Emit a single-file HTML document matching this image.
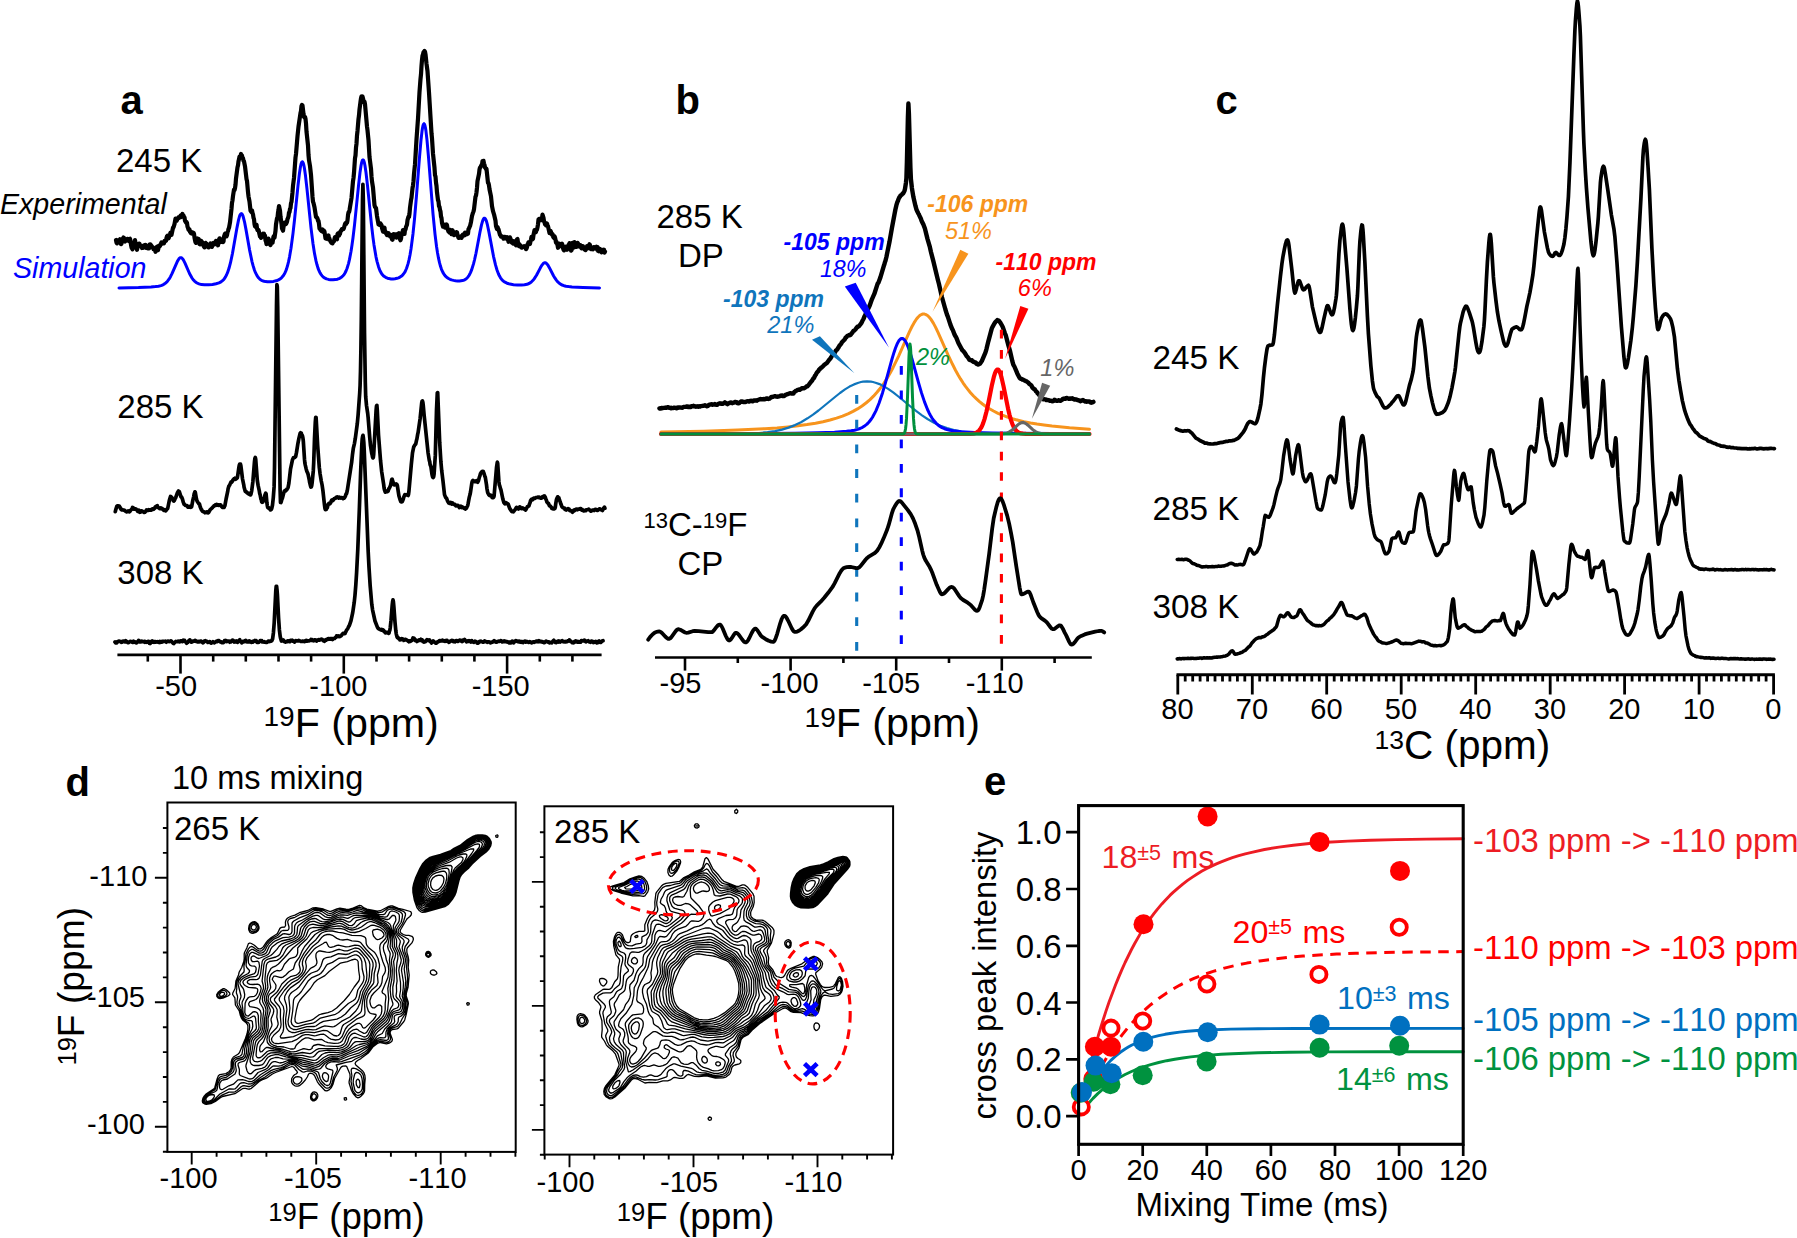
<!DOCTYPE html>
<html><head><meta charset="utf-8"><title>Figure</title>
<style>html,body{margin:0;padding:0;background:#fff}svg{display:block}text{font-family:'Liberation Sans', sans-serif;font-kerning:none;font-variant-ligatures:none}</style>
</head><body>
<svg width="1797" height="1238" viewBox="0 0 1797 1238">
<rect width="1797" height="1238" fill="#fff"/>
<text x="120.5" y="113.7" font-size="40" fill="#000" text-anchor="start" font-weight="bold" font-style="normal" >a</text>
<text x="116.0" y="171.8" font-size="33" fill="#000" text-anchor="start" font-weight="normal" font-style="normal" >245 K</text>
<text x="117.3" y="417.5" font-size="33" fill="#000" text-anchor="start" font-weight="normal" font-style="normal" >285 K</text>
<text x="117.3" y="583.7" font-size="33" fill="#000" text-anchor="start" font-weight="normal" font-style="normal" >308 K</text>
<text x="0.0" y="214.0" font-size="28.6" fill="#000" text-anchor="start" font-weight="normal" font-style="italic" >Experimental</text>
<text x="13.0" y="278.3" font-size="28.6" fill="#0000ff" text-anchor="start" font-weight="normal" font-style="italic" >Simulation</text>
<path d="M116.0 240.0L116.5 242.6L117.0 243.4L118.0 240.5L118.5 240.0L119.0 240.0L119.5 240.2L120.0 239.3L120.5 241.2L121.0 244.2L121.5 243.5L122.5 239.3L123.5 237.5L124.0 238.0L124.5 240.9L125.0 241.4L125.5 240.4L126.0 240.6L126.5 240.6L127.0 240.2L127.5 238.9L128.0 239.0L129.0 241.1L129.5 239.1L130.0 238.8L130.5 240.8L131.0 244.8L131.5 247.4L132.5 249.3L133.0 247.1L133.5 246.6L134.0 243.5L134.5 243.6L135.0 240.0L136.0 245.8L137.0 249.8L137.5 247.4L138.0 246.7L139.0 243.6L139.5 243.9L140.0 246.1L140.5 245.9L141.0 246.5L141.5 245.6L142.0 248.0L142.5 247.7L143.0 247.9L143.5 247.3L144.0 247.1L144.5 245.1L145.0 246.0L145.5 245.0L146.0 247.9L146.5 247.3L147.5 247.1L148.0 248.5L149.0 248.4L149.5 244.6L150.0 244.3L150.5 244.3L151.0 246.1L151.5 245.8L152.0 247.3L152.5 247.0L153.0 247.5L153.5 249.2L154.0 248.5L154.5 248.6L155.0 249.4L155.5 251.8L156.0 250.7L156.5 247.3L157.0 246.8L157.5 249.8L158.0 250.1L159.0 245.7L159.5 245.5L160.0 245.9L161.5 242.4L162.0 243.7L162.5 242.6L163.0 243.3L163.5 242.9L164.0 243.3L164.5 240.9L165.0 241.0L165.5 240.4L166.0 240.8L166.5 237.8L167.0 236.3L167.5 235.6L168.5 238.3L169.0 237.3L169.5 235.1L170.0 234.2L170.5 232.6L171.5 234.8L173.0 227.7L173.5 227.3L174.5 224.2L175.5 218.5L176.0 219.2L176.5 220.8L177.0 220.2L177.5 218.7L178.0 218.6L178.5 217.3L179.0 217.9L180.0 216.6L180.5 215.7L181.0 217.0L181.5 215.3L182.0 215.4L182.5 214.0L183.0 216.0L183.5 215.6L184.0 217.3L184.5 217.3L185.0 221.0L185.5 221.1L186.0 222.6L186.5 222.1L187.0 223.0L187.5 226.7L188.0 227.8L188.5 229.7L189.5 229.5L190.0 231.9L190.5 232.3L191.0 233.2L191.5 233.5L192.0 232.2L192.5 233.3L193.0 232.6L193.5 232.7L194.0 233.8L194.5 237.6L195.0 240.2L195.5 242.2L196.0 242.8L196.5 242.3L197.0 241.0L197.5 238.5L198.0 239.3L198.5 238.9L199.5 244.1L200.0 244.3L200.5 243.5L201.0 240.7L202.0 241.8L202.5 244.0L203.0 243.5L203.5 245.8L204.5 247.4L205.0 244.4L205.5 242.8L206.0 243.4L206.5 243.6L207.0 245.2L207.5 245.7L208.0 247.0L208.5 247.4L209.0 246.9L209.5 245.3L210.5 243.4L211.0 245.0L211.5 245.1L212.0 246.9L212.5 244.3L213.0 244.0L213.5 243.0L214.0 243.5L214.5 244.4L215.0 243.6L216.0 241.0L216.5 241.4L217.0 242.8L217.5 243.6L218.0 245.3L218.5 240.0L219.0 240.0L219.5 238.3L220.0 241.7L220.5 242.1L221.0 241.9L222.0 239.6L222.5 241.9L223.0 242.1L223.5 241.5L224.0 236.7L225.0 233.7L225.5 233.4L226.0 236.1L226.5 236.3L227.0 235.2L227.5 232.2L228.0 231.0L228.5 228.9L229.0 227.9L230.0 222.4L231.5 208.7L232.0 202.8L232.5 200.3L233.0 196.0L234.0 189.5L234.5 190.1L235.0 188.3L235.5 184.8L236.0 178.5L237.5 167.2L238.0 165.4L238.5 161.3L239.0 159.3L239.5 156.5L240.0 156.7L240.5 156.1L241.0 154.0L241.5 157.0L242.0 155.6L242.5 158.0L243.0 158.2L243.5 160.8L244.0 161.3L245.0 166.3L246.5 178.9L247.0 180.9L248.0 192.1L248.5 196.3L249.5 201.5L250.5 210.6L251.5 212.2L252.0 210.5L252.5 213.0L253.0 214.4L253.5 217.7L254.0 219.1L254.5 224.0L255.0 226.2L255.5 226.9L256.0 225.3L256.5 224.6L257.0 228.5L257.5 230.3L258.0 230.4L258.5 230.0L260.0 236.4L260.5 236.8L261.0 237.8L261.5 235.2L262.0 235.7L262.5 235.3L263.0 233.7L263.5 234.2L264.0 233.7L264.5 237.1L265.0 235.4L265.5 240.4L266.0 241.3L266.5 244.1L267.5 241.2L268.0 238.7L268.5 238.6L269.0 240.3L269.5 243.1L270.0 244.6L270.5 245.0L271.0 242.3L271.5 240.6L272.0 242.0L272.5 242.8L273.5 236.7L274.0 236.0L274.5 237.7L275.5 230.9L276.0 224.3L277.0 218.4L277.5 217.6L278.0 212.7L278.5 210.0L279.0 206.0L280.0 210.8L280.5 216.6L281.5 223.6L282.0 228.5L283.0 230.7L283.5 227.0L284.0 224.3L284.5 222.6L285.0 223.0L285.5 223.8L286.0 224.0L286.5 223.1L287.0 221.8L287.5 218.9L288.0 218.0L288.5 216.2L289.0 212.6L289.5 212.2L290.0 208.9L290.5 208.0L291.0 203.3L291.5 201.9L292.5 192.2L293.0 185.8L294.0 178.0L295.5 157.5L296.0 154.0L297.5 136.1L298.5 126.6L300.5 113.0L301.0 110.9L301.5 106.0L302.0 104.9L302.5 105.4L303.5 113.9L304.0 116.9L304.5 117.6L305.0 116.9L305.5 118.7L306.0 123.5L306.5 131.6L308.0 145.4L308.5 155.0L309.0 160.2L310.0 166.0L311.0 174.9L312.5 196.7L313.0 201.8L313.5 203.1L314.5 207.3L316.0 216.9L316.5 217.6L317.0 217.5L317.5 218.6L318.0 220.7L318.5 220.9L319.0 224.0L319.5 228.4L320.0 228.7L320.5 230.1L321.0 230.3L321.5 231.0L322.5 229.5L323.0 231.9L323.5 231.1L324.0 230.8L324.5 231.8L325.5 238.5L326.0 237.6L326.5 238.7L327.0 238.1L327.5 237.3L328.0 237.6L328.5 235.5L329.0 239.6L329.5 238.7L330.0 240.5L331.0 242.2L331.5 242.8L332.5 243.3L333.0 242.2L333.5 241.6L334.0 241.3L334.5 238.9L335.0 237.1L335.5 237.5L336.0 238.6L337.0 239.3L337.5 234.2L338.0 233.4L338.5 234.1L339.0 235.6L339.5 234.5L340.0 233.8L340.5 231.0L341.0 231.0L342.0 229.1L342.5 228.8L343.5 229.1L344.0 227.7L345.0 224.0L345.5 223.2L346.0 224.0L346.5 222.4L347.0 222.7L347.5 220.4L348.0 215.2L348.5 212.3L349.0 212.2L349.5 210.2L351.5 198.0L353.0 181.2L353.5 178.0L354.0 172.8L355.0 158.2L355.5 155.5L356.0 147.6L356.5 143.7L357.0 135.4L357.5 130.9L358.5 119.0L359.0 115.4L359.5 109.5L360.5 101.7L361.0 98.2L361.5 96.4L362.0 97.0L362.5 96.5L364.0 102.4L364.5 101.7L365.0 104.1L367.0 126.5L367.5 130.3L368.5 140.2L369.5 157.1L371.0 168.7L371.5 176.4L372.0 181.4L373.0 187.7L374.5 205.2L375.0 206.9L376.0 208.1L377.0 216.1L378.5 224.3L379.0 224.7L379.5 224.9L380.0 223.3L380.5 223.5L381.5 225.1L382.0 227.9L383.0 231.5L384.0 228.1L384.5 227.7L385.0 232.2L385.5 231.6L386.0 233.5L386.5 232.7L387.0 235.2L387.5 234.3L388.0 234.1L388.5 233.1L389.0 234.7L389.5 235.4L390.0 236.4L390.5 235.5L391.0 235.0L392.0 239.4L392.5 239.7L393.0 237.6L393.5 234.2L394.0 234.2L394.5 236.0L395.0 235.6L395.5 235.8L396.0 234.5L396.5 237.7L397.0 236.2L397.5 236.5L398.0 233.7L398.5 233.7L399.0 233.1L400.0 239.2L400.5 240.2L401.0 238.6L401.5 235.0L402.0 232.9L402.5 232.7L403.0 230.0L403.5 232.3L404.5 233.9L405.0 229.7L405.5 229.7L406.0 227.0L407.0 224.6L407.5 220.2L408.5 216.7L409.0 217.0L409.5 213.6L410.0 207.7L411.0 200.2L411.5 197.6L412.5 188.1L413.0 185.3L413.5 181.2L414.0 174.0L415.0 164.2L416.5 139.4L418.0 118.6L419.5 92.0L420.5 79.0L421.0 74.3L421.5 66.0L422.0 60.0L422.5 55.8L423.0 54.4L423.5 52.1L424.0 52.6L424.5 51.0L425.0 51.7L425.5 54.3L426.5 63.7L427.5 71.1L429.0 92.7L431.5 133.3L432.0 138.4L433.0 153.7L434.5 167.8L435.0 175.3L435.5 176.6L436.0 182.6L436.5 185.9L437.0 192.3L438.0 200.2L438.5 201.4L439.0 206.4L439.5 206.8L440.0 210.0L440.5 211.5L441.0 216.5L441.5 218.0L442.0 222.9L443.0 226.6L443.5 224.3L444.0 226.3L444.5 224.7L445.0 227.6L446.0 226.1L446.5 224.4L447.0 225.2L447.5 228.7L448.5 231.6L449.0 231.8L449.5 232.5L450.0 229.9L450.5 230.2L451.0 232.5L451.5 234.2L452.0 232.7L452.5 230.2L453.5 234.0L454.0 235.0L454.5 232.4L455.0 233.7L455.5 234.5L456.0 234.7L456.5 232.1L457.0 232.5L457.5 234.9L458.5 237.8L459.0 237.1L459.5 237.8L460.0 237.5L460.5 236.7L461.0 237.8L461.5 237.9L462.0 236.7L462.5 234.9L463.0 234.4L463.5 235.6L464.0 235.3L464.5 235.4L465.0 232.5L465.5 233.0L466.0 233.8L466.5 233.3L467.0 234.2L467.5 232.7L468.0 233.6L468.5 229.1L469.0 228.5L469.5 227.0L470.0 226.2L471.0 221.9L472.0 216.0L473.0 212.6L473.5 211.5L474.0 209.2L475.5 196.6L476.0 195.6L476.5 192.2L477.0 187.7L477.5 181.1L479.0 173.9L479.5 169.6L480.0 167.6L480.5 167.2L481.0 165.9L481.5 165.0L482.0 164.7L482.5 161.0L483.0 162.1L483.5 160.8L484.0 163.7L484.5 164.9L485.0 167.5L485.5 168.0L486.0 169.2L486.5 169.0L488.0 182.9L488.5 183.1L489.0 185.5L489.5 189.2L491.0 196.4L492.0 206.2L493.0 211.2L494.0 214.3L495.5 220.8L496.0 226.1L497.0 229.1L497.5 227.0L498.0 228.4L498.5 229.3L500.0 235.0L500.5 235.1L501.0 236.6L501.5 236.7L502.0 236.4L503.0 237.0L503.5 238.7L504.0 238.4L504.5 236.8L505.0 237.7L505.5 237.8L506.0 238.4L506.5 237.9L507.0 237.1L507.5 239.6L508.0 239.6L508.5 241.8L509.5 239.7L510.0 237.4L511.0 240.0L511.5 242.3L512.0 242.8L512.5 242.4L513.0 243.5L513.5 241.2L514.0 242.3L514.5 241.3L515.0 241.5L515.5 243.8L516.0 245.3L516.5 242.9L517.0 239.3L517.5 239.0L518.0 242.7L518.5 245.0L519.0 246.1L519.5 244.3L520.0 245.9L520.5 245.4L521.0 247.3L522.0 247.7L522.5 246.8L523.0 246.7L523.5 246.3L524.0 246.7L524.5 246.2L525.0 246.3L525.5 246.6L526.0 249.2L526.5 248.5L527.0 247.2L527.5 244.4L528.0 243.7L528.5 242.3L529.0 243.0L529.5 243.2L530.0 244.0L530.5 241.1L531.0 239.7L531.5 236.9L532.0 239.2L532.5 239.4L533.0 238.7L533.5 235.0L534.5 230.2L535.0 230.9L535.5 231.3L536.0 232.0L536.5 229.2L537.0 229.6L537.5 227.4L538.0 224.2L538.5 219.6L539.0 219.1L539.5 220.6L540.5 218.7L541.5 220.0L542.0 218.2L542.5 214.5L543.5 217.8L544.0 221.4L544.5 222.2L545.0 224.3L545.5 224.2L546.0 225.2L546.5 224.1L547.0 223.5L547.5 225.2L548.0 226.2L549.5 233.0L550.0 231.8L550.5 230.9L552.0 234.6L552.5 234.0L553.0 236.5L553.5 237.3L554.0 237.9L554.5 236.2L555.0 237.5L555.5 239.7L556.0 242.7L556.5 241.9L557.5 245.0L558.0 247.8L558.5 246.8L559.5 243.7L560.0 244.1L560.5 246.0L561.0 245.3L561.5 244.2L562.0 243.7L562.5 245.0L563.0 248.0L563.5 249.6L564.0 250.4L564.5 248.4L565.0 247.1L565.5 246.8L566.0 249.5L566.5 248.9L567.0 249.7L568.0 247.8L568.5 244.9L569.0 245.5L569.5 243.1L570.5 246.4L571.0 250.6L571.5 250.3L572.0 248.0L572.5 242.9L573.0 244.7L573.5 245.2L574.0 247.5L574.5 242.2L575.0 244.3L575.5 243.8L576.0 247.0L576.5 246.9L577.0 245.6L577.5 242.8L578.0 243.5L579.0 246.5L579.5 246.4L580.0 245.2L580.5 245.2L581.0 247.6L581.5 248.3L582.0 247.2L582.5 247.5L583.0 246.2L583.5 248.0L584.0 248.1L584.5 249.4L585.0 249.3L585.5 250.1L586.0 248.9L586.5 248.7L587.0 246.1L587.5 248.4L588.0 247.7L588.5 248.1L589.0 246.6L589.5 244.2L590.0 245.2L590.5 248.0L591.0 249.2L591.5 249.0L592.0 247.5L592.5 248.0L593.0 249.2L593.5 248.5L594.0 247.1L594.5 247.3L595.0 247.9L595.5 247.9L596.0 247.5L596.5 246.8L597.0 249.6L597.5 247.1L598.0 250.8L598.5 249.0L599.0 251.3L599.5 250.4L600.0 249.0L600.5 251.2L601.0 251.6L601.5 252.3L602.0 250.2L602.5 249.8L603.5 250.4L604.0 249.7L604.5 252.7L605.0 251.6" fill="none" stroke="#000" stroke-width="4.2" stroke-linejoin="round" stroke-linecap="round" />
<path d="M119.0 288.0L138.5 287.6L151.0 287.0L155.5 286.6L158.5 286.2L161.0 285.6L163.0 284.8L164.5 283.9L166.0 282.8L167.5 281.2L169.0 279.2L170.5 276.7L172.0 273.7L177.5 261.1L179.0 258.7L180.0 257.8L180.5 257.7L181.0 257.7L182.0 258.2L182.5 258.7L183.5 260.2L185.0 263.2L189.5 273.5L192.0 278.0L193.0 279.4L194.5 281.1L195.5 282.0L197.0 283.0L199.0 283.9L201.5 284.6L204.5 284.8L208.5 284.8L212.5 284.5L216.0 283.8L219.0 282.9L221.0 281.9L222.5 280.7L223.5 279.7L224.5 278.5L225.5 276.9L226.5 275.0L227.5 272.7L229.0 268.3L230.5 262.7L232.5 253.3L237.0 227.6L238.5 220.1L239.5 216.4L240.0 215.1L240.5 214.2L241.0 213.7L241.5 213.6L242.0 214.0L242.5 214.8L243.0 216.0L244.5 221.8L246.0 229.6L249.5 249.6L252.0 261.6L253.0 265.4L254.5 270.2L255.5 272.7L257.0 275.7L258.5 277.8L259.5 278.8L260.5 279.7L261.5 280.3L263.0 281.0L265.5 281.6L267.5 281.8L269.5 281.8L273.5 281.4L277.0 280.5L278.5 279.9L280.0 279.0L281.5 277.8L283.0 276.1L284.5 273.8L285.5 271.7L286.5 269.1L287.5 265.8L288.5 261.9L289.5 257.1L291.0 248.3L293.0 233.4L294.5 220.0L298.0 185.6L299.5 172.9L300.5 166.6L301.0 164.3L301.5 162.7L302.0 161.9L302.5 161.8L303.0 162.5L303.5 163.9L304.0 166.0L304.5 168.7L305.5 175.8L307.0 189.2L311.0 227.9L313.0 243.8L314.5 253.4L316.0 260.9L317.0 264.8L318.0 268.1L319.0 270.7L320.0 272.8L321.0 274.4L322.0 275.7L323.5 277.2L325.0 278.2L326.5 278.9L328.5 279.4L330.5 279.7L333.0 279.8L335.5 279.6L337.5 279.2L339.0 278.6L340.5 277.9L342.0 276.8L343.0 275.8L344.0 274.6L345.0 273.0L346.0 271.0L347.0 268.5L348.5 263.6L349.5 259.4L351.0 251.5L352.0 245.1L353.0 237.8L354.5 225.1L358.5 185.8L360.0 172.5L361.0 165.8L361.5 163.2L362.0 161.4L362.5 160.2L363.0 159.8L363.5 160.2L364.0 161.3L364.5 163.2L365.0 165.7L366.0 172.5L367.5 185.7L371.5 224.9L373.0 237.6L374.0 244.9L376.0 256.8L377.0 261.3L378.5 266.7L380.0 270.7L381.0 272.6L382.0 274.2L383.0 275.4L384.0 276.3L386.0 277.6L387.5 278.2L389.0 278.6L391.0 278.9L393.0 278.9L395.0 278.7L397.0 278.3L398.5 277.8L400.0 277.1L402.0 275.7L403.5 274.0L405.0 271.8L406.5 268.5L408.0 263.9L409.0 259.9L410.0 255.0L411.0 249.0L413.0 233.7L414.5 219.0L416.5 195.7L419.5 157.1L421.0 140.0L422.0 131.3L422.5 128.0L423.0 125.6L423.5 124.2L424.0 123.7L424.5 124.2L425.0 125.7L425.5 128.1L426.0 131.3L427.0 140.1L428.5 157.2L433.0 213.9L435.0 234.1L436.5 246.2L437.5 252.7L438.5 258.2L439.5 262.7L440.5 266.3L441.5 269.3L443.0 272.6L444.5 275.0L446.0 276.7L447.0 277.5L448.5 278.5L450.0 279.3L451.5 279.9L453.5 280.4L455.5 280.8L457.5 281.0L459.5 281.0L462.5 280.6L464.0 280.1L465.0 279.6L466.0 278.9L467.0 278.1L468.0 276.9L469.0 275.5L470.5 272.6L471.5 270.2L473.5 263.9L474.5 260.0L476.0 253.2L480.0 232.0L481.5 224.9L482.5 221.3L483.0 219.9L483.5 218.9L484.0 218.3L484.5 218.2L485.0 218.4L485.5 219.0L486.0 220.1L486.5 221.4L487.5 225.2L489.0 232.4L493.5 256.3L495.5 264.9L497.0 270.0L498.5 274.0L499.5 276.1L500.5 277.8L501.5 279.2L502.5 280.3L503.5 281.2L505.0 282.2L507.0 283.2L510.0 284.1L513.5 284.7L517.5 285.0L521.5 285.1L524.5 284.8L527.0 284.3L529.0 283.5L530.5 282.6L531.5 281.8L533.0 280.3L534.0 279.1L536.5 275.3L540.5 267.6L542.0 265.1L543.5 263.3L544.5 262.7L545.0 262.7L545.5 262.7L546.5 263.4L548.0 265.2L549.5 267.9L553.5 275.7L555.0 278.2L556.5 280.4L557.5 281.6L559.0 283.0L560.5 284.1L562.0 285.0L564.0 285.7L566.0 286.2L568.5 286.6L572.0 287.0L583.0 287.5L599.5 287.9" fill="none" stroke="#0000ff" stroke-width="3.0" stroke-linejoin="round" stroke-linecap="round" />
<path d="M115.3 511.7L115.7 509.9L116.9 506.1L117.3 505.9L118.1 505.9L118.5 506.6L119.3 506.2L119.7 507.0L120.1 507.3L120.5 508.4L121.3 509.6L121.7 509.8L122.5 509.6L122.9 510.0L124.1 510.3L124.5 510.2L124.9 510.6L125.3 510.8L125.7 511.3L126.1 511.4L126.5 511.9L126.9 511.8L127.3 511.3L127.7 511.4L128.1 511.0L128.5 511.2L128.9 511.7L129.3 511.8L129.7 511.6L130.5 510.4L131.3 509.7L132.1 508.5L132.5 507.5L133.3 507.8L133.7 508.7L134.1 509.1L134.5 508.9L134.9 509.0L135.3 508.9L136.1 509.0L136.5 509.8L136.9 509.9L137.7 511.3L138.1 510.5L138.5 511.0L138.9 510.2L139.3 510.7L139.7 512.3L140.1 511.9L140.5 512.1L140.9 511.1L141.3 510.8L142.1 511.0L144.1 512.4L144.5 512.0L144.9 512.2L145.7 511.3L146.5 510.0L146.9 510.5L147.3 510.3L147.7 510.5L148.1 510.4L148.5 509.8L148.9 510.1L149.3 509.9L149.7 509.9L150.1 510.1L150.5 509.9L150.9 510.2L151.3 510.2L151.7 509.3L152.5 508.8L153.3 508.8L153.7 509.2L154.1 508.4L154.5 508.0L154.9 508.1L155.3 506.9L155.7 507.4L156.1 506.9L156.5 506.1L157.3 505.7L157.7 506.6L158.9 508.2L159.3 508.0L159.7 508.7L160.1 508.7L160.5 508.0L160.9 507.9L161.3 508.3L161.7 508.3L162.1 508.6L162.5 509.2L162.9 509.3L163.7 510.2L164.1 509.7L164.5 509.9L165.3 510.8L165.7 510.9L166.9 509.2L167.7 508.5L169.3 500.6L170.5 496.5L170.9 496.6L171.7 497.3L172.1 498.3L172.5 498.5L172.9 499.2L173.3 500.7L173.7 501.0L174.5 500.3L174.9 498.9L175.7 497.7L177.3 493.0L178.5 491.0L178.9 491.5L179.3 491.6L180.9 496.6L181.3 497.2L181.7 497.2L182.5 499.2L183.3 502.4L183.7 503.1L184.1 504.3L184.5 504.4L185.3 505.4L186.9 505.5L187.7 506.9L188.1 507.2L188.5 506.9L188.9 506.9L189.7 506.5L190.1 507.2L190.5 507.1L190.9 507.3L191.3 507.0L191.7 506.5L192.9 499.9L193.7 496.6L194.1 494.2L194.9 491.8L195.3 492.4L196.5 499.2L196.9 500.6L197.7 502.2L198.5 503.0L198.9 503.9L199.3 503.8L199.7 504.8L200.1 506.5L200.9 508.5L201.3 509.4L201.7 509.7L202.1 510.7L202.5 511.3L202.9 511.6L203.7 511.6L204.9 512.7L205.3 512.3L205.7 512.5L206.5 511.9L206.9 512.5L207.3 512.2L207.7 512.7L208.1 512.9L208.5 512.7L208.9 512.2L209.3 511.1L210.5 509.3L211.7 508.3L212.1 507.8L212.5 507.6L213.3 506.5L213.7 506.5L214.1 505.7L214.5 505.4L214.9 505.6L215.3 504.9L215.7 505.4L216.5 504.5L216.9 504.7L217.3 504.6L217.7 505.2L218.1 505.3L218.9 505.2L219.7 504.8L220.1 504.8L220.5 505.4L220.9 505.2L221.3 506.2L222.5 507.4L222.9 507.5L223.7 506.9L224.1 507.4L224.5 506.0L224.9 505.7L226.1 499.0L227.7 491.4L228.1 488.7L228.9 486.1L229.3 485.7L229.7 485.0L230.9 482.2L231.3 482.5L231.7 482.0L232.1 481.8L232.9 480.1L233.3 480.0L233.7 479.1L234.1 478.6L234.5 478.8L234.9 478.3L235.7 479.2L236.1 478.7L236.5 478.5L237.3 477.8L237.7 475.7L238.9 467.3L239.3 465.2L239.7 464.1L240.5 464.1L240.9 465.9L242.5 478.8L243.7 484.6L244.1 487.3L245.3 491.5L245.7 491.6L246.1 491.9L246.5 491.9L246.9 492.7L247.3 492.7L247.7 493.4L248.1 493.6L248.5 493.4L248.9 494.0L249.3 493.5L249.7 494.4L250.1 494.5L250.5 494.9L250.9 494.4L251.7 490.8L252.9 481.4L254.5 461.5L254.9 458.5L255.3 457.5L255.7 459.1L257.3 480.4L258.1 485.4L259.3 490.9L259.7 493.5L260.1 494.6L260.9 499.0L261.3 499.7L261.7 501.9L262.1 502.3L262.9 502.0L264.5 497.1L264.9 495.2L265.7 493.2L266.1 493.8L266.9 502.8L267.3 505.6L267.7 507.4L268.1 507.9L268.5 507.5L268.9 508.4L269.3 508.8L269.7 508.7L270.5 509.9L270.9 509.0L271.3 509.4L271.7 508.7L272.5 505.0L273.3 497.6L274.1 486.9L274.5 468.4L276.5 305.9L276.9 284.6L277.3 286.9L277.7 306.5L280.1 489.9L280.5 502.4L280.9 502.5L281.3 501.5L281.7 499.9L282.5 497.8L284.1 491.6L284.5 491.0L284.9 491.2L285.3 490.3L285.7 490.8L286.1 490.4L286.5 489.5L286.9 489.6L287.3 488.5L287.7 488.4L288.1 487.4L288.9 483.1L290.5 469.2L292.5 459.7L293.3 457.9L293.7 457.8L294.1 457.3L294.5 457.5L294.9 457.3L295.7 456.4L296.5 452.4L297.7 444.7L298.9 438.4L300.1 433.3L300.5 432.8L300.9 433.4L301.3 433.2L301.7 434.9L302.1 435.1L302.5 436.0L302.9 437.8L303.3 440.9L304.5 459.2L304.9 463.2L305.3 465.2L306.1 468.7L306.9 471.5L307.7 473.1L308.1 474.3L309.3 480.1L309.7 482.6L310.5 485.9L310.9 487.0L311.3 486.8L311.7 485.6L312.1 483.0L313.3 470.7L313.7 462.9L314.5 438.9L315.3 422.1L315.7 417.3L316.1 417.6L317.7 446.2L319.3 467.5L320.1 474.0L321.3 481.1L322.1 485.0L322.9 490.5L324.5 505.1L324.9 508.1L325.3 509.6L326.1 509.5L326.5 509.0L326.9 508.1L327.3 507.8L328.1 504.4L328.5 504.0L328.9 503.3L329.3 503.1L329.7 503.8L330.1 503.6L330.9 502.3L331.3 500.8L331.7 500.1L332.1 499.9L332.9 500.5L333.7 499.6L334.1 498.7L334.5 498.7L334.9 498.3L335.7 498.2L336.1 497.4L336.5 497.5L336.9 497.0L337.3 496.8L337.7 497.5L338.1 497.3L338.9 498.0L339.3 497.1L339.7 497.7L340.1 497.8L340.5 498.1L341.3 497.5L341.7 497.7L342.1 497.7L342.5 498.4L342.9 498.6L343.3 498.2L343.7 498.1L344.1 498.2L344.5 497.8L344.9 496.9L345.3 496.4L346.1 493.9L346.5 493.9L347.3 490.5L351.7 461.9L352.5 454.4L353.3 448.4L354.5 443.3L355.3 438.4L357.3 423.6L358.1 415.0L359.7 393.1L360.1 385.3L360.5 370.9L360.9 349.9L361.3 320.1L362.5 199.8L362.9 184.3L363.3 198.6L364.5 332.7L365.3 382.2L365.7 396.7L366.5 405.5L367.7 413.4L368.1 417.2L369.7 437.2L370.5 445.5L371.7 453.3L372.1 454.7L372.5 456.8L372.9 457.9L373.3 457.6L373.7 454.4L376.1 410.3L376.5 406.0L376.9 405.4L377.3 410.5L378.5 434.8L380.5 460.3L381.7 471.7L383.7 484.7L384.1 488.1L384.5 489.9L385.3 492.2L385.7 492.0L386.9 491.2L387.3 491.6L387.7 491.2L388.1 491.1L388.9 488.5L389.3 488.2L390.5 485.6L391.7 479.5L392.1 479.1L392.9 481.5L393.3 483.2L393.7 484.3L394.1 484.8L394.9 484.8L395.7 484.1L396.1 483.9L396.9 484.3L397.3 485.4L398.9 495.8L400.1 499.7L400.9 501.7L401.3 501.9L402.1 501.7L402.5 501.1L403.3 499.1L403.7 497.4L404.1 496.3L404.9 494.6L405.3 495.1L405.7 495.0L406.1 494.7L406.5 495.0L406.9 494.8L408.1 495.5L408.5 494.6L408.9 491.6L411.3 464.5L412.5 452.9L413.7 447.0L414.9 444.9L415.7 444.2L416.5 440.3L416.9 439.0L417.7 434.1L418.1 432.5L420.1 418.7L421.7 403.0L422.1 401.2L422.5 401.0L422.9 402.4L423.3 405.8L424.1 414.8L428.1 453.0L429.3 460.5L429.7 461.5L430.1 464.5L430.9 466.7L432.1 474.9L432.5 476.6L432.9 477.3L433.3 477.5L433.7 476.5L434.1 473.9L435.3 455.4L436.5 410.3L437.3 392.9L437.7 392.6L439.7 442.7L440.9 462.0L441.7 470.6L442.9 480.2L444.5 494.6L445.7 497.6L446.5 498.1L447.7 501.3L448.5 502.7L448.9 503.1L449.7 503.4L450.1 503.0L450.5 502.4L450.9 503.1L451.7 504.0L452.1 503.8L452.5 503.0L453.7 504.3L454.9 504.4L455.3 504.9L455.7 505.8L456.1 505.7L456.5 505.8L457.3 505.3L457.7 505.3L458.1 505.6L458.5 506.4L458.9 506.6L459.3 507.5L459.7 507.3L460.1 506.6L460.5 506.8L460.9 506.3L461.7 507.5L462.1 506.8L462.5 507.3L462.9 507.2L463.3 507.5L463.7 508.2L464.1 508.1L464.5 508.4L464.9 508.2L465.3 509.0L465.7 508.8L466.1 508.2L466.5 508.1L466.9 506.8L467.3 506.3L467.7 505.5L468.1 503.7L469.3 497.2L470.1 494.3L470.5 492.2L471.7 483.9L472.1 481.9L472.5 480.9L472.9 480.5L473.7 480.9L474.9 481.7L475.3 481.6L476.1 480.9L476.5 480.7L477.3 481.9L477.7 482.2L478.5 480.6L479.3 477.4L479.7 476.4L480.5 473.6L480.9 473.3L481.3 472.2L482.5 471.3L482.9 471.3L483.3 471.6L484.1 473.7L484.9 476.5L485.3 477.2L486.5 484.7L486.9 488.3L487.7 492.6L488.9 494.9L489.7 495.6L490.1 495.5L490.5 495.1L490.9 495.2L491.3 495.9L491.7 496.3L492.1 497.5L492.5 497.7L492.9 497.6L493.3 497.7L493.7 497.2L494.1 495.9L496.5 467.6L497.3 462.2L497.7 463.4L498.9 481.4L499.3 484.8L499.7 485.6L500.5 488.7L500.9 489.6L502.9 499.3L503.7 502.0L504.1 502.9L504.9 503.9L505.3 502.8L505.7 502.6L506.1 502.7L506.5 503.0L506.9 503.7L507.3 503.9L507.7 503.7L508.1 504.0L509.7 508.4L511.7 511.4L512.1 511.6L512.5 511.4L512.9 511.7L513.3 511.8L513.7 511.0L514.1 510.9L514.5 510.3L515.3 509.5L515.7 508.5L516.5 507.4L516.9 507.5L517.3 508.2L517.7 508.4L518.1 508.4L518.5 509.0L518.9 508.2L519.3 507.9L519.7 506.9L520.1 507.0L520.5 507.9L520.9 508.1L521.3 508.6L521.7 508.4L522.1 508.5L522.5 508.0L523.3 508.8L523.7 508.4L524.5 509.0L524.9 509.1L525.3 509.8L525.7 510.0L527.3 506.8L528.1 506.5L528.5 506.0L528.9 506.0L529.7 503.4L530.1 502.7L530.5 500.8L531.3 499.5L531.7 499.1L532.1 499.6L532.5 499.8L532.9 499.5L533.3 498.7L533.7 498.2L534.1 498.4L534.9 498.3L535.3 498.1L535.7 497.5L537.3 497.5L537.7 497.1L538.1 497.3L538.5 497.2L538.9 497.2L539.3 497.6L539.7 497.4L540.1 497.7L540.5 498.2L540.9 498.1L541.3 497.7L541.7 498.0L542.1 497.1L542.5 496.8L542.9 497.3L543.3 496.5L544.1 495.8L544.5 496.0L545.3 497.2L545.7 498.7L546.5 500.5L546.9 502.1L547.3 502.3L548.1 503.3L548.5 503.4L549.3 505.5L549.7 505.9L550.5 506.2L550.9 506.9L551.3 507.2L551.7 508.3L552.1 508.6L552.5 508.4L552.9 508.8L553.3 508.3L553.7 508.3L554.1 508.9L554.5 508.6L554.9 508.6L555.3 507.2L555.7 504.0L556.5 499.4L556.9 498.4L557.3 497.8L557.7 496.8L558.1 497.4L558.5 497.5L558.9 497.9L559.7 500.7L560.1 501.5L560.9 504.1L562.1 506.9L562.9 507.6L563.7 507.9L564.1 508.2L564.5 508.2L564.9 509.4L565.3 509.5L566.1 510.0L566.9 509.1L567.3 509.5L567.7 509.2L568.1 508.6L568.5 509.4L568.9 508.9L569.3 509.5L569.7 510.6L570.9 510.7L571.3 511.0L571.7 511.0L572.1 511.9L572.5 512.3L572.9 511.2L573.3 511.4L573.7 510.3L574.1 510.0L574.5 510.5L576.1 509.1L576.5 509.2L577.3 509.8L577.7 509.7L578.1 509.0L578.5 509.0L578.9 509.2L579.3 509.0L579.7 509.2L580.1 508.6L580.5 508.7L580.9 508.7L581.7 510.0L582.1 509.4L582.9 510.1L583.3 510.6L583.7 510.9L585.3 510.3L585.7 510.6L586.1 509.9L586.9 509.9L588.1 509.4L588.5 509.7L588.9 509.3L589.3 509.8L590.1 510.2L590.5 511.0L590.9 510.8L591.3 511.0L592.1 510.3L592.9 510.1L593.3 510.2L593.7 510.1L594.1 510.5L594.9 509.5L595.3 509.3L596.1 509.6L596.9 510.3L597.3 510.1L597.7 510.3L598.1 509.6L598.5 509.7L599.3 508.9L599.7 509.4L600.1 509.1L600.5 509.6L600.9 509.4L601.7 510.1L602.1 510.1L602.5 510.5L603.7 508.1L604.1 508.0L604.5 507.2L604.9 508.2" fill="none" stroke="#000" stroke-width="3.7" stroke-linejoin="round" stroke-linecap="round" />
<path d="M115.0 642.0L115.8 642.9L116.2 642.5L116.6 642.9L117.8 641.6L118.2 641.5L118.6 641.1L119.0 641.3L119.4 641.2L120.2 641.5L120.6 641.7L121.0 642.2L121.4 641.8L121.8 642.2L122.2 642.1L123.0 641.2L123.4 641.7L123.8 641.6L124.2 641.3L124.6 641.8L125.0 641.9L125.8 640.7L126.2 641.2L127.0 641.6L127.8 642.7L128.2 642.6L128.6 642.7L129.0 642.2L129.4 642.0L129.8 642.0L130.2 641.4L131.4 641.5L131.8 642.0L132.2 642.3L132.6 641.7L133.0 642.4L133.4 642.1L133.8 641.3L134.6 642.0L135.0 641.8L135.8 642.7L136.6 642.9L137.4 642.2L137.8 641.2L138.2 641.1L138.6 640.4L139.0 640.9L139.4 641.6L139.8 641.9L140.2 641.5L140.6 641.9L141.0 641.9L141.4 641.1L141.8 641.3L143.0 641.6L143.8 641.6L144.6 642.2L145.0 641.4L145.4 642.0L146.2 642.3L147.0 642.0L147.4 641.5L147.8 641.6L148.2 641.3L148.6 641.3L149.4 643.2L149.8 642.9L150.2 643.5L150.6 642.9L151.0 641.7L151.4 641.3L151.8 641.3L152.2 640.9L153.0 642.2L153.4 642.2L153.8 642.3L154.2 641.6L154.6 641.6L155.0 641.6L155.4 642.0L155.8 641.6L156.2 642.1L157.4 641.7L157.8 642.2L158.2 642.0L159.0 642.5L159.4 641.7L159.8 641.5L160.2 642.1L160.6 642.3L161.0 642.0L161.8 642.2L162.2 641.3L163.4 641.6L163.8 641.3L164.2 641.5L165.4 641.2L166.2 642.2L167.0 641.6L167.4 641.5L167.8 641.0L168.2 641.0L169.0 641.6L169.8 641.5L170.6 641.0L171.0 640.9L171.4 641.1L173.0 643.2L173.8 643.5L174.2 642.8L174.6 642.6L175.0 642.1L175.4 641.9L175.8 641.4L176.2 641.7L176.6 641.5L177.0 641.7L177.4 641.5L177.8 641.7L178.2 641.1L178.6 641.5L179.0 641.4L179.4 641.8L180.2 641.7L180.6 640.8L181.0 640.8L181.4 641.2L181.8 640.9L182.6 641.6L183.0 641.1L183.4 640.1L184.2 640.5L184.6 640.4L185.0 641.4L185.4 641.8L185.8 642.1L186.6 643.2L187.0 642.3L187.4 642.2L187.8 642.4L188.6 640.8L189.0 640.8L189.4 640.5L189.8 639.9L190.2 640.3L191.0 641.8L191.4 642.2L191.8 642.0L192.2 641.9L193.0 641.1L193.4 641.0L194.2 641.2L195.0 640.4L195.4 640.5L195.8 641.2L196.2 641.5L196.6 641.4L197.0 641.7L197.4 641.9L198.2 641.4L198.6 641.7L199.4 641.8L200.2 641.2L200.6 641.5L201.0 641.1L201.4 641.2L202.6 642.6L203.0 642.8L203.8 642.1L204.6 640.9L205.0 640.9L205.4 640.7L206.2 641.3L206.6 641.4L207.0 641.3L207.8 642.4L208.2 642.1L209.0 642.2L209.4 641.7L209.8 641.6L210.6 642.5L211.0 643.1L211.4 643.1L211.8 642.6L212.6 642.3L213.0 641.8L214.2 642.8L215.0 642.4L215.4 641.8L215.8 641.8L216.2 641.5L216.6 641.1L217.0 641.2L217.4 641.5L217.8 640.7L218.2 640.6L219.0 640.7L219.8 641.6L220.2 641.7L220.6 642.0L221.0 642.1L221.4 641.9L221.8 642.5L222.2 642.3L222.6 642.6L223.0 642.4L223.4 642.6L223.8 642.1L224.2 641.9L224.6 640.6L225.0 641.4L225.8 640.4L226.2 640.7L226.6 641.5L227.0 641.1L227.4 641.4L227.8 641.2L228.2 641.4L228.6 641.2L229.0 641.1L229.4 641.4L229.8 642.2L230.2 641.9L230.6 642.0L231.0 641.9L231.8 640.6L232.6 640.1L233.0 640.2L233.4 640.7L234.2 642.1L235.4 641.7L236.2 641.0L236.6 641.8L237.0 641.9L237.4 642.4L237.8 642.1L238.6 640.7L239.8 639.8L240.2 641.0L240.6 641.3L241.0 641.9L241.4 642.0L241.8 642.8L242.2 641.9L242.6 642.2L243.0 641.4L243.4 641.6L243.8 641.6L244.2 641.5L244.6 641.0L245.0 641.5L245.4 641.3L245.8 640.4L246.2 641.2L247.0 641.8L247.4 642.0L247.8 642.0L248.2 641.5L248.6 641.9L249.0 641.1L249.4 640.9L250.2 641.9L251.0 641.7L251.4 642.4L252.6 641.7L253.0 642.0L253.4 641.1L253.8 641.1L254.2 641.4L255.0 640.4L255.4 640.8L255.8 641.0L256.2 640.8L256.6 641.8L257.0 642.3L257.4 642.2L258.2 642.4L258.6 642.2L259.0 642.1L259.4 641.6L259.8 641.4L260.2 640.6L261.0 640.7L261.4 641.0L261.8 640.8L262.2 641.8L262.6 641.5L263.0 641.5L263.8 642.0L264.2 641.7L264.6 642.1L265.4 642.1L266.2 642.4L266.6 642.2L267.0 642.3L267.4 641.9L267.8 641.8L268.2 641.2L269.0 641.2L269.4 641.6L269.8 641.3L270.2 641.4L270.6 640.9L271.0 641.1L271.8 640.6L272.6 638.9L273.4 633.0L274.2 622.8L275.8 590.7L276.2 586.4L276.6 586.3L277.0 589.6L277.4 594.7L278.6 618.4L279.4 630.0L280.2 636.4L280.6 638.3L281.4 641.0L282.2 640.7L283.0 640.7L283.4 640.0L284.2 641.5L284.6 641.8L285.0 641.8L285.4 642.1L286.2 641.6L287.0 641.4L287.4 641.6L287.8 640.8L289.8 641.7L290.2 641.4L290.6 640.4L291.0 640.5L292.2 640.2L292.6 640.5L293.0 641.1L293.4 641.0L294.6 642.0L295.0 641.2L295.8 640.6L296.2 640.9L297.4 640.9L297.8 641.0L298.6 640.3L299.4 640.8L299.8 640.8L300.6 641.3L301.4 641.4L302.2 641.2L303.0 641.2L303.8 641.5L304.6 641.6L305.0 640.9L305.8 640.6L306.2 640.8L306.6 640.5L307.0 641.1L307.4 640.8L309.0 640.8L309.4 640.6L309.8 640.6L310.2 640.3L310.6 640.3L311.0 639.5L311.4 640.3L311.8 639.6L312.6 639.9L313.0 640.6L313.4 640.3L313.8 640.7L314.6 639.9L315.4 639.8L316.2 640.5L316.6 641.0L317.0 640.2L318.2 640.2L318.6 639.6L319.0 640.1L319.4 640.2L319.8 640.0L320.2 639.6L320.6 639.5L321.4 639.1L321.8 639.4L322.2 639.3L322.6 639.7L323.0 640.6L324.6 641.3L325.8 639.6L326.2 640.1L326.6 639.4L327.4 639.5L328.2 638.6L329.0 638.6L329.4 639.2L329.8 639.1L330.2 638.7L330.6 638.7L331.0 639.1L331.4 638.6L332.2 638.9L332.6 639.5L333.0 638.5L334.6 638.4L335.4 637.5L336.2 637.2L336.6 635.8L337.0 635.8L337.4 636.5L338.2 635.9L338.6 636.5L339.0 636.7L339.4 636.3L340.2 636.4L341.0 635.6L341.4 635.6L342.2 634.3L342.6 634.0L343.0 633.3L343.8 633.3L344.2 633.6L344.6 633.6L345.0 633.5L345.4 632.4L345.8 631.9L346.2 630.8L347.8 628.5L348.6 626.6L349.0 626.2L349.4 625.4L351.0 620.6L352.6 613.2L353.0 610.8L354.2 602.6L355.0 595.1L355.8 585.2L356.6 572.6L357.8 549.1L359.4 507.9L360.6 473.0L361.8 444.8L362.2 439.1L362.6 436.6L363.0 435.3L363.4 437.8L363.8 442.1L364.2 449.8L368.2 551.7L369.0 567.4L370.2 586.1L371.8 604.6L372.6 610.1L375.0 621.0L377.4 627.2L378.2 628.4L378.6 628.5L379.0 629.0L379.8 629.5L380.2 629.5L381.0 630.0L381.4 629.5L381.8 630.1L382.2 629.7L382.6 629.9L383.0 629.8L383.4 630.8L383.8 630.7L384.2 631.5L384.6 631.7L385.4 632.8L385.8 632.9L386.2 632.4L387.0 632.4L387.4 632.8L387.8 632.6L388.2 633.2L388.6 633.4L389.0 633.2L389.4 631.2L389.8 630.4L390.2 628.0L391.0 620.5L392.2 605.1L392.6 601.7L393.0 599.9L393.4 601.7L393.8 606.0L395.0 622.1L395.8 630.6L396.2 633.6L397.0 636.9L397.4 637.6L397.8 637.3L398.6 638.5L399.0 638.3L399.4 638.8L399.8 639.8L401.0 639.7L401.4 639.5L401.8 638.6L402.2 638.9L402.6 638.8L403.0 639.6L403.4 639.5L403.8 640.4L404.2 639.6L404.6 639.6L405.0 639.4L405.4 639.8L405.8 639.6L406.2 639.6L406.6 640.2L407.0 640.2L407.4 640.5L408.2 641.3L408.6 641.1L409.0 641.7L409.4 641.1L409.8 640.9L410.2 640.9L410.6 641.3L411.0 640.6L411.4 640.6L412.2 640.1L413.0 638.0L413.4 638.1L413.8 638.0L414.6 638.9L415.4 640.6L415.8 640.6L416.2 640.2L417.0 641.5L417.4 640.7L417.8 640.5L418.2 640.8L419.0 639.9L419.4 639.9L419.8 640.3L420.2 640.4L420.6 640.0L421.0 639.3L421.8 640.1L422.2 639.9L423.0 641.7L423.8 641.7L424.2 642.1L424.6 641.8L425.4 641.7L425.8 640.9L426.2 640.8L427.0 639.7L427.8 640.0L428.2 640.3L428.6 640.3L429.0 640.3L429.4 639.9L429.8 641.2L430.6 641.5L431.4 643.0L431.8 642.0L432.2 641.5L432.6 641.9L433.0 641.7L433.4 641.0L433.8 641.8L434.2 642.1L434.6 642.0L435.0 642.6L435.8 643.2L436.2 643.2L436.6 642.9L437.0 642.2L437.4 642.3L437.8 641.7L438.2 641.8L439.4 640.7L439.8 640.7L440.2 641.0L440.6 640.7L441.0 641.0L441.4 641.0L442.2 640.3L442.6 640.8L443.0 640.5L443.8 641.2L444.2 641.0L445.0 641.4L445.4 640.7L446.2 640.6L446.6 640.3L447.0 640.3L447.4 641.3L447.8 641.2L449.0 642.3L449.4 642.0L449.8 641.5L451.8 640.5L452.6 641.2L453.0 640.6L453.4 641.0L453.8 641.6L454.6 641.4L455.0 641.9L455.8 640.9L456.2 640.6L457.0 640.6L457.8 641.4L458.2 640.9L458.6 641.1L459.0 640.8L459.4 640.2L459.8 640.1L460.2 640.4L461.0 640.3L461.4 641.3L461.8 641.3L462.2 641.5L463.0 640.8L463.4 640.0L463.8 639.8L464.2 639.9L464.6 639.4L465.4 640.8L466.2 641.0L466.6 641.8L467.0 641.5L467.4 641.0L467.8 641.4L468.2 641.5L469.0 640.7L469.4 641.5L469.8 641.4L470.2 640.9L470.6 641.3L471.0 642.0L471.8 640.7L472.2 641.7L472.6 641.9L473.0 641.6L473.4 641.8L473.8 642.3L474.2 641.6L474.6 641.7L475.0 641.2L475.4 641.3L476.2 641.8L476.6 641.8L477.0 642.9L477.8 643.2L478.2 642.9L478.6 642.8L479.4 641.5L479.8 641.4L480.6 641.7L481.0 641.2L481.4 641.7L482.6 641.8L483.0 642.2L483.4 642.1L483.8 641.8L484.2 641.8L484.6 641.0L485.0 641.3L486.6 641.7L487.0 642.2L487.4 641.8L487.8 641.8L488.6 642.0L489.0 641.8L489.4 642.1L489.8 642.6L490.2 642.6L490.6 642.8L491.0 642.3L491.4 642.4L491.8 642.1L492.2 642.1L492.6 641.7L493.0 641.8L493.4 641.6L493.8 641.3L494.2 640.7L494.6 641.6L495.4 641.8L495.8 641.7L496.2 642.1L496.6 642.1L497.4 641.6L498.6 641.2L499.4 641.3L499.8 641.1L500.2 641.1L500.6 640.7L501.4 640.8L501.8 641.6L502.2 641.9L503.0 641.7L503.4 641.3L503.8 641.6L504.2 641.0L505.4 641.6L505.8 641.4L506.6 641.8L507.0 641.6L507.4 641.9L507.8 642.1L508.2 642.0L508.6 642.2L509.0 642.8L509.4 642.0L509.8 642.0L510.2 642.9L510.6 642.2L511.0 641.9L511.4 642.7L511.8 641.7L512.2 641.1L512.6 641.5L513.0 641.4L513.4 641.6L513.8 642.8L514.6 641.4L515.4 641.2L515.8 640.6L516.6 641.2L517.0 641.2L517.4 641.5L517.8 641.1L518.2 641.2L518.6 641.8L519.0 641.9L519.4 641.1L519.8 641.9L520.2 642.1L520.6 641.6L521.0 641.6L521.4 642.2L521.8 641.6L522.2 641.6L523.0 642.5L523.4 641.7L523.8 641.7L524.6 641.2L525.0 641.2L525.4 642.1L525.8 642.1L526.2 641.9L526.6 641.9L527.0 641.5L528.6 642.5L529.0 642.5L529.4 641.9L529.8 641.7L530.6 642.0L531.4 642.8L532.2 642.7L532.6 642.2L533.0 642.3L533.4 641.9L534.2 641.9L534.6 642.2L535.0 641.7L535.4 641.8L535.8 641.5L536.2 641.1L536.6 641.2L537.0 641.5L537.4 641.1L537.8 641.1L538.2 641.7L539.0 640.7L539.4 641.5L539.8 641.7L540.2 641.4L540.6 641.7L541.0 641.8L541.4 641.5L542.2 642.0L542.6 641.6L543.0 642.1L543.4 642.2L543.8 642.7L544.2 642.6L544.6 642.6L545.8 641.2L546.2 641.1L546.6 641.5L547.4 641.8L547.8 642.1L548.6 641.8L549.4 642.8L549.8 642.3L550.2 642.4L550.6 642.7L551.4 642.3L551.8 642.8L553.0 641.0L553.8 640.2L554.2 641.0L555.0 642.1L555.4 642.4L555.8 642.4L556.2 642.6L556.6 642.4L557.0 641.6L557.4 641.5L557.8 641.7L558.2 641.1L558.6 641.0L559.0 642.0L559.8 641.8L560.2 642.1L561.0 641.1L562.2 640.6L562.6 641.1L563.0 641.2L563.4 641.8L563.8 641.5L564.2 641.7L564.6 641.6L565.0 641.9L565.4 641.4L565.8 641.8L566.2 641.8L567.0 641.2L567.4 641.5L567.8 641.2L568.2 640.6L568.6 640.6L569.0 640.8L569.4 639.9L570.2 641.3L570.6 641.6L571.0 641.3L571.4 642.0L571.8 642.1L572.2 642.6L573.0 642.8L573.8 642.7L574.2 641.9L574.6 641.4L575.0 641.5L575.4 641.8L575.8 641.0L576.6 641.8L577.0 641.8L577.4 641.5L577.8 642.1L578.2 642.2L578.6 641.6L579.0 642.1L579.4 642.2L580.2 641.8L580.6 642.1L581.0 640.9L581.4 640.6L581.8 640.7L582.2 641.0L582.6 640.9L583.0 640.9L583.8 640.4L584.2 640.6L584.6 640.3L585.4 641.5L585.8 641.8L586.6 641.1L587.0 641.2L587.8 641.1L588.2 640.8L588.6 641.5L589.0 641.8L589.8 641.6L590.2 641.6L590.6 642.2L591.0 641.2L591.4 641.1L592.2 641.4L592.6 641.3L593.4 642.6L594.6 642.2L595.0 641.5L595.4 641.5L595.8 641.3L596.6 642.0L597.0 642.9L597.4 642.5L597.8 642.6L598.2 641.6L599.0 641.0L599.4 641.5L599.8 641.6L600.2 642.4L600.6 642.1L601.0 642.3L601.4 641.7L601.8 641.7L602.2 641.0L603.0 640.7" fill="none" stroke="#000" stroke-width="3.7" stroke-linejoin="round" stroke-linecap="round" />
<line x1="117.4" y1="654.8" x2="601.6" y2="654.8" stroke="#000" stroke-width="2.7"/>
<line x1="572.4" y1="654.8" x2="572.4" y2="661.6" stroke="#000" stroke-width="2.6"/>
<line x1="539.8" y1="654.8" x2="539.8" y2="661.6" stroke="#000" stroke-width="2.6"/>
<line x1="507.1" y1="654.8" x2="507.1" y2="673.6" stroke="#000" stroke-width="2.6"/>
<line x1="474.4" y1="654.8" x2="474.4" y2="661.6" stroke="#000" stroke-width="2.6"/>
<line x1="441.8" y1="654.8" x2="441.8" y2="661.6" stroke="#000" stroke-width="2.6"/>
<line x1="409.1" y1="654.8" x2="409.1" y2="661.6" stroke="#000" stroke-width="2.6"/>
<line x1="376.5" y1="654.8" x2="376.5" y2="661.6" stroke="#000" stroke-width="2.6"/>
<line x1="343.8" y1="654.8" x2="343.8" y2="673.6" stroke="#000" stroke-width="2.6"/>
<line x1="311.1" y1="654.8" x2="311.1" y2="661.6" stroke="#000" stroke-width="2.6"/>
<line x1="278.5" y1="654.8" x2="278.5" y2="661.6" stroke="#000" stroke-width="2.6"/>
<line x1="245.8" y1="654.8" x2="245.8" y2="661.6" stroke="#000" stroke-width="2.6"/>
<line x1="213.2" y1="654.8" x2="213.2" y2="661.6" stroke="#000" stroke-width="2.6"/>
<line x1="180.5" y1="654.8" x2="180.5" y2="673.6" stroke="#000" stroke-width="2.6"/>
<line x1="147.8" y1="654.8" x2="147.8" y2="661.6" stroke="#000" stroke-width="2.6"/>
<text x="197.1" y="696.0" font-size="29" fill="#000" text-anchor="end" font-weight="normal" font-style="normal" >-50</text>
<text x="367.4" y="696.0" font-size="29" fill="#000" text-anchor="end" font-weight="normal" font-style="normal" >-100</text>
<text x="529.7" y="696.0" font-size="29" fill="#000" text-anchor="end" font-weight="normal" font-style="normal" >-150</text>
<text x="263.5" y="736.8" font-size="41.2" fill="#000" text-anchor="start" font-weight="normal" font-style="normal" ><tspan font-size="28" dy="-10.4">19</tspan><tspan dy="10.4">F (ppm)</tspan></text>
<text x="675.5" y="113.5" font-size="40" fill="#000" text-anchor="start" font-weight="bold" font-style="normal" >b</text>
<text x="656.5" y="228.0" font-size="33" fill="#000" text-anchor="start" font-weight="normal" font-style="normal" >285 K</text>
<text x="678.0" y="266.7" font-size="33" fill="#000" text-anchor="start" font-weight="normal" font-style="normal" >DP</text>
<path d="M659.4 408.4L659.9 408.3L660.4 408.6L660.9 408.4L661.4 407.9L662.4 408.2L665.4 407.7L665.9 407.8L667.4 407.3L668.4 407.3L668.9 407.8L669.4 407.6L670.9 408.2L671.4 407.8L671.9 408.1L672.9 408.1L673.4 407.8L673.9 407.8L674.4 407.6L675.4 408.0L676.4 407.9L676.9 408.3L677.4 407.8L677.9 407.5L678.4 407.7L679.4 407.4L682.4 407.7L683.4 406.9L685.9 406.8L686.9 406.4L687.4 406.4L687.9 406.9L688.4 406.7L689.4 407.1L689.9 407.0L690.4 406.6L690.9 407.0L691.4 406.3L692.4 406.4L693.4 405.8L693.9 406.2L694.9 406.4L695.4 406.7L695.9 406.4L696.4 406.6L696.9 406.7L697.4 406.3L697.9 406.4L698.4 406.7L699.4 406.3L699.9 406.6L700.4 406.1L700.9 406.2L702.9 405.8L703.9 405.7L704.9 405.3L706.9 406.3L707.9 405.9L708.9 404.9L709.4 404.6L711.9 404.3L712.4 404.8L713.4 404.4L714.4 404.6L714.9 404.1L715.9 404.8L716.4 404.8L716.9 404.6L717.4 404.7L717.9 404.2L718.9 403.6L719.9 403.3L720.9 403.7L721.4 403.5L721.9 403.8L722.9 403.7L723.4 403.2L723.9 403.3L724.9 402.3L725.9 403.2L726.9 403.7L727.4 404.1L727.9 403.6L728.4 403.5L728.9 403.1L729.4 403.1L729.9 402.6L730.9 402.5L731.4 402.6L731.9 402.6L732.4 403.2L733.4 402.6L734.4 402.5L734.9 401.9L735.4 402.0L735.9 402.3L736.4 402.1L736.9 402.3L737.4 403.2L738.4 403.4L738.9 402.9L739.4 402.9L739.9 402.2L740.4 402.0L740.9 401.5L741.4 401.9L742.4 401.5L743.4 402.0L744.4 401.9L744.9 402.1L745.9 401.8L746.4 401.4L747.9 401.3L748.4 401.3L748.9 401.6L749.9 401.2L750.4 400.8L750.9 400.9L751.4 400.8L752.4 401.3L752.9 401.4L753.4 400.8L754.4 400.4L755.4 400.6L755.9 400.5L756.9 400.7L757.4 400.2L757.9 400.0L760.4 399.0L760.9 399.3L761.4 399.1L761.9 399.1L762.4 399.3L763.4 399.0L763.9 399.4L764.4 399.3L764.9 399.0L765.4 399.0L766.4 398.5L766.9 398.4L768.4 399.0L769.4 398.7L770.4 397.9L770.9 397.6L771.4 396.9L771.9 397.1L772.4 396.8L772.9 396.9L773.4 396.6L773.9 396.6L774.4 396.2L774.9 396.3L775.4 396.2L776.4 396.6L777.4 396.7L778.4 396.4L778.9 396.5L779.9 396.2L780.4 395.7L782.4 395.4L782.9 396.1L783.9 396.0L784.9 395.5L785.4 395.0L785.9 394.7L786.9 394.3L787.4 394.3L789.9 393.2L790.9 393.3L791.9 393.6L792.4 393.6L792.9 393.4L793.4 393.5L794.4 391.9L795.4 391.3L795.9 390.7L796.4 390.7L796.9 390.5L797.4 390.0L798.4 389.9L798.9 389.5L799.4 389.9L799.9 389.8L800.4 389.3L801.4 388.8L801.9 388.2L803.4 388.1L803.9 388.2L804.9 387.7L805.4 387.5L806.4 386.5L807.4 386.3L807.9 385.7L808.4 385.4L809.4 383.9L810.4 382.7L810.9 381.8L811.9 380.9L813.4 378.3L813.9 378.0L814.4 377.2L814.9 375.8L815.9 374.5L816.4 373.4L816.9 372.6L818.4 371.0L818.9 369.9L819.9 369.0L820.9 367.8L821.4 367.8L821.9 367.2L822.4 366.9L823.9 365.2L824.9 364.3L825.4 364.1L826.9 363.0L829.4 359.5L830.4 358.4L830.9 357.7L832.4 355.0L832.9 354.6L833.4 354.4L834.9 352.5L835.9 350.5L836.9 349.8L837.4 349.2L837.9 348.2L838.4 347.6L839.4 345.8L839.9 345.1L840.4 344.7L841.4 343.3L841.9 342.3L844.4 339.8L844.9 339.2L845.4 338.0L845.9 337.4L846.4 337.2L847.4 335.9L848.4 335.7L848.9 335.1L849.4 335.0L849.9 335.2L850.4 335.0L851.9 333.2L853.4 331.0L853.9 330.9L855.4 329.5L856.9 327.3L857.4 327.1L857.9 326.4L858.4 326.5L859.4 325.7L859.9 324.9L860.4 324.5L860.9 323.6L861.4 323.0L862.9 319.9L863.4 319.1L864.4 316.6L865.4 314.7L865.9 313.2L866.9 311.3L867.9 309.0L868.4 308.3L869.9 305.0L871.9 299.3L874.4 293.7L877.4 284.4L877.9 283.2L878.4 282.7L880.4 277.4L883.9 265.6L884.4 264.3L884.9 262.3L885.4 261.0L886.4 257.0L889.4 242.3L891.9 228.1L895.4 209.5L896.4 205.2L897.4 201.8L897.9 201.0L898.4 199.4L899.4 197.2L899.9 196.8L900.4 195.7L901.9 194.5L902.4 193.9L902.9 193.6L903.4 192.9L904.4 191.0L904.9 189.4L905.9 183.1L906.4 178.3L906.9 162.1L907.9 117.2L908.4 103.5L908.9 113.5L910.4 167.5L910.9 179.0L911.9 188.1L913.4 197.1L915.4 205.7L916.4 209.3L917.4 211.7L917.9 212.5L918.4 213.7L918.9 214.3L919.4 215.6L920.9 218.7L921.4 220.3L922.4 222.6L923.4 224.4L924.9 228.5L927.4 238.6L929.9 247.2L930.9 251.8L933.4 261.4L937.9 280.0L938.9 283.8L941.9 297.0L945.4 309.5L946.9 314.4L947.9 316.9L950.4 324.6L951.9 328.4L952.9 330.2L954.4 334.2L955.4 336.3L955.9 336.8L956.4 337.9L958.4 343.0L961.9 349.5L962.4 350.3L963.4 351.2L964.9 353.1L966.4 355.7L967.9 357.4L969.4 359.7L969.9 359.8L970.4 360.1L971.4 360.4L971.9 360.3L972.4 361.2L973.4 361.8L973.9 361.7L974.4 362.2L974.9 362.2L975.4 362.4L975.9 362.8L976.4 363.8L977.4 364.0L977.9 364.6L978.4 364.6L978.9 364.2L979.9 363.8L980.4 363.0L980.9 362.5L981.9 360.8L985.4 352.6L986.4 349.3L988.4 341.1L991.4 329.9L991.9 328.2L992.4 327.1L994.4 323.5L995.4 322.0L996.4 321.0L996.9 320.8L997.4 320.1L997.9 320.6L998.4 320.4L999.4 321.4L999.9 322.3L1000.4 322.7L1002.4 326.3L1002.9 327.4L1004.9 333.3L1005.9 335.7L1008.4 345.4L1009.9 350.5L1012.4 361.5L1013.4 364.8L1014.4 366.5L1017.4 373.7L1019.4 377.6L1020.4 378.6L1021.9 379.1L1022.4 379.6L1022.9 379.4L1024.4 380.5L1024.9 380.5L1025.4 380.9L1026.9 381.6L1028.4 382.8L1029.4 383.9L1030.9 385.0L1031.4 385.5L1032.4 387.5L1032.9 388.1L1033.4 388.4L1033.9 389.0L1034.9 389.4L1035.9 391.3L1036.9 392.0L1037.4 393.1L1038.9 394.5L1039.4 395.3L1040.4 396.3L1041.4 398.0L1041.9 398.5L1042.9 399.2L1043.4 399.0L1043.9 399.1L1044.4 399.4L1045.4 399.4L1045.9 399.6L1046.4 400.1L1046.9 399.9L1047.9 399.9L1048.4 400.3L1048.9 400.3L1049.9 400.8L1050.4 400.8L1050.9 400.6L1051.9 401.2L1053.4 401.0L1054.4 399.8L1054.9 399.9L1055.4 400.2L1055.9 400.3L1056.4 400.7L1057.4 400.8L1057.9 400.5L1058.9 400.2L1059.4 400.6L1060.4 400.8L1061.9 399.9L1062.9 398.8L1063.4 398.7L1063.9 398.9L1064.9 398.5L1065.4 398.7L1066.4 397.9L1067.9 398.5L1068.4 398.4L1068.9 398.8L1069.4 398.4L1069.9 398.8L1070.4 398.4L1070.9 398.6L1071.4 398.6L1071.9 398.7L1072.4 398.3L1073.4 399.0L1074.4 399.5L1074.9 399.6L1075.4 399.5L1075.9 399.6L1076.4 399.5L1077.4 400.0L1077.9 400.1L1078.9 400.5L1079.9 400.7L1080.4 401.2L1080.9 401.0L1081.9 400.3L1082.9 400.0L1083.9 400.9L1084.4 401.0L1084.9 401.5L1085.4 401.5L1085.9 401.2L1086.9 401.7L1087.4 401.4L1088.4 401.5L1088.9 401.4L1089.4 401.4L1089.9 401.9L1090.9 402.6L1091.4 402.7L1092.4 402.4L1093.4 401.8" fill="none" stroke="#000" stroke-width="4.4" stroke-linejoin="round" stroke-linecap="round" />
<path d="M661.0 432.0L703.5 431.2L737.5 430.1L765.0 428.7L777.0 427.9L788.0 426.9L798.0 425.8L807.0 424.6L815.5 423.2L823.0 421.7L830.0 420.0L836.5 418.1L842.5 416.1L848.5 413.6L853.0 411.4L857.5 408.9L862.0 406.0L866.0 403.0L870.0 399.6L873.5 396.2L877.0 392.3L880.5 388.0L884.0 383.1L887.0 378.4L890.0 373.3L893.0 367.7L898.5 356.3L909.5 331.6L912.0 326.5L914.0 322.9L916.5 319.0L918.0 317.2L919.0 316.2L920.5 315.0L921.5 314.5L922.5 314.1L923.5 314.0L924.5 314.1L926.0 314.6L927.0 315.2L928.5 316.4L929.5 317.5L931.0 319.4L933.5 323.4L935.5 327.1L938.0 332.3L948.0 354.8L952.5 364.3L955.5 370.2L958.0 374.7L960.5 378.9L963.0 382.8L965.5 386.4L968.0 389.6L970.5 392.7L973.5 396.0L976.5 398.9L979.5 401.6L982.5 404.0L985.5 406.2L989.5 408.8L993.5 411.0L998.0 413.3L1002.5 415.2L1007.5 417.1L1012.5 418.7L1018.0 420.2L1024.0 421.7L1030.5 423.0L1037.0 424.1L1044.0 425.1L1052.0 426.1L1069.5 427.8L1089.5 429.2" fill="none" stroke="#f7941d" stroke-width="3.0" stroke-linejoin="round" stroke-linecap="round" />
<path d="M661.0 434.0L725.0 433.9L738.5 433.8L749.0 433.6L759.0 433.0L767.5 432.2L775.0 431.1L782.0 429.6L788.5 427.6L795.0 425.1L801.0 422.2L807.5 418.3L813.0 414.6L818.5 410.5L835.0 397.0L840.0 393.0L845.0 389.4L849.5 386.6L854.0 384.4L858.5 382.7L861.0 382.0L863.0 381.7L867.0 381.4L871.0 381.7L873.0 382.0L875.5 382.7L879.5 384.1L884.0 386.4L888.5 389.1L893.5 392.6L899.0 397.0L910.5 406.5L916.0 410.9L922.0 415.3L927.5 419.0L934.0 422.7L940.5 425.7L947.0 428.1L954.0 430.1L961.0 431.4L969.0 432.5L977.5 433.2L988.0 433.6L1013.5 434.0L1089.5 434.0" fill="none" stroke="#0f75bc" stroke-width="2.2" stroke-linejoin="round" stroke-linecap="round" />
<path d="M661.0 433.8L764.5 433.5L795.0 433.3L817.5 432.8L834.5 432.2L846.5 431.3L851.0 430.8L854.5 430.2L857.5 429.4L860.0 428.5L862.5 427.3L865.0 425.7L867.0 424.1L869.0 422.0L871.0 419.5L872.5 417.2L874.5 413.6L876.0 410.6L879.0 403.3L882.5 392.9L885.5 382.7L892.0 359.0L894.0 352.4L895.5 348.0L897.5 343.2L899.0 340.6L900.5 338.9L901.5 338.5L902.0 338.4L902.5 338.5L903.5 338.9L905.0 340.6L906.5 343.2L908.5 348.0L910.0 352.4L912.0 359.0L918.5 382.7L921.5 392.9L924.5 401.9L927.5 409.5L929.0 412.7L930.5 415.5L932.0 418.0L934.0 420.8L936.0 423.1L938.0 425.0L940.0 426.4L942.0 427.6L944.5 428.7L947.0 429.5L950.0 430.3L953.0 430.8L961.5 431.7L974.5 432.4L992.0 433.0L1015.0 433.3L1089.5 433.8" fill="none" stroke="#0000ff" stroke-width="3.0" stroke-linejoin="round" stroke-linecap="round" />
<path d="M661.0 434.0L963.0 434.0L970.0 433.9L973.5 433.6L975.0 433.2L976.5 432.6L978.0 431.6L979.0 430.7L980.0 429.4L981.0 427.9L982.0 426.0L983.0 423.6L984.5 419.1L986.5 411.5L988.0 404.7L992.0 384.7L994.0 376.3L995.0 373.1L996.0 370.9L996.5 370.2L997.0 369.7L997.5 369.5L998.0 369.6L998.5 369.9L999.5 371.5L1000.5 374.0L1001.5 377.4L1003.5 386.1L1008.0 408.4L1009.5 414.8L1011.0 420.1L1012.5 424.4L1014.0 427.5L1015.5 429.8L1016.5 431.0L1017.5 431.8L1019.0 432.7L1021.0 433.4L1023.0 433.7L1026.0 433.9L1089.5 434.0" fill="none" stroke="#ff0000" stroke-width="4.2" stroke-linejoin="round" stroke-linecap="round" />
<path d="M661.0 434.0L999.5 433.9L1002.5 433.8L1005.0 433.4L1007.0 432.9L1009.0 432.1L1010.5 431.2L1012.5 429.8L1017.5 425.1L1019.0 423.9L1021.0 422.8L1022.5 422.5L1023.5 422.6L1024.5 422.9L1026.5 424.0L1028.0 425.2L1032.5 429.4L1034.0 430.6L1035.5 431.6L1038.0 432.8L1041.0 433.5L1044.0 433.9L1048.5 434.0L1089.5 434.0" fill="none" stroke="#666666" stroke-width="3.1" stroke-linejoin="round" stroke-linecap="round" />
<path d="M661.0 434.0L900.5 434.0L902.5 434.0L903.5 433.8L904.0 433.5L904.5 432.8L905.0 431.5L905.5 429.0L906.0 424.9L906.5 418.4L907.5 397.2L909.0 356.0L909.5 347.2L910.0 344.0L910.5 347.2L911.0 356.0L912.5 397.2L913.5 418.4L914.0 424.9L914.5 429.0L915.0 431.5L915.5 432.8L916.0 433.5L916.5 433.8L917.5 434.0L919.0 434.0L1089.5 434.0" fill="none" stroke="#00903c" stroke-width="3.0" stroke-linejoin="round" stroke-linecap="round" />
<line x1="856.7" y1="395.0" x2="856.7" y2="650.7" stroke="#0f75bc" stroke-width="3.1" stroke-dasharray="8.8 15.9"/>
<line x1="901.3" y1="366.0" x2="901.3" y2="643.9" stroke="#0000ff" stroke-width="3.1" stroke-dasharray="8.8 15.67"/>
<line x1="1001.4" y1="329.7" x2="1001.4" y2="643.8" stroke="#ff0000" stroke-width="3.1" stroke-dasharray="8.7 11.65"/>
<polygon points="844.8,286.5 855.7,282.7 888.9,347.6" fill="#0000ff"/>
<polygon points="812.0,339.7 819.9,336.3 854.5,373.2" fill="#0f75bc"/>
<polygon points="960.3,249.8 968.4,253.7 932.4,312.0" fill="#f7941d"/>
<polygon points="1020.3,306.1 1028.4,308.7 1005.1,358.8" fill="#ff0000"/>
<polygon points="1042.1,382.8 1050.2,385.7 1031.9,418.8" fill="#666666"/>
<text x="884.6" y="250.3" font-size="23" fill="#0000ff" text-anchor="end" font-weight="bold" font-style="italic" >-105 ppm</text>
<text x="866.3" y="277.0" font-size="23.2" fill="#0000ff" text-anchor="end" font-weight="normal" font-style="italic" >18%</text>
<text x="824.0" y="307.0" font-size="23" fill="#0f75bc" text-anchor="end" font-weight="bold" font-style="italic" >-103 ppm</text>
<text x="814.3" y="333.0" font-size="23.5" fill="#0f75bc" text-anchor="end" font-weight="normal" font-style="italic" >21%</text>
<text x="1028.3" y="212.3" font-size="23" fill="#f7941d" text-anchor="end" font-weight="bold" font-style="italic" >-106 ppm</text>
<text x="992.0" y="239.0" font-size="23.5" fill="#f7941d" text-anchor="end" font-weight="normal" font-style="italic" >51%</text>
<text x="1096.5" y="269.6" font-size="23" fill="#ff0000" text-anchor="end" font-weight="bold" font-style="italic" >-110 ppm</text>
<text x="1051.8" y="295.6" font-size="23.5" fill="#ff0000" text-anchor="end" font-weight="normal" font-style="italic" >6%</text>
<text x="950.0" y="364.8" font-size="23.5" fill="#00903c" text-anchor="end" font-weight="normal" font-style="italic" >2%</text>
<text x="1074.3" y="375.7" font-size="23.5" fill="#666666" text-anchor="end" font-weight="normal" font-style="italic" >1%</text>
<path d="M648.2 639.7L650.2 636.9L652.7 634.2L653.7 633.4L655.2 632.4L656.2 632.0L657.7 631.6L659.2 631.4L659.7 631.5L660.7 631.9L662.2 633.2L665.2 636.5L666.7 637.9L668.2 638.8L669.2 638.8L670.2 638.3L671.2 637.3L675.7 631.1L676.7 630.0L677.7 629.4L678.7 629.2L680.2 629.7L684.2 632.0L685.2 632.5L686.2 632.8L688.2 632.6L692.7 631.2L694.7 630.9L698.7 631.1L708.2 632.1L711.7 632.2L712.7 631.7L713.7 630.7L716.7 626.7L717.7 625.6L718.7 624.8L719.7 624.6L720.2 624.7L720.7 625.1L721.7 626.5L722.7 628.5L725.7 635.7L726.7 637.8L727.7 639.4L728.7 640.4L729.2 640.5L729.7 640.4L730.7 639.5L731.7 638.2L734.2 634.2L735.2 633.1L735.7 632.9L736.2 632.8L737.2 633.2L738.7 634.6L742.2 639.5L743.7 641.4L744.7 642.1L745.2 642.3L745.7 642.4L746.2 642.3L747.2 641.5L748.2 640.1L749.2 638.2L751.7 633.0L753.2 630.3L754.2 629.2L754.7 628.8L755.2 628.7L755.7 628.7L756.2 629.0L757.2 630.0L760.7 635.4L761.7 636.5L762.2 636.9L765.7 639.2L768.7 640.8L771.2 641.6L773.2 641.9L773.7 641.7L774.2 641.2L774.7 640.4L775.7 638.2L777.2 633.8L780.2 623.3L781.7 619.0L782.7 617.0L783.2 616.3L783.7 615.9L784.2 615.8L784.7 615.9L785.2 616.2L785.7 616.7L786.7 618.0L788.2 620.8L791.7 628.3L792.7 630.0L793.7 631.3L794.7 631.9L795.7 631.9L797.2 631.6L798.7 630.8L800.7 629.5L802.7 627.8L805.2 625.4L806.2 624.2L808.2 620.8L812.7 611.6L814.7 608.1L816.7 605.6L820.7 601.7L824.2 597.8L828.2 592.8L832.2 587.4L833.2 585.9L834.7 583.2L839.7 573.2L841.2 570.8L842.7 568.9L843.7 568.1L844.2 567.8L846.7 567.2L849.2 566.9L851.2 567.0L856.2 568.2L857.2 568.2L858.2 567.9L859.2 567.3L860.7 565.9L865.7 559.5L867.2 557.9L869.2 556.3L874.2 553.4L875.7 552.2L877.2 550.6L879.2 547.5L881.2 543.7L883.7 538.1L887.2 529.5L888.7 524.9L891.7 513.9L893.2 509.4L894.7 506.5L896.7 503.2L898.2 501.5L899.2 501.0L900.2 501.2L900.7 501.5L901.7 502.4L907.7 509.9L910.7 514.2L912.2 516.9L913.2 518.9L915.2 523.8L917.7 531.2L919.2 537.1L922.2 550.6L923.2 554.5L924.2 557.4L925.7 560.6L929.7 567.1L931.2 570.1L932.7 573.8L936.7 584.8L939.7 591.5L940.7 593.3L941.2 593.9L941.7 594.3L942.2 594.3L943.2 594.0L944.7 592.9L948.2 589.1L949.7 587.7L950.7 587.1L951.2 587.0L951.7 586.9L952.7 587.3L953.7 588.0L954.7 589.2L959.2 596.1L960.7 598.0L963.2 600.0L967.7 602.7L969.7 604.2L970.7 605.1L974.7 609.6L976.2 610.6L977.2 610.8L977.7 610.6L978.2 610.1L978.7 609.4L979.7 607.2L982.2 599.9L983.2 595.4L984.2 589.6L985.7 579.3L989.2 553.4L992.2 528.5L993.7 518.3L996.2 507.6L997.7 502.3L998.7 499.8L999.2 499.0L999.7 498.4L1000.2 498.3L1000.7 498.4L1001.2 498.8L1001.7 499.5L1002.7 501.6L1003.7 504.3L1007.2 515.6L1009.2 523.9L1011.2 533.8L1012.7 542.0L1016.2 565.7L1019.7 587.8L1020.7 592.6L1021.2 594.0L1021.7 594.4L1022.7 594.2L1023.7 593.8L1026.7 592.1L1027.7 591.7L1028.7 591.6L1029.2 592.0L1029.7 592.7L1030.7 594.8L1033.2 602.0L1037.2 612.0L1038.2 614.3L1039.2 616.0L1040.2 617.1L1041.2 618.1L1045.2 620.9L1046.7 622.2L1050.7 627.5L1051.7 628.6L1052.7 629.1L1053.7 629.2L1054.7 628.8L1058.2 626.1L1059.2 625.5L1060.2 625.4L1060.7 625.6L1061.2 626.0L1062.7 628.4L1064.7 632.6L1066.2 635.4L1069.2 641.9L1070.2 643.6L1070.7 644.2L1071.2 644.5L1071.7 644.6L1072.2 644.5L1072.7 644.2L1073.7 643.4L1074.7 642.3L1077.2 638.9L1078.7 637.3L1081.2 635.9L1084.7 634.4L1087.2 633.6L1090.2 632.8L1095.2 631.6L1098.7 631.0L1100.7 630.9L1101.7 630.9L1102.7 631.4L1104.2 632.4" fill="none" stroke="#000" stroke-width="3.8" stroke-linejoin="round" stroke-linecap="round" />
<text x="643.5" y="535.8" font-size="33" fill="#000" text-anchor="start" font-weight="normal" font-style="normal" ><tspan font-size="22" dy="-8.2">13</tspan><tspan dy="8.2">C-</tspan><tspan font-size="22" dy="-8.2">19</tspan><tspan dy="8.2">F</tspan></text>
<text x="677.5" y="575.2" font-size="33" fill="#000" text-anchor="start" font-weight="normal" font-style="normal" >CP</text>
<line x1="655" y1="657.5" x2="1091.8" y2="657.5" stroke="#000" stroke-width="2.7"/>
<line x1="685.0" y1="657.5" x2="685.0" y2="670.6" stroke="#000" stroke-width="2.6"/>
<line x1="737.8" y1="657.5" x2="737.8" y2="663" stroke="#000" stroke-width="2.6"/>
<line x1="790.6" y1="657.5" x2="790.6" y2="670.6" stroke="#000" stroke-width="2.6"/>
<line x1="843.4" y1="657.5" x2="843.4" y2="663" stroke="#000" stroke-width="2.6"/>
<line x1="896.2" y1="657.5" x2="896.2" y2="670.6" stroke="#000" stroke-width="2.6"/>
<line x1="949.0" y1="657.5" x2="949.0" y2="663" stroke="#000" stroke-width="2.6"/>
<line x1="1001.8" y1="657.5" x2="1001.8" y2="670.6" stroke="#000" stroke-width="2.6"/>
<line x1="1054.6" y1="657.5" x2="1054.6" y2="663" stroke="#000" stroke-width="2.6"/>
<text x="701.4" y="693.0" font-size="29" fill="#000" text-anchor="end" font-weight="normal" font-style="normal" >-95</text>
<text x="818.6" y="693.0" font-size="29" fill="#000" text-anchor="end" font-weight="normal" font-style="normal" >-100</text>
<text x="920.2" y="693.0" font-size="29" fill="#000" text-anchor="end" font-weight="normal" font-style="normal" >-105</text>
<text x="1023.7" y="693.0" font-size="29" fill="#000" text-anchor="end" font-weight="normal" font-style="normal" >-110</text>
<text x="804.6" y="737.4" font-size="41.2" fill="#000" text-anchor="start" font-weight="normal" font-style="normal" ><tspan font-size="28" dy="-10.4">19</tspan><tspan dy="10.4">F (ppm)</tspan></text>
<text x="1215.5" y="114.4" font-size="40" fill="#000" text-anchor="start" font-weight="bold" font-style="normal" >c</text>
<text x="1152.5" y="369.0" font-size="33.3" fill="#000" text-anchor="start" font-weight="normal" font-style="normal" >245 K</text>
<text x="1152.5" y="519.6" font-size="33.3" fill="#000" text-anchor="start" font-weight="normal" font-style="normal" >285 K</text>
<text x="1152.5" y="617.6" font-size="33.3" fill="#000" text-anchor="start" font-weight="normal" font-style="normal" >308 K</text>
<path d="M1176.4 429.0L1178.9 430.2L1179.9 430.4L1180.4 430.7L1180.9 430.7L1181.4 431.0L1182.4 431.0L1182.9 431.2L1184.9 430.7L1185.4 430.8L1186.9 430.8L1187.4 430.7L1188.9 430.8L1189.4 431.0L1190.9 432.4L1191.9 433.1L1195.9 438.1L1197.9 439.1L1199.4 440.2L1200.4 440.8L1202.4 441.7L1202.9 442.0L1203.4 442.1L1204.9 443.1L1206.9 443.1L1207.9 443.7L1209.9 443.8L1210.4 444.0L1213.4 443.8L1214.9 443.6L1215.9 443.7L1216.9 443.5L1217.9 443.1L1219.4 442.9L1219.9 442.7L1222.4 442.4L1224.4 441.8L1225.4 441.7L1225.9 441.4L1227.9 441.4L1229.4 440.8L1230.4 440.9L1232.4 440.6L1232.9 440.3L1233.9 440.3L1234.4 440.0L1235.4 439.7L1237.9 438.3L1238.9 437.5L1242.9 432.6L1244.4 430.4L1244.9 429.5L1245.9 427.4L1246.4 426.0L1247.4 424.1L1247.9 423.3L1249.4 421.6L1250.4 421.6L1251.4 421.9L1253.4 423.1L1254.9 423.7L1255.4 423.6L1255.9 423.0L1256.4 422.3L1256.9 421.2L1257.9 418.2L1259.9 409.2L1260.9 403.8L1261.9 395.1L1263.4 377.9L1264.4 368.1L1265.9 356.3L1266.9 349.7L1267.4 347.5L1267.9 346.1L1268.4 345.6L1269.4 345.2L1269.9 345.2L1270.4 345.3L1272.4 344.9L1272.9 344.4L1273.4 342.4L1274.4 335.1L1277.4 304.8L1280.4 276.6L1281.9 263.8L1282.9 257.0L1284.4 249.1L1285.4 244.3L1286.4 241.0L1286.9 240.1L1287.4 239.9L1287.9 240.4L1288.4 242.2L1288.9 245.0L1291.9 270.2L1293.4 284.6L1293.9 288.7L1294.4 291.7L1294.9 293.0L1295.4 292.3L1296.4 289.0L1296.9 286.4L1297.9 282.5L1298.4 281.0L1298.9 280.8L1299.4 280.9L1299.9 281.6L1302.4 288.4L1302.9 289.3L1303.4 289.9L1304.4 289.5L1306.9 286.4L1307.9 285.6L1308.4 285.3L1308.9 286.0L1309.4 287.9L1309.9 290.6L1312.4 306.8L1315.9 321.9L1316.9 325.9L1318.4 330.3L1319.4 332.1L1319.9 332.4L1320.4 332.4L1320.9 331.8L1321.9 328.3L1323.9 318.8L1325.9 310.2L1326.9 306.5L1327.4 305.6L1327.9 305.8L1328.4 306.6L1330.9 313.3L1331.4 314.2L1331.9 314.8L1332.4 314.7L1332.9 313.9L1333.4 312.6L1334.4 308.2L1335.9 299.0L1336.4 295.2L1336.9 289.0L1338.9 253.9L1339.9 240.4L1341.4 227.6L1341.9 225.0L1342.4 224.1L1342.9 225.1L1343.4 228.0L1343.9 232.7L1346.9 268.3L1349.9 308.8L1350.9 320.0L1351.4 324.5L1351.9 327.7L1352.4 329.9L1352.9 330.5L1353.4 329.8L1353.9 328.2L1354.4 325.2L1355.4 317.4L1356.4 307.5L1357.4 296.0L1357.9 287.0L1359.4 250.0L1359.9 241.5L1360.9 231.0L1361.4 227.2L1361.9 225.0L1362.4 225.3L1362.9 229.4L1363.4 236.5L1364.9 262.6L1367.4 315.9L1368.4 333.6L1370.9 366.1L1372.4 380.9L1373.4 387.7L1373.9 389.6L1375.4 393.2L1376.9 396.1L1377.9 397.1L1378.9 397.9L1380.4 400.6L1382.9 405.9L1384.4 407.8L1385.9 407.9L1386.4 407.8L1386.9 407.6L1387.9 406.9L1390.9 404.0L1391.9 402.6L1393.4 401.0L1396.4 396.9L1397.4 395.9L1398.4 395.7L1398.9 395.9L1399.9 397.6L1401.9 402.5L1402.9 404.4L1403.4 404.9L1403.9 405.0L1404.4 404.6L1404.9 403.8L1405.9 400.8L1409.4 385.6L1411.4 378.9L1412.9 372.2L1413.4 369.1L1413.9 364.6L1415.9 341.3L1416.4 336.7L1416.9 333.4L1418.4 325.4L1419.4 321.4L1419.9 320.4L1420.4 320.0L1420.9 320.3L1421.4 322.2L1422.4 328.2L1424.9 347.3L1427.9 376.5L1429.4 388.2L1430.9 395.9L1432.4 402.6L1433.9 408.6L1435.4 412.5L1435.9 413.4L1436.4 414.1L1436.9 414.3L1437.9 414.1L1438.9 414.0L1442.4 412.5L1443.9 411.3L1444.9 410.2L1445.9 408.4L1448.4 402.3L1449.9 397.1L1451.9 388.1L1453.9 377.4L1454.9 371.5L1455.4 367.7L1458.9 334.1L1459.9 326.1L1460.4 323.4L1462.9 312.8L1463.4 311.1L1464.4 308.5L1465.4 306.6L1465.9 306.1L1466.4 306.3L1466.9 306.7L1467.9 308.8L1469.4 312.9L1471.9 320.6L1472.4 322.4L1473.4 327.4L1475.9 342.6L1476.9 348.0L1477.4 349.9L1477.9 351.3L1478.4 352.2L1478.9 352.7L1479.4 352.4L1479.9 351.7L1480.4 350.1L1480.9 347.8L1481.9 341.9L1483.9 326.4L1484.4 320.3L1484.9 311.7L1486.4 279.9L1487.4 261.9L1488.9 242.2L1489.4 237.3L1489.9 234.4L1490.4 234.4L1490.9 238.1L1491.4 244.2L1493.4 276.9L1493.9 282.6L1495.9 300.3L1497.4 311.9L1498.9 320.7L1500.9 330.1L1503.4 340.9L1504.4 344.1L1505.4 345.8L1505.9 346.1L1506.4 345.9L1506.9 345.4L1507.9 343.2L1510.4 333.8L1511.4 330.6L1511.9 329.3L1512.4 328.8L1513.4 328.2L1513.9 328.0L1514.9 327.2L1516.4 326.9L1516.9 327.0L1517.4 327.3L1519.4 329.3L1519.9 329.6L1520.4 329.8L1521.4 329.6L1521.9 328.9L1522.4 327.9L1523.4 324.3L1524.9 316.9L1526.9 306.1L1528.4 299.7L1529.9 292.6L1531.4 284.2L1532.9 274.6L1533.9 266.0L1536.4 239.4L1538.9 214.6L1539.4 210.5L1539.9 207.6L1540.4 206.9L1540.9 207.9L1541.4 210.1L1544.4 232.0L1547.4 247.9L1548.4 251.9L1549.4 254.1L1550.9 255.7L1552.4 256.4L1552.9 256.2L1553.9 255.1L1554.9 253.1L1555.9 252.4L1556.4 252.6L1558.4 255.0L1559.4 255.5L1559.9 255.4L1560.9 254.1L1561.4 252.9L1562.4 250.1L1563.9 244.2L1564.9 237.7L1565.9 228.7L1566.9 217.4L1568.4 196.8L1569.9 163.6L1573.9 54.7L1574.9 30.3L1575.4 21.4L1576.4 8.1L1576.9 3.2L1577.4 0.9L1577.9 2.5L1578.4 6.5L1578.9 12.3L1579.9 25.9L1580.4 36.3L1583.4 130.8L1583.9 143.7L1585.4 171.8L1586.4 187.6L1587.9 207.7L1590.9 241.3L1591.9 250.0L1592.4 252.9L1592.9 254.9L1593.4 255.7L1593.9 255.0L1594.4 253.3L1594.9 250.4L1595.9 242.6L1597.9 222.7L1598.4 216.4L1600.4 182.8L1600.9 177.9L1601.9 171.4L1602.4 168.7L1602.9 167.0L1603.4 166.3L1603.9 166.8L1604.4 168.4L1605.4 174.0L1607.9 190.6L1611.4 215.1L1613.9 228.8L1614.9 236.9L1616.9 261.9L1621.4 326.8L1623.9 356.6L1624.9 365.3L1625.4 367.5L1625.9 367.9L1626.4 367.3L1627.4 363.5L1628.4 357.7L1630.9 340.3L1632.4 327.1L1633.4 316.4L1635.9 285.3L1637.4 261.6L1640.9 198.6L1642.9 156.9L1643.4 150.1L1643.9 146.1L1644.4 142.6L1644.9 140.3L1645.4 139.3L1645.9 140.6L1646.4 144.3L1646.9 149.9L1647.9 164.7L1649.4 189.7L1651.9 248.3L1653.9 285.7L1655.4 307.7L1656.4 319.0L1657.4 327.6L1657.9 329.6L1658.4 329.5L1659.4 326.5L1660.4 321.9L1661.4 318.4L1661.9 317.4L1662.9 315.8L1663.9 314.7L1664.9 314.1L1665.4 313.9L1666.4 314.0L1666.9 314.4L1668.9 316.5L1670.4 318.7L1671.4 321.3L1672.9 327.7L1674.4 336.7L1677.4 368.6L1678.9 380.3L1680.4 389.6L1682.4 400.8L1684.4 409.4L1685.9 414.2L1687.9 419.6L1689.4 423.0L1690.4 424.7L1690.9 425.2L1692.9 428.6L1693.9 429.8L1695.4 432.1L1696.4 432.8L1696.9 432.9L1699.4 435.8L1703.9 438.3L1704.9 438.8L1705.9 439.0L1706.9 439.8L1707.9 440.9L1709.4 441.4L1709.9 441.3L1710.4 441.7L1711.4 442.0L1711.9 442.5L1712.9 442.9L1714.4 443.5L1715.4 443.6L1717.4 444.8L1719.4 445.3L1721.4 446.2L1722.4 446.1L1722.9 446.3L1723.9 446.2L1724.4 446.4L1724.9 446.4L1726.9 447.2L1728.4 447.3L1728.9 447.1L1729.9 447.2L1731.4 447.7L1732.4 447.6L1732.9 447.7L1733.4 447.7L1733.9 447.9L1736.4 448.0L1737.9 448.5L1738.9 448.3L1741.9 448.6L1745.4 448.5L1746.4 448.6L1747.4 448.9L1748.4 449.0L1749.4 448.7L1749.9 448.9L1751.9 448.6L1752.9 448.7L1753.9 448.6L1754.9 448.3L1756.4 448.9L1756.9 448.9L1757.9 448.8L1758.4 448.6L1758.9 448.6L1759.9 448.4L1760.9 448.4L1763.9 448.8L1764.9 448.7L1765.9 448.5L1766.4 448.7L1767.4 448.6L1767.9 448.8L1768.4 448.6L1770.4 448.3L1770.9 448.3L1771.4 448.5L1773.4 448.5L1773.9 448.7L1774.4 448.6" fill="none" stroke="#000" stroke-width="3.7" stroke-linejoin="round" stroke-linecap="round" />
<path d="M1177.2 559.4L1178.0 559.5L1178.4 559.3L1179.2 559.3L1180.0 559.6L1182.0 559.2L1182.4 559.5L1183.6 559.7L1184.0 559.6L1184.8 559.2L1185.2 559.4L1186.0 559.2L1186.8 559.2L1188.0 560.0L1188.4 560.2L1188.8 560.1L1190.0 560.9L1191.6 562.6L1192.8 563.5L1193.2 563.5L1193.6 563.7L1194.4 563.8L1194.8 564.1L1195.2 564.2L1196.4 564.8L1196.8 565.3L1198.0 565.6L1198.8 565.6L1200.0 566.1L1200.4 566.4L1201.6 566.9L1202.0 566.8L1202.8 566.9L1203.2 566.7L1204.8 566.8L1205.2 566.7L1205.6 566.4L1206.0 566.4L1206.4 566.4L1207.2 566.8L1207.6 566.7L1208.0 566.9L1208.4 566.7L1209.2 566.8L1210.0 566.7L1210.8 566.8L1212.4 566.5L1213.6 566.8L1214.4 566.8L1216.0 566.4L1216.4 566.4L1217.2 566.6L1218.0 566.4L1218.4 566.0L1220.0 566.4L1220.8 566.2L1221.2 566.3L1222.8 565.9L1223.6 566.1L1225.6 565.3L1226.8 564.9L1227.6 564.9L1229.2 563.6L1230.0 563.4L1231.2 563.2L1232.0 563.4L1233.6 564.1L1234.4 564.7L1235.2 565.1L1236.0 564.8L1237.2 564.9L1238.4 564.7L1238.8 564.5L1239.2 564.6L1240.8 564.3L1242.4 564.9L1243.2 564.7L1243.6 564.5L1244.0 563.9L1245.2 560.7L1248.4 551.0L1248.8 549.9L1249.6 548.7L1250.0 548.7L1250.8 549.4L1251.2 550.0L1252.8 552.9L1253.6 553.8L1254.0 554.1L1254.4 554.0L1256.0 552.5L1256.8 552.0L1259.2 547.4L1260.0 545.4L1261.2 539.2L1262.4 531.1L1263.2 526.8L1264.8 516.5L1265.2 515.4L1265.6 515.5L1268.4 517.3L1268.8 517.3L1269.6 516.4L1270.4 514.9L1273.2 507.4L1274.0 504.4L1275.6 497.1L1277.2 490.6L1278.0 488.1L1279.6 483.9L1280.4 481.2L1280.8 479.5L1281.6 473.6L1283.6 455.9L1285.6 444.0L1286.4 440.7L1286.8 439.9L1287.2 440.1L1287.6 440.9L1288.0 442.8L1290.0 459.1L1292.0 471.3L1292.4 473.1L1292.8 474.0L1293.2 473.6L1293.6 471.7L1295.6 455.8L1297.2 447.7L1298.0 445.1L1298.4 444.7L1298.8 445.3L1299.2 447.1L1302.4 472.5L1303.2 476.8L1304.8 480.8L1305.2 481.5L1306.0 481.8L1307.2 480.2L1309.2 475.6L1310.0 474.1L1310.4 473.8L1310.8 473.8L1311.2 474.6L1311.6 475.9L1312.0 477.7L1316.0 501.5L1317.2 507.4L1317.6 508.3L1318.8 509.3L1319.6 509.7L1321.2 510.0L1321.6 509.7L1322.4 507.5L1322.8 506.1L1325.2 494.9L1327.2 482.0L1328.0 478.6L1328.8 477.2L1329.6 476.3L1330.4 476.0L1331.2 476.3L1332.0 477.6L1334.0 482.2L1334.4 482.6L1334.8 482.8L1335.2 482.5L1335.6 481.4L1336.0 479.7L1336.8 473.8L1338.8 454.6L1340.4 428.8L1340.8 423.9L1341.2 421.6L1342.0 418.7L1342.4 417.8L1342.8 417.2L1343.2 417.4L1343.6 420.3L1344.0 425.2L1345.2 443.7L1348.0 481.7L1350.0 499.8L1350.8 505.1L1351.2 506.9L1351.6 507.9L1352.0 507.8L1352.4 507.1L1352.8 506.2L1354.0 501.2L1355.6 492.3L1356.4 486.0L1358.4 459.2L1359.2 451.2L1360.4 442.8L1361.2 438.4L1361.6 436.8L1362.0 435.8L1362.4 435.6L1362.8 436.1L1363.2 437.5L1364.0 442.9L1365.6 457.1L1367.6 486.4L1369.2 503.7L1370.4 514.0L1372.0 523.9L1374.0 533.4L1374.8 536.1L1375.6 537.7L1377.2 539.5L1378.0 540.1L1378.8 540.4L1379.2 540.8L1379.6 540.9L1380.8 541.5L1381.2 542.1L1382.0 544.2L1383.6 549.6L1384.8 552.8L1385.6 553.8L1386.0 553.9L1386.4 553.8L1386.8 553.8L1387.2 553.6L1387.6 553.2L1388.8 551.6L1389.2 550.8L1390.0 547.5L1391.2 541.1L1391.6 539.5L1392.0 538.5L1392.8 538.1L1394.4 537.9L1394.8 537.8L1395.6 537.8L1396.4 536.4L1397.6 533.3L1398.0 532.5L1398.4 532.0L1398.8 532.0L1399.2 532.8L1400.8 539.0L1401.6 541.2L1402.0 541.9L1402.8 542.7L1404.0 543.2L1404.8 543.3L1405.2 543.1L1406.0 541.7L1408.0 535.1L1408.8 533.1L1409.2 532.6L1410.0 532.2L1411.6 532.3L1412.4 531.9L1413.2 531.9L1413.6 530.8L1414.0 528.7L1416.0 511.4L1416.4 509.0L1418.8 497.5L1419.6 494.8L1420.0 494.0L1420.4 493.7L1421.2 494.2L1422.4 496.3L1423.6 499.7L1424.4 502.5L1425.6 509.2L1427.6 525.4L1428.4 530.7L1428.8 532.6L1429.6 536.0L1430.4 538.7L1432.4 544.5L1435.2 553.2L1436.0 554.9L1436.4 555.4L1436.8 555.5L1437.6 555.2L1438.8 554.0L1439.6 553.1L1440.8 551.3L1442.8 546.3L1443.6 544.8L1445.2 544.8L1446.8 544.0L1447.6 543.5L1448.0 543.1L1448.8 541.0L1449.2 537.0L1451.2 505.6L1453.6 476.0L1454.0 472.2L1454.4 470.4L1454.8 471.2L1455.2 474.3L1456.4 486.7L1457.6 495.7L1458.4 499.8L1458.8 500.3L1459.2 498.0L1460.4 484.4L1460.8 481.1L1461.6 477.6L1462.8 474.1L1463.2 473.5L1463.6 473.3L1464.0 473.8L1464.8 477.0L1466.0 483.2L1467.2 487.5L1467.6 488.7L1468.0 489.6L1468.4 489.8L1468.8 489.5L1469.2 489.1L1470.0 487.7L1470.8 486.7L1471.2 486.9L1471.6 489.0L1473.2 502.6L1474.4 509.8L1476.0 517.4L1478.4 524.0L1479.6 526.2L1480.4 527.0L1480.8 527.1L1481.2 526.7L1481.6 525.7L1482.4 523.1L1484.0 515.2L1484.8 507.6L1486.8 480.5L1488.8 458.4L1489.6 452.0L1490.0 450.2L1490.4 449.8L1490.8 449.8L1491.6 450.0L1492.0 450.3L1492.8 451.5L1493.2 453.0L1495.6 465.9L1497.6 473.4L1500.0 483.6L1502.0 492.9L1503.6 502.6L1504.4 505.6L1504.8 506.1L1505.2 506.3L1505.6 506.2L1507.2 505.2L1508.4 504.6L1508.8 504.6L1509.2 505.1L1509.6 506.5L1510.4 510.4L1511.2 513.1L1511.6 513.3L1512.4 513.0L1513.6 511.9L1514.0 511.3L1514.4 511.1L1515.2 510.3L1515.6 510.1L1516.4 509.2L1518.0 508.0L1518.8 507.2L1520.4 506.3L1522.8 504.2L1523.6 503.8L1524.4 502.9L1524.8 500.7L1525.6 492.8L1527.2 472.9L1528.4 455.6L1528.8 451.6L1529.2 449.5L1530.4 446.8L1530.8 446.5L1531.2 446.4L1531.6 446.5L1532.0 447.0L1533.2 449.0L1534.0 451.0L1534.4 451.7L1534.8 452.0L1535.2 451.5L1535.6 450.1L1536.8 441.5L1538.4 426.7L1540.4 402.1L1540.8 399.4L1541.2 398.8L1541.6 400.1L1542.0 402.7L1545.2 432.5L1546.0 438.2L1546.4 440.2L1548.0 445.7L1548.8 449.1L1550.4 459.2L1550.8 460.7L1552.0 463.9L1552.4 464.8L1553.2 465.7L1553.6 465.5L1554.0 465.0L1554.4 464.2L1555.2 461.7L1556.4 456.9L1557.2 452.2L1559.2 434.8L1560.4 427.1L1561.2 423.9L1561.6 423.7L1562.0 425.1L1562.4 427.5L1564.0 440.1L1565.2 450.7L1565.6 453.6L1566.0 455.4L1566.4 455.6L1566.8 454.1L1567.6 446.1L1569.6 419.6L1571.6 388.9L1572.8 367.6L1575.6 310.5L1576.8 282.3L1577.6 269.6L1578.0 268.2L1578.4 272.9L1578.8 283.0L1580.0 325.2L1581.2 358.2L1582.4 385.7L1583.2 398.9L1583.6 404.1L1584.0 406.9L1584.4 404.5L1585.6 383.5L1586.0 378.8L1586.4 377.2L1586.8 381.4L1588.4 413.4L1590.0 440.9L1590.8 453.0L1591.2 456.5L1591.6 457.7L1592.0 457.3L1592.4 456.6L1594.4 447.0L1595.2 443.9L1595.6 442.6L1598.0 436.8L1598.8 434.0L1599.6 427.4L1600.4 418.4L1601.2 408.0L1602.4 386.8L1602.8 382.1L1603.2 380.6L1603.6 383.3L1604.0 389.7L1606.4 438.2L1606.8 444.8L1607.2 448.7L1607.6 450.0L1608.0 450.7L1608.4 450.9L1609.6 452.1L1610.0 452.8L1610.4 454.5L1612.0 465.1L1612.4 466.3L1612.8 465.8L1613.2 463.4L1614.8 443.6L1615.2 439.9L1615.6 437.7L1616.0 438.5L1616.4 443.3L1618.0 476.7L1619.6 498.1L1620.4 507.4L1622.8 531.4L1623.6 537.9L1624.0 540.1L1624.4 541.0L1624.8 541.5L1625.6 541.9L1626.4 542.6L1627.2 543.0L1627.6 543.0L1628.8 543.0L1629.2 543.2L1629.6 542.9L1630.0 541.8L1630.4 540.3L1630.8 537.8L1632.8 523.8L1634.4 509.9L1634.8 507.8L1635.2 506.8L1636.4 504.8L1637.2 503.2L1637.6 501.6L1638.4 492.2L1639.2 477.4L1643.2 391.4L1644.0 376.4L1645.6 359.7L1646.0 357.7L1646.4 356.8L1646.8 358.1L1647.2 362.1L1649.6 398.8L1650.8 421.6L1652.4 460.0L1653.6 481.9L1657.2 534.0L1658.0 542.7L1658.4 544.2L1658.8 543.7L1659.6 539.8L1661.2 527.6L1661.6 525.5L1662.8 521.7L1666.0 514.3L1666.4 513.1L1668.8 504.1L1670.4 495.5L1670.8 494.0L1671.2 493.1L1671.6 493.2L1672.0 493.9L1672.4 494.8L1675.2 503.3L1675.6 504.0L1676.0 504.4L1676.4 504.4L1676.8 502.8L1677.2 500.2L1679.6 479.7L1680.0 477.1L1680.4 475.9L1680.8 477.3L1681.2 481.2L1684.8 531.2L1686.0 540.7L1687.2 548.1L1688.0 551.9L1689.2 556.5L1690.4 559.9L1692.0 563.1L1692.4 564.2L1693.2 565.4L1694.0 566.0L1696.4 567.3L1697.6 567.7L1698.8 568.5L1699.2 568.9L1699.6 568.8L1700.4 569.2L1700.8 568.9L1701.2 569.2L1701.6 569.3L1702.0 569.1L1702.4 569.2L1702.8 569.0L1703.6 569.5L1704.4 569.6L1705.2 569.1L1706.4 569.1L1707.6 569.4L1709.2 569.5L1709.6 569.7L1710.8 569.6L1711.2 569.4L1712.0 569.5L1712.4 569.2L1713.2 569.1L1713.6 569.2L1714.8 569.9L1715.2 569.9L1715.6 569.7L1716.0 569.8L1716.8 569.4L1717.2 569.5L1717.6 569.4L1718.8 569.8L1720.0 569.8L1720.4 569.6L1721.2 569.8L1721.6 569.7L1722.0 569.9L1722.8 569.9L1723.2 570.1L1724.4 569.7L1724.8 569.5L1728.0 569.9L1728.8 569.7L1730.4 569.8L1731.6 569.5L1732.8 569.7L1733.2 570.0L1734.0 569.7L1734.4 569.8L1734.8 569.5L1735.2 569.5L1736.4 569.9L1737.6 569.8L1738.4 570.1L1740.0 569.7L1740.8 569.8L1742.0 569.5L1742.8 569.6L1744.0 569.8L1745.6 569.3L1746.4 569.7L1747.2 569.7L1748.0 569.4L1750.8 569.7L1752.0 569.6L1752.4 569.5L1752.8 569.6L1753.6 569.5L1754.0 569.8L1754.8 569.7L1755.6 569.4L1756.8 569.8L1757.6 569.8L1758.4 570.0L1760.0 569.7L1762.0 569.7L1762.8 569.9L1763.2 569.6L1763.6 569.7L1764.0 569.5L1764.8 569.8L1766.4 569.6L1768.4 569.9L1769.2 569.8L1769.6 569.9L1771.2 569.3L1771.6 569.3L1772.0 569.6L1772.8 569.8L1773.6 569.7L1774.0 569.9" fill="none" stroke="#000" stroke-width="3.5" stroke-linejoin="round" stroke-linecap="round" />
<path d="M1177.2 658.9L1177.6 658.8L1178.0 658.9L1178.4 658.7L1179.6 658.6L1180.8 658.7L1181.2 658.9L1182.0 658.6L1182.4 658.6L1182.8 658.4L1183.6 658.7L1184.0 658.6L1184.4 658.7L1185.2 658.4L1186.8 658.6L1187.2 658.4L1188.0 658.2L1188.4 658.2L1188.8 658.5L1190.0 658.5L1190.8 658.3L1191.2 658.5L1191.6 658.3L1192.8 658.2L1194.0 658.4L1194.4 658.4L1195.2 658.6L1196.0 658.5L1197.6 658.2L1199.2 658.2L1200.0 657.9L1201.2 658.0L1202.0 658.4L1204.0 657.8L1204.8 657.8L1205.2 658.0L1205.6 657.9L1206.8 657.8L1207.2 657.9L1207.6 657.8L1208.0 657.9L1209.6 657.7L1211.6 658.0L1213.2 657.5L1214.8 657.2L1216.0 657.2L1216.8 657.0L1217.6 657.2L1218.4 657.1L1218.8 657.0L1219.6 657.1L1220.4 657.0L1220.8 656.8L1221.6 656.8L1223.2 656.3L1225.6 655.9L1226.8 655.4L1228.0 654.7L1229.2 653.8L1229.6 653.0L1230.0 652.7L1230.4 652.0L1231.6 650.9L1232.4 650.8L1233.2 651.6L1234.4 653.7L1234.8 654.1L1235.2 654.3L1236.8 654.1L1237.6 653.7L1239.2 653.4L1240.8 652.6L1241.2 652.6L1242.4 652.1L1243.6 651.2L1245.2 650.5L1248.8 646.7L1249.2 646.6L1250.0 645.9L1250.4 645.4L1251.6 643.4L1252.8 642.0L1253.2 641.8L1254.0 640.6L1255.6 639.2L1256.4 638.6L1259.2 637.5L1260.8 637.8L1262.4 636.8L1262.8 636.9L1263.2 636.8L1264.8 636.1L1266.4 634.8L1267.6 634.2L1268.8 633.2L1269.2 632.7L1274.0 629.5L1275.2 627.9L1276.0 627.3L1276.4 626.5L1276.8 625.5L1278.4 619.7L1279.2 617.5L1280.0 615.9L1280.4 615.3L1280.8 615.3L1282.4 616.3L1283.6 616.8L1284.0 616.7L1284.8 616.1L1287.2 612.9L1288.0 612.7L1289.2 614.2L1290.8 616.6L1291.6 617.3L1293.2 617.5L1294.0 617.4L1295.6 616.4L1296.0 616.4L1296.4 616.1L1297.2 615.4L1299.2 610.5L1299.6 609.9L1300.0 609.7L1300.4 609.8L1300.8 610.1L1302.4 613.0L1304.0 615.1L1305.6 617.9L1306.4 618.9L1306.8 619.7L1308.0 620.9L1310.4 622.6L1312.4 624.4L1312.8 624.7L1314.0 625.0L1315.6 625.7L1316.8 625.5L1318.0 625.9L1318.4 625.7L1319.2 625.6L1319.6 625.6L1320.0 625.8L1321.2 625.7L1322.0 625.5L1323.2 624.9L1324.0 624.3L1326.8 621.2L1327.6 620.5L1328.4 620.1L1330.0 618.2L1331.2 617.4L1332.0 616.4L1333.2 615.2L1333.6 614.9L1335.6 611.8L1337.2 608.9L1339.2 605.8L1339.6 604.8L1340.8 602.6L1341.2 602.5L1341.6 602.5L1342.0 602.8L1342.4 603.5L1342.8 604.4L1344.4 609.0L1344.8 609.7L1346.4 613.7L1347.2 615.0L1347.6 615.2L1349.2 615.5L1349.6 615.7L1350.4 615.9L1351.2 615.7L1352.0 616.0L1352.8 616.6L1353.2 616.7L1354.8 617.9L1356.4 618.4L1357.2 618.5L1358.8 617.5L1359.6 617.1L1361.2 615.9L1362.4 615.4L1364.0 614.3L1364.8 614.3L1365.2 614.7L1365.6 615.2L1366.8 617.5L1368.4 622.8L1369.2 625.0L1371.2 629.3L1373.6 634.1L1375.6 637.1L1376.0 637.3L1377.6 639.8L1378.4 640.8L1379.6 641.6L1380.4 641.7L1382.0 642.7L1383.2 642.9L1385.6 643.4L1387.2 643.4L1389.6 642.8L1390.8 642.2L1392.4 641.8L1394.4 640.7L1396.0 640.1L1396.8 640.0L1398.4 640.9L1399.6 641.9L1400.0 642.4L1401.2 643.3L1403.6 643.7L1404.4 643.6L1405.6 643.2L1407.2 643.5L1408.0 643.4L1408.4 643.5L1409.6 643.4L1411.2 643.7L1412.4 643.5L1412.8 643.3L1418.8 641.1L1419.6 641.3L1420.0 641.2L1420.4 641.3L1420.8 641.2L1421.6 641.7L1422.0 641.7L1422.4 641.9L1423.2 641.7L1424.0 641.8L1424.8 642.1L1425.6 642.9L1427.2 643.0L1428.0 643.5L1428.8 643.8L1430.4 644.9L1431.2 645.2L1432.4 645.2L1432.8 645.4L1433.2 645.7L1434.0 645.8L1435.2 645.5L1436.8 645.9L1439.6 645.4L1440.4 645.7L1440.8 645.7L1441.6 645.5L1442.8 645.3L1444.0 644.7L1444.8 644.1L1446.4 642.3L1447.2 641.6L1447.6 640.6L1448.4 637.3L1449.6 629.6L1450.8 613.7L1451.6 605.9L1452.8 599.4L1453.2 598.9L1453.6 600.2L1455.2 617.3L1455.6 619.7L1456.8 625.6L1457.2 627.0L1457.6 627.7L1458.0 628.2L1458.4 628.1L1460.8 627.0L1462.8 625.3L1464.0 624.8L1464.4 624.8L1465.2 625.0L1466.0 626.1L1467.6 627.2L1468.4 628.2L1469.6 629.0L1470.4 629.4L1470.8 629.8L1471.2 629.9L1472.0 630.4L1473.6 631.0L1474.4 631.5L1475.2 631.7L1476.4 631.6L1476.8 631.4L1478.4 631.6L1479.6 631.4L1480.8 631.4L1481.6 631.2L1483.6 629.9L1484.8 628.7L1485.6 627.6L1486.4 626.7L1487.2 626.3L1488.0 625.6L1489.6 623.6L1492.0 621.2L1492.8 620.9L1494.8 620.5L1496.8 620.9L1498.4 620.8L1498.8 620.6L1499.2 620.7L1500.4 620.6L1500.8 619.8L1502.4 614.8L1502.8 613.9L1503.2 613.4L1503.6 613.7L1504.0 615.0L1505.2 621.0L1506.0 623.6L1507.2 626.3L1508.0 627.8L1508.8 629.2L1510.0 630.8L1510.8 632.2L1511.2 632.5L1512.8 634.4L1513.2 634.8L1513.6 634.9L1514.4 635.1L1514.8 635.0L1515.6 632.1L1516.8 625.0L1517.2 623.0L1517.6 621.9L1518.0 621.9L1518.4 622.8L1519.6 627.6L1520.0 628.3L1520.8 627.7L1522.0 626.4L1523.2 624.7L1524.4 622.4L1525.6 619.7L1526.8 616.1L1527.6 612.7L1528.4 605.2L1530.0 584.2L1531.6 556.8L1532.0 552.7L1532.4 551.4L1532.8 551.8L1533.2 552.7L1534.0 555.8L1536.4 568.7L1538.4 581.1L1540.8 593.5L1541.6 596.9L1544.0 602.8L1544.8 604.3L1546.0 605.3L1546.4 605.3L1546.8 605.2L1547.6 604.5L1548.8 602.3L1549.2 601.4L1550.4 599.6L1552.0 596.0L1553.2 594.3L1553.6 593.9L1554.0 593.8L1554.4 594.0L1557.2 598.4L1557.6 598.4L1560.0 597.0L1562.8 594.6L1563.2 594.6L1564.0 593.9L1565.2 592.3L1566.0 590.9L1566.4 589.8L1566.8 587.5L1568.8 565.0L1570.4 549.7L1570.8 546.7L1571.2 544.9L1571.6 544.3L1572.0 544.6L1572.8 546.3L1574.0 550.4L1575.2 552.9L1576.4 555.0L1577.6 556.2L1578.0 556.3L1578.4 556.5L1579.2 556.6L1580.8 557.3L1582.0 557.3L1582.4 557.4L1583.6 558.6L1584.8 559.4L1585.2 559.4L1585.6 558.7L1587.2 552.2L1587.6 551.1L1588.0 550.6L1588.4 552.4L1589.6 564.4L1590.8 574.7L1591.2 577.0L1591.6 577.7L1592.0 577.3L1592.4 576.1L1593.6 570.4L1594.4 567.7L1594.8 567.4L1595.6 567.3L1596.0 567.3L1597.2 567.6L1598.8 567.3L1599.6 566.5L1602.4 561.2L1602.8 561.0L1603.2 561.6L1603.6 563.5L1604.8 572.1L1606.8 584.0L1607.6 588.3L1608.0 589.8L1608.4 590.9L1608.8 591.5L1609.6 591.5L1610.8 590.8L1612.0 590.3L1612.4 590.3L1612.8 590.0L1613.6 590.0L1614.0 590.2L1615.2 591.0L1616.0 592.1L1616.4 593.3L1616.8 595.1L1619.2 609.2L1620.8 619.4L1622.0 625.8L1622.8 628.6L1623.6 630.4L1624.8 632.8L1625.6 634.0L1626.4 634.8L1627.6 635.2L1628.4 635.0L1629.2 634.6L1630.0 633.7L1632.4 629.3L1633.6 626.7L1634.8 623.2L1637.2 613.8L1638.0 609.6L1639.2 600.5L1640.8 586.2L1642.0 578.3L1642.8 575.0L1644.4 570.8L1645.6 567.1L1647.6 557.3L1648.4 554.7L1648.8 554.4L1649.2 556.2L1650.0 564.3L1651.2 579.7L1652.8 603.6L1653.6 612.7L1654.8 622.1L1656.0 629.0L1656.4 630.9L1657.6 634.9L1658.4 636.9L1658.8 637.4L1659.2 637.7L1660.8 637.1L1662.0 636.5L1663.2 635.6L1664.0 634.6L1665.6 631.4L1667.2 629.1L1668.0 628.1L1670.0 626.7L1671.2 625.6L1672.4 623.5L1672.8 622.7L1674.4 617.6L1675.2 616.2L1676.0 615.1L1676.8 613.0L1677.2 611.0L1678.8 599.8L1680.0 594.7L1680.8 592.8L1681.2 592.6L1681.6 594.1L1682.0 596.8L1684.0 616.4L1685.2 629.6L1686.0 636.0L1688.0 645.9L1688.8 648.9L1690.0 651.8L1691.2 653.7L1692.0 654.3L1693.2 655.1L1694.8 655.6L1695.6 656.4L1696.4 656.7L1697.2 656.6L1700.4 657.4L1700.8 657.3L1702.4 657.4L1704.0 657.9L1706.0 657.7L1707.6 658.0L1709.2 657.7L1710.8 658.4L1712.4 658.0L1712.8 658.2L1713.6 658.1L1714.4 658.2L1715.2 658.5L1716.0 658.5L1718.0 658.1L1719.2 658.5L1720.0 658.5L1720.4 658.6L1722.0 658.1L1723.6 658.5L1726.4 658.6L1728.0 658.9L1728.8 659.0L1730.8 658.5L1732.0 658.8L1733.6 658.5L1734.0 658.7L1734.8 658.5L1735.6 658.6L1736.0 658.8L1738.0 658.6L1739.2 658.9L1739.6 659.1L1740.4 658.8L1740.8 658.9L1741.2 658.7L1742.0 659.0L1742.4 658.9L1743.6 659.0L1744.4 659.0L1744.8 659.2L1745.2 659.1L1746.0 659.2L1746.4 659.0L1746.8 659.1L1747.2 658.9L1748.4 658.8L1748.8 659.1L1749.2 659.1L1750.0 659.2L1752.0 658.9L1752.4 659.1L1754.0 659.2L1754.4 659.4L1754.8 659.2L1756.4 659.3L1756.8 659.1L1757.2 659.2L1758.4 659.2L1758.8 659.0L1759.6 659.1L1760.0 659.2L1760.8 659.1L1761.2 659.3L1761.6 659.3L1762.0 659.4L1762.8 659.1L1764.0 659.1L1764.8 658.9L1765.6 659.1L1766.4 659.4L1766.8 659.3L1767.2 659.3L1769.2 659.1L1769.6 659.2L1770.4 659.1L1770.8 659.3L1771.6 659.2L1772.4 659.5L1774.0 659.3" fill="none" stroke="#000" stroke-width="3.5" stroke-linejoin="round" stroke-linecap="round" />
<line x1="1176.5" y1="674.8" x2="1774.9" y2="674.8" stroke="#000" stroke-width="3.1"/>
<path d="M1773.6 674.8V694.4M1766.1 674.8V681.4M1758.7 674.8V681.4M1751.2 674.8V681.4M1743.8 674.8V681.4M1736.3 674.8V681.4M1728.9 674.8V681.4M1721.4 674.8V681.4M1714.0 674.8V681.4M1706.5 674.8V681.4M1699.1 674.8V694.4M1691.6 674.8V681.4M1684.2 674.8V681.4M1676.7 674.8V681.4M1669.3 674.8V681.4M1661.9 674.8V681.4M1654.4 674.8V681.4M1647.0 674.8V681.4M1639.5 674.8V681.4M1632.1 674.8V681.4M1624.6 674.8V694.4M1617.2 674.8V681.4M1609.7 674.8V681.4M1602.3 674.8V681.4M1594.8 674.8V681.4M1587.4 674.8V681.4M1579.9 674.8V681.4M1572.5 674.8V681.4M1565.0 674.8V681.4M1557.6 674.8V681.4M1550.2 674.8V694.4M1542.7 674.8V681.4M1535.3 674.8V681.4M1527.8 674.8V681.4M1520.4 674.8V681.4M1512.9 674.8V681.4M1505.5 674.8V681.4M1498.0 674.8V681.4M1490.6 674.8V681.4M1483.1 674.8V681.4M1475.7 674.8V694.4M1468.2 674.8V681.4M1460.8 674.8V681.4M1453.3 674.8V681.4M1445.9 674.8V681.4M1438.4 674.8V681.4M1431.0 674.8V681.4M1423.6 674.8V681.4M1416.1 674.8V681.4M1408.7 674.8V681.4M1401.2 674.8V694.4M1393.8 674.8V681.4M1386.3 674.8V681.4M1378.9 674.8V681.4M1371.4 674.8V681.4M1364.0 674.8V681.4M1356.5 674.8V681.4M1349.1 674.8V681.4M1341.6 674.8V681.4M1334.2 674.8V681.4M1326.7 674.8V694.4M1319.3 674.8V681.4M1311.8 674.8V681.4M1304.4 674.8V681.4M1297.0 674.8V681.4M1289.5 674.8V681.4M1282.1 674.8V681.4M1274.6 674.8V681.4M1267.2 674.8V681.4M1259.7 674.8V681.4M1252.3 674.8V694.4M1244.8 674.8V681.4M1237.4 674.8V681.4M1229.9 674.8V681.4M1222.5 674.8V681.4M1215.0 674.8V681.4M1207.6 674.8V681.4M1200.1 674.8V681.4M1192.7 674.8V681.4M1185.2 674.8V681.4M1177.8 674.8V694.4" stroke="#000" stroke-width="2.8" fill="none"/>
<text x="1773.3" y="718.6" font-size="29" fill="#000" text-anchor="middle" font-weight="normal" font-style="normal" >0</text>
<text x="1698.8" y="718.6" font-size="29" fill="#000" text-anchor="middle" font-weight="normal" font-style="normal" >10</text>
<text x="1624.3" y="718.6" font-size="29" fill="#000" text-anchor="middle" font-weight="normal" font-style="normal" >20</text>
<text x="1549.9" y="718.6" font-size="29" fill="#000" text-anchor="middle" font-weight="normal" font-style="normal" >30</text>
<text x="1475.4" y="718.6" font-size="29" fill="#000" text-anchor="middle" font-weight="normal" font-style="normal" >40</text>
<text x="1400.9" y="718.6" font-size="29" fill="#000" text-anchor="middle" font-weight="normal" font-style="normal" >50</text>
<text x="1326.4" y="718.6" font-size="29" fill="#000" text-anchor="middle" font-weight="normal" font-style="normal" >60</text>
<text x="1252.0" y="718.6" font-size="29" fill="#000" text-anchor="middle" font-weight="normal" font-style="normal" >70</text>
<text x="1177.5" y="718.6" font-size="29" fill="#000" text-anchor="middle" font-weight="normal" font-style="normal" >80</text>
<text x="1374.5" y="758.9" font-size="40.5" fill="#000" text-anchor="start" font-weight="normal" font-style="normal" ><tspan font-size="26.5" dy="-10.2">13</tspan><tspan dy="10.2">C (ppm)</tspan></text>
<text x="65.5" y="795.5" font-size="40" fill="#000" text-anchor="start" font-weight="bold" font-style="normal" >d</text>
<text x="172.0" y="789.0" font-size="32.5" fill="#000" text-anchor="start" font-weight="normal" font-style="normal" >10 ms mixing</text>
<clipPath id="cl1"><rect x="167.4" y="802.5" width="348.3" height="349.4"/></clipPath>
<path clip-path="url(#cl1)" d="M475.0 835.5L477.9 835.0L482.4 834.9L485.4 835.4L486.9 836.1L489.5 838.5L491.1 841.5L491.3 843.0L490.7 846.0L489.0 849.0L486.9 851.4L480.3 856.5L472.2 864.0L468.9 867.9L464.4 871.8L461.8 874.5L460.0 877.5L459.0 880.5L456.0 892.5L454.8 895.5L452.4 899.4L448.2 904.5L444.9 906.7L425.4 912.2L422.4 912.3L420.9 911.8L419.4 910.8L416.9 907.5L414.3 900.0L412.9 892.5L412.8 888.0L413.7 883.5L415.7 877.5L419.8 868.5L422.4 864.0L425.4 860.6L429.9 857.4L432.9 856.3L440.4 854.4L450.7 850.5L453.9 848.4L459.9 845.4L467.4 839.6L473.4 836.0ZM495.7 835.5L497.4 834.9L498.0 835.5L497.8 837.0L497.4 837.3L495.9 837.0ZM357.7 906.0L359.4 905.4L360.9 905.6L363.5 907.5L366.9 909.2L377.4 911.2L380.4 910.7L387.9 906.7L390.9 905.9L392.4 905.9L398.4 908.3L402.9 909.3L410.4 911.5L411.0 912.0L411.5 913.5L411.1 915.0L409.9 916.5L407.4 918.4L406.6 919.5L400.4 930.0L400.1 931.5L401.0 933.0L403.3 934.5L405.9 935.3L408.9 935.4L411.9 936.3L413.0 937.5L413.4 939.0L413.0 940.5L411.9 942.9L407.4 947.8L406.8 949.5L406.9 952.5L408.2 957.0L408.7 960.0L408.2 967.5L409.2 975.0L408.1 987.0L406.4 993.0L406.2 996.0L408.2 1002.0L408.4 1003.5L406.3 1014.0L404.7 1020.0L403.9 1021.5L398.4 1028.1L396.9 1028.9L392.4 1029.5L390.9 1030.5L390.2 1032.0L390.2 1033.5L392.4 1039.5L392.0 1041.0L390.9 1042.1L389.4 1043.0L386.4 1043.8L380.4 1042.5L377.4 1043.5L372.8 1047.0L368.3 1053.0L360.9 1058.6L357.6 1060.5L355.8 1062.0L355.1 1063.5L355.8 1065.0L362.7 1071.0L363.9 1072.7L364.9 1075.5L365.2 1078.5L364.7 1084.5L364.6 1090.5L364.3 1092.0L363.5 1093.5L360.9 1096.3L359.4 1097.4L357.9 1097.8L356.4 1097.2L353.1 1093.5L351.5 1090.5L349.1 1083.0L349.1 1081.5L350.1 1077.0L349.9 1074.0L346.7 1066.5L345.9 1065.9L342.9 1066.1L341.4 1066.9L340.5 1068.0L334.6 1078.5L332.9 1084.5L331.4 1087.5L329.4 1089.6L327.9 1090.5L326.4 1090.8L324.9 1090.5L318.9 1084.0L317.4 1081.8L314.5 1075.5L313.0 1074.0L311.4 1073.3L309.9 1073.2L308.6 1074.0L307.3 1077.0L305.3 1080.0L302.4 1083.3L299.4 1085.7L297.9 1086.2L296.4 1086.2L294.9 1085.8L293.4 1084.8L292.0 1083.0L291.5 1081.5L291.7 1078.5L293.4 1075.8L294.9 1074.5L296.1 1074.0L297.5 1072.5L296.8 1071.0L295.3 1069.5L294.4 1068.0L293.4 1067.0L291.9 1066.5L275.5 1072.5L272.4 1074.0L266.4 1078.2L261.9 1079.9L259.2 1081.5L251.4 1088.3L249.9 1089.0L248.4 1089.1L245.4 1088.3L243.9 1088.3L242.4 1088.7L234.9 1093.7L222.5 1096.5L220.0 1098.0L215.4 1101.5L210.9 1103.6L206.4 1104.3L204.8 1104.0L203.4 1103.2L202.7 1102.5L202.3 1101.0L203.0 1098.0L203.9 1096.5L206.4 1093.7L213.9 1088.9L214.8 1087.5L216.9 1079.6L218.4 1075.8L219.9 1074.6L225.9 1073.6L228.9 1071.7L230.4 1070.0L231.1 1068.0L231.2 1062.0L232.0 1059.0L233.4 1057.0L237.9 1054.2L239.4 1052.8L245.4 1038.4L247.1 1033.5L247.9 1029.0L247.9 1026.0L247.5 1024.5L246.4 1023.0L242.6 1020.0L241.6 1018.5L240.4 1015.5L239.3 1011.0L235.4 1005.0L234.9 997.9L232.6 994.5L232.8 993.0L235.1 988.5L235.9 981.0L238.5 975.0L239.2 972.0L241.7 967.5L243.8 961.5L244.2 958.5L244.2 954.0L244.5 952.5L246.8 948.0L248.4 943.6L249.9 943.0L251.4 943.5L254.4 945.3L257.4 948.1L258.9 948.8L260.4 948.8L261.9 948.1L263.4 946.6L266.4 942.1L267.8 940.5L271.3 937.5L276.9 934.0L277.7 933.0L279.9 928.4L281.4 927.4L284.7 927.0L285.6 925.5L285.4 922.5L285.7 921.0L286.3 919.5L287.7 918.0L290.4 916.5L294.9 915.1L299.4 912.7L307.8 910.5L312.9 907.8L315.9 907.7L323.3 909.0L329.4 911.4L330.9 911.4L336.9 908.8L339.9 908.2L345.9 909.2L348.9 909.3L351.9 908.5ZM251.5 922.5L252.9 921.8L254.4 921.7L255.9 922.2L257.9 924.0L259.0 927.0L259.0 928.5L258.4 930.0L257.4 931.3L255.9 932.4L252.9 933.4L251.4 933.2L249.9 932.3L248.8 930.0L248.6 928.5L249.1 925.5L249.9 924.0ZM426.2 952.5L426.9 951.7L428.4 951.4L429.9 952.1L431.1 954.0L431.0 955.5L429.3 957.0L428.4 957.3L426.9 956.7L425.9 955.5L425.6 954.0ZM431.0 970.5L432.9 969.8L434.4 970.2L436.5 972.0L436.9 973.5L435.9 974.5L434.4 975.1L432.9 975.0L431.4 974.3L430.6 973.5L430.3 972.0ZM220.8 990.0L222.9 988.7L224.4 988.7L225.9 989.5L228.2 991.5L229.7 993.0L229.9 994.5L228.0 996.0L222.9 998.1L219.9 998.6L218.4 998.2L216.9 996.6L216.7 994.5L218.4 991.9ZM466.7 1003.5L467.4 1002.7L468.9 1003.0L469.3 1003.5L468.9 1004.8L467.4 1005.2ZM313.7 1092.0L314.4 1091.8L315.9 1092.3L317.2 1093.5L317.8 1095.0L317.8 1096.5L317.3 1098.0L315.9 1099.9L314.4 1100.8L312.9 1100.9L311.1 1099.5L310.6 1098.0L310.6 1096.5L311.4 1093.8L312.9 1092.2ZM344.2 1098.0L345.9 1097.6L346.4 1098.0L346.6 1099.5L345.9 1100.1L344.4 1099.8ZM473.2 837.0L476.4 835.8L480.9 835.5L483.9 835.7L486.9 837.0L488.5 838.5L489.6 840.0L490.4 843.0L489.8 846.0L488.1 849.0L485.4 851.8L480.9 855.2L473.1 862.5L468.9 867.0L461.1 874.5L459.9 876.4L458.4 880.0L456.2 889.5L454.6 894.0L452.2 898.5L446.9 904.5L443.4 906.4L426.9 910.7L423.9 911.0L422.4 910.7L420.9 909.9L419.4 908.4L417.9 906.0L415.3 900.0L414.0 894.0L413.7 888.0L415.4 880.5L417.0 876.0L420.5 868.5L423.4 864.0L426.9 860.4L429.9 858.4L432.9 857.1L440.6 855.0L449.4 851.7L455.4 848.2L460.1 846.0L467.4 840.5ZM357.2 907.5L359.4 907.2L366.9 910.2L378.9 912.7L381.9 912.2L387.9 908.1L390.9 907.2L392.4 907.3L402.9 911.1L404.3 912.0L405.4 913.5L405.5 915.0L403.7 921.0L402.3 924.0L398.4 929.7L398.1 931.5L398.7 933.0L400.1 934.5L408.1 939.0L409.0 940.5L408.5 942.0L405.2 946.5L404.5 949.5L405.0 952.5L406.7 957.0L407.2 960.0L406.5 967.5L407.4 975.0L407.6 979.5L406.5 988.5L405.1 994.5L405.4 997.5L406.9 1002.0L407.0 1005.0L406.0 1011.0L405.1 1014.0L402.3 1018.5L400.1 1023.0L398.4 1025.4L396.9 1026.7L392.4 1028.0L390.9 1028.8L389.4 1030.5L389.0 1032.0L388.9 1033.5L390.4 1038.0L390.4 1039.5L389.5 1041.0L387.9 1042.0L386.4 1042.3L381.9 1041.3L378.9 1041.5L377.4 1042.3L372.9 1045.8L366.9 1052.5L360.9 1056.5L355.4 1059.0L351.9 1061.3L345.9 1062.3L336.2 1065.0L337.3 1068.0L337.4 1069.5L336.9 1071.0L333.7 1077.0L332.1 1083.0L330.9 1085.9L329.4 1087.5L327.9 1088.2L326.4 1088.2L324.9 1087.3L320.6 1083.0L318.7 1080.0L316.2 1074.0L314.5 1072.5L311.4 1071.1L309.9 1070.8L307.3 1071.0L303.9 1072.2L302.4 1071.9L298.8 1069.5L294.9 1065.3L293.4 1064.5L291.9 1064.3L289.7 1065.0L282.9 1068.6L275.2 1071.0L270.9 1072.8L265.1 1077.0L258.9 1080.3L251.4 1085.9L249.9 1086.5L248.4 1086.5L243.9 1085.6L242.4 1086.0L240.9 1086.9L237.0 1090.5L234.9 1091.8L233.4 1092.2L228.9 1092.2L221.4 1095.4L214.3 1101.0L211.6 1102.5L207.9 1103.5L206.4 1103.5L204.1 1102.5L203.3 1101.0L203.4 1099.5L204.8 1096.5L207.9 1093.5L213.9 1090.5L215.4 1089.0L217.4 1081.5L218.4 1079.1L219.9 1077.1L221.4 1076.3L225.9 1075.4L228.9 1073.6L231.6 1071.0L232.5 1068.0L232.3 1063.5L232.7 1060.5L233.6 1059.0L234.9 1057.9L240.2 1056.0L241.9 1054.5L243.3 1047.0L249.2 1030.5L249.7 1027.5L249.5 1024.5L248.7 1023.0L243.9 1019.8L242.4 1018.1L241.3 1015.5L240.0 1009.5L237.4 1005.0L236.9 1002.0L237.6 997.5L237.5 996.0L236.4 993.0L236.4 991.5L236.8 988.5L236.5 984.0L237.0 981.0L239.4 976.8L243.9 972.0L244.2 970.5L243.9 966.0L245.3 960.0L245.9 954.0L248.4 948.9L249.9 947.1L251.4 946.5L252.9 946.9L257.4 950.2L258.9 950.9L260.4 951.1L261.9 950.6L263.4 949.3L267.1 943.5L269.4 940.9L272.4 938.3L276.7 936.0L278.4 934.7L281.4 931.0L282.9 930.5L287.4 930.4L288.2 930.0L288.9 928.8L289.0 927.0L287.8 922.5L287.8 921.0L288.8 919.5L290.4 918.5L294.9 917.3L300.9 914.0L306.9 912.7L312.9 909.4L314.4 909.0L317.4 909.1L323.4 910.3L327.9 913.0L329.4 913.5L330.9 913.4L332.4 912.9L336.9 910.4L339.9 909.5L348.9 910.3ZM251.2 924.0L252.9 923.0L254.4 922.8L255.9 923.4L257.4 925.2L257.9 927.0L257.8 928.5L256.9 930.0L255.9 930.9L254.4 931.7L252.9 931.9L251.4 931.5L250.1 930.0L249.7 928.5L249.7 927.0L250.2 925.5ZM427.3 952.5L428.4 952.2L429.9 953.2L430.4 954.0L430.4 955.5L428.4 956.7L426.9 956.2L426.3 955.5L426.1 954.0L426.9 952.6ZM220.3 991.5L222.9 990.2L224.4 990.4L226.0 991.5L226.9 993.0L226.8 994.5L225.4 996.0L222.9 997.2L221.4 997.6L219.6 997.5L218.4 996.8L217.9 996.0L217.8 994.5L218.6 993.0ZM351.3 1069.5L351.9 1068.5L353.4 1068.1L356.4 1068.9L360.9 1071.8L362.4 1073.5L363.3 1075.5L363.9 1080.0L363.4 1090.5L362.4 1092.7L360.9 1094.3L359.4 1095.2L357.9 1095.5L356.4 1095.0L354.8 1093.5L352.9 1090.5L351.0 1081.5L351.9 1075.5L351.2 1071.0ZM295.4 1077.0L297.9 1076.6L299.4 1076.8L300.9 1077.5L301.8 1078.5L301.9 1080.0L301.2 1081.5L299.4 1083.4L297.9 1084.1L296.4 1084.2L294.9 1083.5L293.4 1081.6L293.2 1080.0L293.7 1078.5ZM312.3 1095.0L312.9 1094.2L314.4 1093.7L316.1 1095.0L316.4 1096.5L315.9 1098.0L314.4 1099.5L312.9 1099.5L311.8 1098.0L311.7 1096.5ZM475.0 837.0L477.9 836.3L482.4 836.3L485.2 837.0L486.9 838.1L488.6 840.0L489.2 841.5L489.4 843.0L488.9 846.0L487.1 849.0L485.8 850.5L480.3 855.0L472.3 862.5L468.2 867.0L460.4 874.5L458.4 878.1L454.4 892.5L453.1 895.5L451.2 898.5L446.4 903.7L443.4 905.5L432.9 908.3L426.9 909.4L423.9 909.5L422.4 908.9L420.9 907.8L419.4 905.9L416.4 900.0L415.1 895.5L414.6 889.5L415.5 883.5L417.2 877.5L420.5 870.0L423.3 865.5L426.9 861.6L429.9 859.5L434.4 857.5L441.9 855.2L449.9 852.0L461.3 846.0L468.9 840.4ZM356.2 909.0L359.4 908.8L365.4 911.0L372.9 912.4L378.9 914.3L381.9 914.7L383.4 914.6L384.9 913.9L387.1 910.5L387.9 910.0L390.2 909.0L392.4 908.9L400.3 912.0L402.0 913.5L402.5 915.0L402.2 918.0L401.1 922.5L396.9 928.5L396.4 930.0L396.4 931.5L396.9 933.2L398.4 935.2L403.0 939.0L404.0 940.5L404.1 942.0L402.4 946.5L402.2 948.0L402.7 951.0L404.9 957.0L405.6 960.0L404.2 969.0L405.8 981.0L405.0 988.5L403.8 994.5L404.1 997.5L405.4 1002.0L405.4 1008.0L404.9 1011.0L403.4 1014.0L401.4 1015.8L399.0 1017.0L398.4 1018.1L398.2 1021.5L396.9 1024.0L395.4 1025.2L390.9 1027.3L389.0 1029.0L388.0 1030.5L387.6 1033.5L388.5 1038.0L388.1 1039.5L386.4 1040.5L380.4 1039.7L378.9 1039.9L377.4 1040.8L371.9 1045.5L365.5 1051.5L359.4 1055.2L341.4 1061.6L338.4 1062.0L333.9 1061.7L330.9 1061.8L327.6 1063.5L326.2 1065.0L325.7 1066.5L326.4 1068.0L327.9 1068.9L332.4 1070.2L332.9 1071.0L332.8 1072.5L330.3 1083.0L329.4 1084.7L327.9 1085.5L326.4 1085.3L324.9 1084.5L321.9 1081.5L320.2 1078.5L318.5 1072.5L317.4 1071.7L309.9 1069.2L308.4 1068.9L303.9 1069.3L302.4 1069.0L295.0 1063.5L291.9 1062.8L288.9 1063.5L284.4 1066.3L281.4 1067.6L273.9 1069.3L270.9 1070.6L260.4 1077.5L254.4 1082.1L251.4 1083.8L248.4 1084.0L243.9 1082.7L240.9 1083.0L239.4 1084.1L236.6 1087.5L234.9 1088.9L233.4 1089.2L230.4 1088.8L228.9 1089.0L219.9 1094.0L214.4 1099.5L210.9 1101.8L207.9 1102.7L206.4 1102.5L204.9 1101.5L204.4 1099.5L204.9 1098.0L206.4 1095.9L209.4 1093.8L214.5 1092.0L216.6 1090.5L217.2 1089.0L218.2 1083.0L219.9 1079.6L221.4 1078.4L225.9 1077.3L227.4 1076.6L232.8 1072.5L233.7 1071.0L234.1 1069.5L233.6 1063.5L233.8 1062.0L234.5 1060.5L236.4 1059.0L242.1 1057.5L243.8 1056.0L244.6 1053.0L244.7 1048.5L247.2 1039.5L248.9 1035.0L252.2 1029.0L252.8 1026.0L252.3 1021.5L251.4 1020.7L248.4 1020.5L245.4 1019.3L243.9 1018.2L242.4 1015.5L241.0 1008.0L239.2 1003.5L239.4 1001.0L240.8 997.5L241.0 996.0L238.0 984.0L238.4 981.0L240.6 978.0L242.4 976.6L248.1 973.5L249.4 972.0L249.5 970.5L246.8 967.5L246.2 966.0L246.1 964.5L247.2 955.5L248.3 952.5L249.3 951.0L251.4 949.4L252.9 949.4L258.9 953.0L260.4 953.2L261.9 952.9L263.4 952.2L264.9 950.6L267.0 946.5L269.1 943.5L273.9 939.1L278.4 937.1L282.9 933.9L284.4 933.7L288.9 934.5L290.4 934.1L291.5 933.0L292.0 931.5L292.0 924.0L292.3 922.5L293.8 921.0L299.4 917.9L308.4 914.3L314.4 910.5L317.4 910.4L321.9 911.5L327.1 915.0L329.4 915.6L332.4 914.9L336.9 912.3L339.9 911.1L341.4 910.9L348.9 911.5ZM251.9 925.5L252.9 924.6L254.4 924.4L255.9 925.4L256.4 927.0L255.9 928.8L254.4 930.0L252.8 930.0L251.3 928.5L251.2 927.0ZM426.7 954.0L428.4 953.0L429.6 954.0L429.5 955.5L428.4 956.1L426.9 955.5ZM220.5 993.0L221.4 992.4L222.9 992.1L224.5 993.0L224.5 994.5L222.7 996.0L221.4 996.3L219.9 996.0L219.4 994.5ZM356.1 1072.5L357.9 1072.6L359.4 1073.5L360.9 1075.1L362.0 1078.5L362.4 1081.4L362.5 1086.0L362.2 1089.0L360.9 1091.5L359.4 1092.5L357.9 1092.8L356.4 1092.2L354.9 1090.3L353.2 1083.0L353.3 1080.0L354.7 1074.0ZM479.0 837.0L483.9 837.4L485.4 838.1L486.9 839.4L488.1 841.5L488.4 843.0L487.8 846.0L486.0 849.0L484.6 850.5L479.4 854.9L471.9 862.1L459.6 874.5L458.4 876.5L457.4 879.0L454.7 889.5L453.6 892.5L452.2 895.5L450.2 898.5L445.7 903.0L441.9 905.1L434.4 907.0L428.4 908.0L425.4 908.1L422.4 907.0L419.4 903.6L416.8 898.5L415.7 894.0L415.5 889.5L417.0 880.5L418.5 876.0L421.3 870.0L423.9 866.1L426.9 862.9L431.4 859.8L434.4 858.5L440.5 856.5L450.9 852.2L461.4 846.6L467.4 842.3L473.4 838.6L476.4 837.4ZM352.6 912.0L356.4 910.7L357.9 910.6L363.1 912.0L371.4 913.1L380.4 916.3L384.9 917.1L387.0 916.5L388.2 915.0L389.7 912.0L390.9 911.2L392.4 911.0L395.8 912.0L398.4 913.5L399.3 915.0L399.4 918.0L399.1 921.0L398.4 922.7L395.4 927.0L394.7 930.0L395.4 933.5L400.1 940.5L400.3 942.0L399.1 946.5L399.4 948.0L402.9 957.0L403.7 960.0L403.4 963.0L401.8 967.5L401.5 970.5L403.5 982.5L403.2 988.5L402.2 996.0L404.0 1002.0L404.1 1008.0L403.4 1011.0L402.6 1012.5L401.4 1013.6L399.9 1014.2L396.9 1014.6L394.9 1015.5L394.1 1017.0L394.7 1021.5L394.0 1023.0L389.4 1026.7L387.2 1029.0L386.0 1032.0L385.8 1036.5L384.9 1037.7L383.4 1037.9L380.4 1037.6L378.9 1037.9L377.4 1038.7L373.8 1042.5L368.4 1047.0L359.4 1052.8L349.2 1056.0L339.9 1060.0L332.4 1060.0L329.4 1060.6L324.8 1063.5L321.0 1068.0L320.4 1068.6L318.9 1069.2L315.9 1069.3L308.4 1067.0L302.4 1066.2L294.9 1062.0L293.4 1061.6L290.4 1061.5L288.5 1062.0L281.4 1065.6L278.4 1066.1L273.9 1065.8L272.4 1066.4L268.9 1069.5L260.4 1074.7L254.4 1080.1L251.4 1081.7L248.4 1081.5L245.4 1080.3L242.4 1079.7L237.9 1079.9L233.4 1084.2L228.9 1085.8L222.9 1089.3L221.4 1089.6L220.2 1089.0L219.6 1087.5L219.5 1084.5L219.9 1082.8L221.4 1080.8L222.9 1080.0L227.4 1079.0L235.0 1074.0L236.2 1071.0L236.2 1069.5L235.4 1065.0L235.3 1063.5L235.8 1062.0L237.9 1060.4L243.3 1059.0L245.4 1056.8L246.5 1053.0L246.7 1048.5L247.8 1042.5L249.0 1038.0L251.4 1033.9L255.0 1030.5L256.1 1029.0L256.4 1027.5L255.6 1018.5L255.1 1017.0L254.4 1016.2L252.9 1016.2L249.9 1018.0L248.4 1018.5L245.4 1017.5L243.8 1015.5L243.0 1012.5L242.7 1008.0L242.0 1003.5L242.2 1002.0L244.4 997.5L244.7 994.5L243.8 990.0L243.2 988.5L240.9 985.5L240.1 984.0L239.9 982.5L240.9 980.3L243.5 978.0L248.4 975.7L254.4 973.6L255.6 972.0L256.2 969.0L255.9 967.2L254.4 966.1L251.4 965.8L249.9 965.2L248.5 963.0L248.3 960.0L248.6 957.0L249.9 953.8L251.4 952.4L252.9 952.3L258.9 955.1L261.9 955.1L264.9 953.9L266.5 952.5L269.4 946.1L272.4 943.1L275.4 940.8L282.9 937.7L288.9 937.2L292.5 936.0L293.9 934.5L294.5 933.0L294.6 927.0L294.9 925.4L296.4 923.0L297.9 921.9L302.4 920.0L314.4 912.9L317.4 912.4L320.4 913.2L324.9 916.6L327.9 917.7L330.9 917.3L339.9 913.0L342.9 912.7L348.9 913.1ZM322.9 1074.0L323.4 1073.2L324.9 1072.6L326.4 1073.1L327.9 1074.4L328.5 1075.5L328.6 1077.0L327.9 1080.9L326.4 1081.6L324.9 1080.9L323.4 1079.3L322.5 1077.0L322.4 1075.5ZM356.7 1080.0L357.9 1079.1L359.4 1080.5L360.1 1084.5L359.4 1087.5L357.9 1087.5L356.4 1084.9L356.1 1081.5ZM209.9 1095.0L212.4 1094.5L214.2 1095.0L214.4 1096.5L213.6 1098.0L212.3 1099.5L209.9 1101.0L207.9 1101.4L206.5 1101.0L205.8 1099.5L206.2 1098.0L207.9 1096.1ZM475.7 838.5L477.9 837.9L480.9 837.8L483.9 838.5L485.4 839.4L486.9 841.5L487.2 843.0L486.7 846.0L485.4 848.2L483.4 850.5L471.9 861.2L458.8 874.5L456.9 878.3L453.4 891.0L452.1 894.0L450.3 897.0L444.9 902.5L443.4 903.4L440.4 904.6L432.9 906.3L428.4 906.7L425.4 906.5L422.4 905.0L420.4 903.0L417.8 898.5L416.6 894.0L416.4 889.5L417.2 883.5L418.7 877.5L421.3 871.5L423.9 867.5L426.9 864.2L431.4 861.0L435.9 858.8L442.5 856.5L450.9 852.8L461.3 847.5L468.9 842.3ZM353.5 913.5L356.4 912.9L371.4 914.2L380.4 917.8L386.4 919.5L387.9 919.5L389.4 918.8L392.4 915.5L393.9 915.3L395.4 916.6L395.9 919.5L395.6 921.0L393.4 925.5L393.2 930.0L393.9 933.3L396.3 939.0L396.6 940.5L396.5 946.5L399.3 952.5L401.3 960.0L400.8 963.0L399.2 967.5L398.8 970.5L400.5 982.5L400.6 990.0L399.6 996.0L400.0 997.5L401.8 1000.5L402.7 1003.5L402.6 1008.0L401.4 1011.0L399.9 1012.1L395.4 1012.8L393.4 1014.0L392.4 1015.5L391.5 1021.5L390.7 1023.0L384.7 1029.0L382.2 1033.5L377.4 1035.8L373.6 1041.0L369.9 1044.4L366.9 1046.3L357.9 1050.7L347.5 1054.5L341.4 1057.6L338.4 1058.5L332.4 1058.4L329.4 1059.0L324.1 1062.0L318.9 1066.4L315.9 1067.3L314.4 1067.2L308.4 1065.2L302.4 1064.1L296.4 1061.3L293.4 1060.4L290.4 1060.2L287.9 1060.5L282.9 1062.4L279.9 1063.0L275.4 1061.7L273.9 1061.7L272.4 1062.1L270.9 1063.4L267.6 1068.0L264.9 1069.7L258.1 1072.5L254.3 1077.0L252.9 1078.3L251.4 1078.9L249.9 1079.0L248.4 1078.6L240.2 1075.5L239.3 1074.0L239.4 1069.5L238.0 1065.0L238.2 1063.5L239.4 1062.5L243.9 1061.2L245.4 1060.0L246.0 1059.0L247.4 1056.0L248.2 1053.0L249.3 1042.5L250.0 1039.5L251.6 1036.5L257.4 1031.3L258.6 1029.0L259.0 1027.5L258.4 1021.5L258.3 1015.5L257.4 1013.0L255.9 1011.9L254.4 1011.7L252.9 1012.0L248.4 1016.1L246.3 1015.5L245.4 1014.5L244.8 1012.5L245.1 1003.5L246.2 1000.5L248.4 997.5L249.9 996.9L254.4 996.3L255.9 995.3L257.2 993.0L257.6 991.5L257.8 990.0L257.2 988.5L255.9 988.0L248.4 987.4L245.4 985.8L243.9 984.5L242.9 982.5L243.3 981.0L245.4 979.1L249.9 977.1L255.9 976.3L257.4 975.1L258.1 973.5L259.5 966.0L258.9 962.2L257.4 961.1L254.4 961.7L252.3 961.5L251.2 960.0L251.0 958.5L251.4 957.0L252.9 956.0L254.4 956.2L257.4 958.2L258.9 958.5L266.4 955.5L268.5 954.0L269.4 952.7L270.9 948.8L272.4 946.7L276.9 943.2L281.4 941.0L290.4 939.0L294.1 937.5L295.8 936.0L296.7 934.5L297.1 933.0L297.6 927.0L298.4 925.5L306.9 919.3L312.9 916.2L315.9 915.3L317.4 915.3L318.9 915.9L323.4 919.2L324.9 919.6L327.9 919.7L330.9 919.0L336.9 916.1L339.9 915.0L342.9 914.8L347.4 915.4ZM474.5 840.0L476.4 839.2L479.4 838.8L482.4 839.2L483.9 839.9L485.4 841.5L485.9 843.0L485.4 846.0L483.5 849.0L470.4 861.7L465.5 867.0L460.6 871.5L458.0 874.5L456.5 877.5L453.2 889.5L451.2 894.0L449.2 897.0L446.4 899.9L443.4 902.3L438.9 904.0L432.9 905.3L428.4 905.5L425.4 905.0L422.4 903.2L419.8 900.0L418.3 897.0L417.5 894.0L417.3 889.5L419.1 879.0L421.4 873.0L424.2 868.5L428.4 864.2L432.9 861.3L447.9 855.0L460.0 849.0ZM351.5 916.5L353.4 915.6L356.4 915.1L360.9 915.3L368.4 915.0L371.4 915.4L387.9 922.5L389.8 924.0L390.6 925.5L394.2 939.0L394.4 946.5L397.3 952.5L397.9 955.5L397.8 958.5L396.9 963.0L396.3 970.5L397.1 981.0L396.4 985.5L396.6 991.5L396.0 996.0L396.6 997.5L399.9 1001.1L400.9 1003.5L401.0 1006.5L399.9 1009.3L398.4 1010.2L393.9 1011.5L392.4 1012.6L390.8 1015.5L389.4 1020.4L387.9 1023.0L377.4 1032.1L375.9 1033.9L372.9 1039.5L369.9 1042.8L366.9 1044.5L359.9 1047.0L341.4 1055.7L336.9 1056.9L332.4 1056.7L329.4 1057.1L323.4 1060.4L318.9 1064.1L315.9 1065.3L314.4 1065.2L308.4 1063.4L302.4 1062.1L296.4 1059.9L293.4 1059.2L282.9 1058.8L278.4 1057.5L275.3 1057.5L270.9 1058.9L269.4 1060.2L266.8 1065.0L264.9 1067.1L261.9 1068.3L255.9 1069.6L253.9 1071.0L251.4 1073.5L249.9 1073.9L248.4 1073.1L247.1 1071.0L245.9 1066.5L246.0 1065.0L249.9 1053.0L251.4 1041.0L252.9 1037.8L258.1 1033.5L259.3 1032.0L260.7 1029.0L261.1 1026.0L260.7 1020.0L261.1 1014.0L260.4 1010.8L258.9 1009.1L257.4 1008.2L254.4 1007.3L249.9 1006.7L248.8 1005.0L248.7 1003.5L249.9 1001.6L255.9 999.5L257.4 998.1L258.9 995.5L260.4 991.7L261.2 988.5L260.4 985.9L258.9 984.6L257.4 984.1L252.9 984.5L249.9 984.3L248.4 983.7L247.3 982.5L247.6 981.0L249.9 979.6L252.9 979.4L255.9 979.7L257.4 979.4L258.9 978.4L260.4 975.0L262.2 961.5L262.9 960.0L264.6 958.5L270.7 955.5L272.5 954.0L276.9 949.4L278.9 946.5L281.4 944.2L284.4 942.8L293.4 939.8L297.3 937.5L299.3 934.5L300.6 928.5L301.3 927.0L305.4 922.8L308.4 920.4L311.4 919.0L314.4 918.5L315.9 918.6L320.4 921.2L321.9 921.7L324.9 921.8L330.9 920.6L336.9 917.9L339.9 917.0L342.9 917.1L347.4 918.3L348.9 918.0ZM478.3 840.0L480.9 840.1L483.4 841.5L484.3 843.0L484.3 844.5L483.9 846.0L482.0 849.0L470.4 860.6L464.5 867.0L459.5 871.5L457.1 874.5L455.4 878.4L453.4 886.5L451.8 891.0L450.3 894.0L447.9 897.2L444.9 900.0L441.9 901.9L438.9 903.0L434.4 904.0L429.9 904.4L426.9 904.0L423.9 902.7L422.5 901.5L420.2 898.5L418.9 895.5L418.3 892.5L418.3 888.0L419.2 882.0L420.4 877.5L423.1 871.5L425.4 868.4L429.9 864.3L434.4 861.6L449.7 855.0L461.8 849.0L474.9 841.0ZM365.8 916.5L369.9 916.4L372.9 917.1L383.4 922.0L386.4 923.9L388.2 925.5L389.4 927.4L390.5 930.0L392.3 937.5L392.3 946.5L395.2 952.5L395.6 954.0L395.2 957.0L393.6 961.5L394.2 967.5L394.2 978.0L394.0 981.0L392.8 987.0L392.9 994.5L393.5 997.5L394.4 999.0L397.5 1002.0L398.5 1003.5L398.8 1005.0L398.4 1006.7L397.0 1008.0L393.9 1009.1L391.6 1011.0L389.8 1014.0L387.9 1019.1L386.4 1021.4L375.9 1030.4L374.4 1032.6L372.1 1038.0L369.9 1041.0L366.9 1042.8L359.4 1044.5L356.4 1045.5L349.4 1050.0L341.4 1053.7L336.9 1054.9L330.9 1054.7L327.9 1055.2L323.4 1057.8L317.4 1062.5L314.4 1063.1L296.4 1058.5L285.9 1056.9L278.4 1054.6L275.4 1054.7L270.9 1055.6L267.9 1057.3L266.5 1059.0L263.7 1063.5L261.9 1064.9L258.9 1065.5L254.4 1065.5L252.9 1065.1L251.4 1064.2L250.2 1062.0L250.1 1059.0L252.0 1051.5L253.5 1041.0L254.3 1039.5L255.6 1038.0L258.9 1035.4L260.7 1033.5L261.9 1031.2L262.8 1027.5L263.1 1024.5L262.8 1018.5L263.7 1011.0L263.0 1008.0L260.3 1003.5L259.7 1002.0L259.7 1000.5L260.8 996.0L263.5 988.5L263.4 986.0L262.1 981.0L263.9 964.5L264.9 961.4L266.3 960.0L267.9 959.2L275.8 957.0L278.4 955.7L280.0 954.0L282.6 948.0L283.8 946.5L285.8 945.0L294.9 941.1L298.4 939.0L301.1 936.0L302.8 930.0L304.3 927.0L306.9 924.0L309.9 921.9L312.9 921.3L314.4 921.4L320.4 923.6L323.4 923.7L329.4 922.5L336.9 919.7L339.9 919.0L342.9 919.4L347.4 921.6L348.9 922.0L350.4 921.6L353.4 918.5L354.9 917.7ZM477.7 841.5L479.6 841.5L480.9 842.0L482.0 843.0L482.4 844.5L481.4 847.5L464.9 865.5L458.4 871.5L456.9 873.3L455.4 876.0L453.1 885.0L451.5 889.5L449.2 894.0L446.9 897.0L444.9 898.8L441.9 900.7L438.9 902.0L435.9 902.7L431.4 903.2L428.4 903.0L425.4 902.0L423.9 901.0L421.6 898.5L420.1 895.5L419.4 892.5L419.3 888.0L420.0 882.0L421.8 876.0L424.1 871.5L426.6 868.5L431.4 864.6L435.9 862.0L450.9 855.4L463.7 849.0L474.9 842.4ZM366.5 918.0L369.9 917.8L372.9 918.5L384.0 924.0L386.4 925.9L388.4 928.5L389.7 931.5L390.4 934.5L390.8 939.0L390.1 946.5L390.5 948.0L392.8 952.5L393.1 954.0L393.0 955.5L391.5 960.0L391.5 963.0L392.3 969.0L392.2 973.5L391.8 979.5L390.3 987.0L390.2 990.0L390.9 997.0L392.9 1003.5L392.8 1005.0L390.9 1007.8L387.0 1017.0L385.0 1020.0L374.7 1029.0L372.9 1031.9L370.4 1038.0L368.4 1040.2L366.9 1041.0L363.9 1041.6L356.4 1041.6L354.9 1042.0L353.4 1043.2L350.3 1047.0L348.5 1048.5L344.4 1050.7L341.4 1051.8L336.9 1052.7L329.4 1052.2L325.1 1053.0L321.9 1054.5L317.6 1059.0L315.9 1060.1L312.9 1060.4L300.9 1057.6L290.4 1056.3L285.9 1055.2L279.9 1053.0L275.4 1052.6L270.9 1052.9L267.9 1054.1L261.9 1060.2L260.4 1061.1L257.4 1061.8L254.4 1061.3L252.9 1059.6L252.7 1057.5L255.5 1042.5L256.1 1041.0L257.3 1039.5L260.4 1036.8L262.0 1035.0L263.5 1032.0L264.6 1027.5L264.6 1018.5L265.8 1012.5L266.0 1009.5L265.1 1006.5L262.8 1002.0L262.3 999.0L262.8 996.0L265.5 988.5L265.6 985.5L264.9 981.0L265.0 978.0L266.4 965.0L267.3 963.0L269.4 961.5L276.9 960.4L279.9 958.5L282.9 955.2L286.1 949.5L287.4 947.8L289.0 946.5L299.3 940.5L302.6 937.5L303.9 935.1L306.0 928.5L308.4 925.7L309.9 924.8L312.9 924.2L318.9 925.5L323.4 925.4L332.4 923.2L338.4 921.1L339.9 921.0L342.9 921.7L348.9 925.4L351.9 925.6L354.1 924.0L356.4 920.7L359.4 919.6ZM474.7 844.5L477.9 843.8L479.4 844.4L479.6 846.0L479.1 847.5L476.8 850.5L465.1 864.0L458.4 870.3L456.1 873.0L454.1 877.5L452.6 883.5L450.6 889.5L448.2 894.0L446.4 896.1L443.4 898.6L440.4 900.2L434.4 901.9L431.4 902.1L428.4 901.7L425.4 900.4L423.9 899.2L422.2 897.0L420.9 894.0L420.3 891.0L420.3 886.5L421.3 880.5L422.8 876.0L424.2 873.0L426.9 869.5L431.4 865.8L435.9 863.2L446.4 858.7L456.9 853.3L464.4 849.9ZM368.8 919.5L371.4 919.6L372.9 920.0L381.9 924.4L384.9 926.6L386.4 928.1L388.3 931.5L389.1 934.5L389.3 937.5L387.6 946.5L388.4 949.5L389.9 952.5L390.2 954.0L389.4 960.0L390.6 970.5L390.2 976.5L387.8 988.5L388.7 999.0L387.7 1009.5L387.0 1012.5L385.8 1015.5L383.9 1018.5L375.2 1026.0L372.9 1028.6L369.9 1035.4L368.4 1037.8L366.9 1038.9L363.9 1039.5L360.9 1039.0L356.4 1037.5L354.9 1037.5L353.4 1037.9L351.7 1039.5L348.6 1045.5L347.2 1047.0L344.4 1048.8L341.4 1049.9L338.4 1050.4L335.4 1050.6L327.9 1050.2L320.4 1051.1L318.9 1051.5L317.1 1053.0L314.5 1056.0L312.9 1056.9L309.9 1057.1L302.4 1055.4L291.9 1055.2L287.4 1054.1L279.9 1051.4L270.9 1050.5L269.4 1050.6L267.2 1051.5L261.9 1056.5L260.4 1057.5L258.9 1057.9L257.2 1057.5L256.2 1056.0L256.1 1054.5L256.6 1048.5L257.4 1044.4L258.9 1041.6L261.9 1038.5L263.4 1036.5L264.9 1033.4L266.1 1029.0L266.4 1026.0L266.3 1018.5L267.7 1012.5L267.9 1009.5L267.1 1006.5L264.6 1000.5L264.4 997.5L265.2 994.5L267.1 990.0L267.9 987.0L267.1 979.5L267.4 976.5L268.3 973.5L270.9 968.6L272.4 967.4L275.4 966.2L278.4 964.0L284.4 957.8L292.9 948.0L304.0 939.0L306.1 936.0L308.3 930.0L309.9 928.4L312.9 927.5L318.9 927.6L323.4 927.0L338.4 923.4L339.9 923.3L342.9 924.2L347.3 927.0L348.9 927.6L351.9 928.1L353.4 927.9L355.8 927.0L360.9 922.5L362.4 921.7L365.4 920.3ZM470.6 849.0L473.4 848.8L473.7 849.0L473.6 850.5L471.7 853.5L463.8 864.0L457.3 870.0L455.4 872.3L453.7 876.0L451.8 883.5L450.2 888.0L448.8 891.0L446.4 894.7L444.9 896.2L441.9 898.3L438.9 899.7L435.9 900.5L432.9 900.8L429.9 900.6L426.9 899.6L425.3 898.5L423.9 897.0L422.3 894.0L421.5 891.0L421.3 886.5L421.9 882.0L423.1 877.5L424.4 874.5L426.9 871.0L429.9 868.2L435.9 864.5L446.4 860.0L456.9 854.5ZM367.4 922.5L369.9 921.7L371.4 921.7L374.4 922.5L377.4 923.8L380.4 925.3L383.4 927.3L384.9 928.7L386.8 931.5L387.7 934.5L387.5 939.0L386.4 941.5L384.6 943.5L383.7 945.0L383.3 948.0L383.8 951.0L385.5 955.5L386.4 960.0L388.1 964.5L388.8 970.5L387.9 977.5L382.0 991.5L382.5 993.0L384.9 994.5L385.7 996.0L385.9 997.5L385.2 1003.5L385.2 1009.5L384.7 1012.5L383.5 1015.5L381.9 1017.7L374.4 1024.4L371.7 1027.5L367.9 1035.0L366.3 1036.5L365.4 1036.9L363.9 1037.0L355.7 1033.5L354.9 1033.2L353.4 1033.4L351.9 1034.1L350.4 1035.5L348.8 1038.0L348.0 1041.0L346.7 1044.0L345.6 1045.5L342.9 1047.3L339.9 1048.1L336.9 1048.5L318.9 1048.6L315.9 1049.9L311.4 1053.2L309.9 1053.6L302.4 1052.5L294.9 1053.8L291.9 1053.7L288.9 1053.0L280.4 1050.0L273.9 1049.0L267.9 1047.5L266.4 1047.5L264.9 1048.6L261.9 1051.7L260.4 1051.9L259.6 1050.0L259.9 1047.0L260.4 1045.6L263.4 1041.9L266.4 1034.3L267.9 1029.0L268.2 1026.0L268.0 1018.5L270.3 1011.0L270.2 1009.5L266.9 1002.0L266.3 999.0L266.4 997.5L267.2 994.5L270.4 988.5L270.7 987.0L269.6 981.0L269.6 978.0L270.7 975.0L271.9 973.5L273.9 971.9L276.9 970.5L279.9 970.8L281.4 970.0L282.2 969.0L284.4 964.2L288.9 959.3L290.4 958.3L294.9 957.1L296.4 955.9L297.4 954.0L297.7 952.5L297.7 948.0L300.2 945.0L306.8 939.0L311.0 933.0L312.9 931.7L318.0 930.0L327.9 927.5L338.4 925.9L341.4 926.1L348.9 929.4L351.9 930.0L353.4 929.9L357.9 928.7L361.4 927.0ZM459.3 855.0L462.9 854.0L465.9 853.9L466.9 855.0L466.7 856.5L465.4 859.5L463.5 862.5L461.4 864.8L456.9 868.6L454.6 871.5L452.7 876.0L449.8 886.5L448.5 889.5L446.4 893.0L443.4 896.0L440.4 897.8L437.4 898.9L434.4 899.5L431.4 899.5L428.4 898.7L426.9 897.8L425.4 896.4L423.8 894.0L422.8 891.0L422.4 888.0L422.6 883.5L423.2 880.5L424.8 876.0L426.6 873.0L429.9 869.6L434.4 866.7L438.9 864.5L447.6 861.0L455.4 856.7ZM370.8 925.5L372.9 925.1L374.4 925.3L380.4 927.4L383.8 930.0L385.7 933.0L386.2 936.0L386.0 937.5L384.9 939.3L380.8 943.5L380.1 945.0L379.7 948.0L380.5 954.0L382.8 961.5L385.2 967.5L385.5 970.5L384.9 972.6L382.6 976.5L381.9 982.5L380.8 985.5L378.9 988.1L373.8 993.0L371.4 996.0L369.9 1000.5L369.9 1002.0L370.6 1005.0L371.4 1006.8L372.9 1007.9L374.4 1007.9L377.4 1005.6L378.9 1004.9L380.4 1005.2L381.7 1006.5L381.8 1011.0L381.2 1014.0L379.4 1017.0L370.5 1026.0L366.9 1031.9L365.4 1033.2L363.9 1033.3L359.4 1031.0L357.9 1029.7L356.4 1029.2L353.4 1029.8L350.4 1031.8L348.8 1033.5L347.0 1036.5L344.8 1042.5L343.8 1044.0L341.4 1045.6L338.4 1046.3L333.9 1046.4L324.9 1045.9L318.9 1044.5L317.4 1044.5L313.7 1045.5L312.3 1047.0L312.0 1048.5L309.9 1049.7L308.4 1049.7L303.9 1048.7L302.4 1049.0L296.4 1051.4L293.4 1051.9L290.4 1051.6L281.4 1048.8L273.9 1047.3L270.9 1046.0L269.4 1045.0L267.4 1042.5L266.9 1039.5L267.5 1036.5L269.4 1030.7L271.8 1026.0L272.0 1024.5L271.0 1020.0L271.2 1018.5L273.1 1014.0L273.8 1011.0L273.6 1009.5L272.9 1008.0L269.3 1003.5L268.2 1000.5L268.1 999.0L268.6 996.0L269.4 994.3L273.9 991.1L275.7 988.5L276.0 985.5L275.4 984.0L272.3 979.5L272.7 978.0L273.7 976.5L273.9 976.2L275.4 976.2L279.9 977.4L281.4 977.5L282.9 977.1L285.8 975.0L288.9 971.7L293.4 969.0L295.2 963.0L299.4 957.1L302.4 950.3L304.6 946.5L315.0 934.5L318.9 932.0L321.9 930.7L327.9 929.2L339.9 928.4L344.4 929.4L348.1 931.5L350.4 932.3L354.9 932.5L359.4 931.3L365.7 928.5ZM456.6 858.0L459.9 856.9L461.4 856.9L462.9 857.7L463.0 859.5L461.4 862.6L455.4 867.7L453.9 869.8L452.0 874.5L449.2 885.0L447.3 889.5L445.3 892.5L441.9 895.5L437.4 897.6L432.9 898.2L429.9 897.6L428.4 896.8L426.8 895.5L425.4 893.5L424.3 891.0L423.7 888.0L423.6 885.0L424.3 880.5L425.3 877.5L426.9 874.4L429.9 871.1L434.4 868.1L438.9 866.0L449.4 862.2ZM373.2 930.0L375.9 929.3L377.4 929.2L380.4 930.1L381.9 931.1L383.5 933.0L384.0 934.5L383.8 936.0L381.9 938.0L378.9 939.4L377.4 939.6L375.9 938.9L373.5 936.0L373.0 934.5L372.5 931.5ZM325.4 931.5L329.4 930.9L332.4 931.0L338.4 932.4L342.9 932.9L351.9 935.4L360.9 935.7L363.9 936.6L365.3 937.5L365.9 939.0L366.2 943.5L366.9 945.4L368.4 947.4L374.4 952.2L375.9 954.3L378.0 958.5L379.5 964.5L379.4 967.5L377.4 975.0L378.1 982.5L376.9 985.5L371.4 990.3L368.4 994.5L366.9 999.0L366.7 1002.0L366.9 1006.5L368.4 1011.2L369.9 1013.0L371.4 1013.7L375.9 1014.5L376.1 1015.5L375.4 1017.0L373.2 1020.0L365.4 1027.6L363.9 1028.2L362.7 1027.5L361.2 1024.5L359.4 1023.3L357.9 1023.3L356.4 1023.9L351.9 1026.7L348.9 1029.3L347.4 1031.3L342.1 1041.0L340.3 1042.5L338.4 1043.2L333.9 1043.3L327.9 1042.6L324.9 1041.5L321.9 1039.5L320.4 1039.3L314.4 1039.8L308.4 1037.9L306.9 1037.8L305.2 1038.0L302.4 1039.6L297.3 1044.0L296.0 1045.5L294.7 1048.5L293.4 1049.0L290.4 1049.0L284.0 1047.0L276.9 1046.3L273.9 1045.5L271.4 1044.0L270.1 1042.5L269.4 1041.0L269.1 1038.0L269.4 1036.5L270.9 1033.7L276.9 1027.5L278.1 1024.5L278.1 1023.0L276.8 1017.0L277.2 1012.5L277.1 1009.5L275.5 1006.5L271.2 1002.0L270.5 1000.5L270.3 999.0L270.9 997.5L276.9 992.2L278.5 990.0L281.8 984.0L287.4 978.8L290.4 976.7L296.4 975.1L298.5 973.5L299.7 972.0L300.2 970.5L300.2 969.0L299.1 964.5L299.3 963.0L300.3 960.0L303.9 953.4L309.9 945.1L315.9 939.7L319.9 934.5L321.7 933.0ZM446.3 865.5L450.9 865.4L452.1 867.0L451.7 870.0L449.0 882.0L446.4 888.5L443.4 892.7L441.8 894.0L438.9 895.7L434.4 896.7L431.4 896.3L429.9 895.7L428.4 894.5L426.8 892.5L425.1 888.0L424.9 885.0L425.2 882.0L426.0 879.0L427.3 876.0L429.9 872.7L434.4 869.6L440.4 867.1ZM327.1 934.5L329.4 934.4L332.4 935.3L336.9 938.4L339.9 939.7L342.9 940.0L347.4 939.4L351.9 940.8L357.9 941.4L359.4 941.8L360.9 942.8L366.3 949.5L372.0 955.5L375.0 960.0L376.0 963.0L376.1 966.0L374.2 973.5L373.8 982.5L373.1 984.0L368.4 990.0L366.9 992.7L365.4 996.5L364.6 1000.5L364.5 1003.5L365.0 1012.5L364.8 1014.0L364.1 1015.5L362.4 1016.6L356.4 1019.2L347.6 1026.0L345.4 1029.0L342.1 1036.5L339.9 1038.9L338.4 1039.7L335.4 1040.0L330.9 1039.1L329.0 1038.0L325.2 1035.0L323.4 1034.2L320.4 1034.3L315.9 1035.6L314.4 1035.8L308.4 1034.6L305.4 1034.6L302.4 1035.4L296.4 1039.7L291.9 1041.6L278.4 1043.7L275.4 1043.5L273.9 1043.0L272.4 1041.8L272.0 1041.0L271.5 1039.5L271.8 1038.0L273.9 1035.0L279.0 1030.5L280.6 1027.5L281.1 1024.5L280.4 1017.0L280.5 1009.5L279.3 1006.5L275.4 1002.0L274.5 1000.5L274.5 999.0L284.4 986.2L287.8 982.5L290.4 980.4L297.9 976.9L300.9 974.1L302.3 972.0L303.3 969.0L303.2 967.5L302.4 964.5L302.5 961.5L303.5 958.5L305.3 955.5L311.4 947.9L312.9 946.3L318.2 942.0L321.9 937.2L323.4 935.9L324.9 935.1ZM442.5 868.5L446.4 868.1L447.9 868.7L448.9 870.0L449.2 873.0L448.6 877.5L447.7 882.0L446.6 885.0L443.4 890.5L440.4 893.2L438.9 894.0L435.9 894.9L432.9 894.8L431.4 894.3L429.9 893.3L428.0 891.0L426.9 888.6L426.4 886.5L426.6 882.0L428.1 877.5L430.2 874.5L432.9 872.2L437.4 870.1ZM323.2 943.5L324.9 942.3L326.4 942.2L328.6 946.5L329.4 947.1L330.9 947.3L333.9 946.6L336.9 945.3L338.4 945.2L345.9 946.8L348.9 946.6L354.9 945.2L357.9 945.3L359.4 945.8L360.9 946.9L369.8 957.0L371.9 960.0L373.0 963.0L373.1 966.0L371.9 972.0L371.0 981.0L369.8 984.0L365.4 991.3L363.9 995.2L362.5 1002.0L361.4 1011.0L360.5 1012.5L359.4 1013.6L350.4 1020.5L343.7 1024.5L342.5 1026.0L341.9 1027.5L340.2 1033.5L338.4 1035.5L336.9 1036.0L333.9 1035.5L327.9 1031.2L326.4 1030.7L323.4 1030.4L314.4 1032.7L308.4 1032.1L305.4 1032.1L300.4 1033.5L293.4 1036.6L283.9 1038.0L280.9 1038.0L280.2 1036.5L282.9 1032.0L283.6 1029.0L283.3 1018.5L284.1 1011.0L283.3 1006.5L279.4 1000.5L279.2 999.0L279.6 997.5L284.4 990.5L288.9 985.5L291.9 982.8L297.9 979.6L302.4 975.2L304.7 972.0L306.0 969.0L306.3 966.0L305.5 961.5L306.9 957.9L314.4 948.9L315.9 947.7ZM440.9 871.5L443.4 871.2L444.9 871.5L446.4 873.1L446.8 876.0L446.6 879.0L445.5 883.5L443.4 887.5L440.4 891.0L437.8 892.5L435.9 893.0L432.9 892.7L431.4 891.8L429.9 890.2L428.3 886.5L428.1 883.5L429.3 879.0L431.2 876.0L432.9 874.4L435.9 872.9ZM354.9 948.0L357.9 948.3L359.4 949.1L360.9 950.5L367.6 958.5L369.2 961.5L369.9 964.5L369.3 976.5L368.5 981.0L367.3 984.0L363.1 991.5L359.9 1003.5L357.9 1007.8L355.8 1011.0L349.8 1017.0L341.4 1021.4L335.4 1025.9L333.9 1026.6L332.4 1026.8L324.9 1025.9L321.9 1026.8L315.9 1029.6L312.9 1029.9L308.4 1029.4L305.4 1029.6L294.9 1032.6L291.9 1032.5L288.9 1031.1L287.4 1029.4L286.5 1027.5L285.6 1023.0L285.7 1018.5L286.9 1009.5L286.4 1005.0L284.5 999.0L284.8 996.0L287.3 991.5L290.4 987.9L299.4 981.6L309.9 969.1L311.4 967.8L314.4 966.3L315.9 965.2L316.9 963.0L316.9 961.5L315.9 957.0L315.9 955.5L316.0 954.0L316.8 952.5L318.9 951.0L320.4 951.0L326.4 952.2L329.4 952.4L332.4 951.7L336.9 949.8L338.4 949.5L339.9 949.5L344.4 950.8L347.4 950.8ZM435.6 876.0L438.9 875.2L441.9 875.5L443.4 876.9L444.0 879.0L443.4 882.8L441.4 886.5L438.9 889.1L437.4 890.0L435.9 890.4L434.4 890.2L432.9 889.5L431.4 887.7L430.6 885.0L430.8 882.0L431.4 880.2L432.9 877.9ZM351.5 952.5L354.9 951.2L356.4 951.2L357.9 951.7L359.4 952.8L362.1 955.5L364.2 958.5L365.7 963.0L366.9 975.0L366.6 979.5L364.9 984.0L360.6 991.5L358.8 999.0L357.4 1002.0L356.4 1003.2L350.6 1008.0L345.4 1014.0L341.3 1017.0L336.9 1019.1L323.4 1021.3L320.4 1022.8L315.9 1026.0L314.4 1026.5L306.9 1026.6L296.4 1029.6L293.4 1029.5L290.4 1027.9L289.0 1026.0L288.4 1024.5L288.0 1021.5L289.5 1012.5L289.9 1008.0L288.8 997.5L289.2 996.0L290.4 993.8L291.9 992.3L296.4 989.2L299.4 986.4L305.4 978.3L308.4 975.1L311.4 973.0L317.4 970.8L318.9 969.6L321.0 966.0L322.9 960.0L324.2 958.5L326.4 957.6L330.9 956.8L338.4 953.7L345.9 954.5L348.9 953.8ZM352.7 955.5L354.9 954.8L356.4 954.9L357.9 955.6L359.4 956.8L360.7 958.5L361.8 961.5L362.2 969.0L364.0 976.5L363.9 979.2L363.4 981.0L362.4 983.2L357.8 990.0L356.4 996.4L355.2 999.0L353.4 1000.5L348.3 1003.5L338.5 1012.5L335.4 1014.3L320.4 1018.1L315.9 1021.6L312.9 1023.2L305.4 1024.3L297.9 1026.7L294.9 1026.6L293.4 1025.9L291.9 1024.3L291.1 1021.5L292.7 1011.0L293.5 1000.5L294.0 999.0L294.9 997.5L299.4 993.7L301.4 991.5L308.4 980.7L311.4 977.9L318.9 974.6L320.7 973.5L323.3 970.5L326.4 965.3L327.9 964.1L332.4 962.4L338.4 958.5L339.9 958.1L344.4 958.2L347.4 957.9ZM351.5 960.0L354.9 959.1L357.1 960.0L358.1 961.5L358.7 970.5L359.6 976.5L359.4 979.5L358.8 981.0L354.2 987.0L349.4 994.5L344.3 1000.5L336.6 1008.0L332.3 1011.0L327.9 1012.7L321.5 1014.0L318.9 1014.9L312.9 1019.4L311.4 1020.1L299.4 1023.2L297.9 1023.3L296.4 1022.9L295.2 1021.5L294.9 1018.5L296.5 1009.5L298.1 1003.5L299.8 1000.5L302.2 997.5L310.4 988.5L314.4 982.4L317.4 979.7L324.9 975.6L329.4 971.3L339.9 963.4L341.4 962.8L347.4 961.7Z" fill="none" stroke="#000" stroke-width="1.3" stroke-linejoin="round"/>
<rect x="167.4" y="802.5" width="348.3" height="349.4" fill="none" stroke="#000" stroke-width="2"/>
<path d="M515.4 1151.9v4.8M490.5 1151.9v4.8M167.4 828.0h-4.5M465.6 1151.9v4.8M167.4 852.9h-4.5M440.7 1151.9v12.6M167.4 877.8h-12.5M415.8 1151.9v4.8M167.4 902.7h-4.5M390.9 1151.9v4.8M167.4 927.6h-4.5M366.0 1151.9v4.8M167.4 952.5h-4.5M341.1 1151.9v4.8M167.4 977.4h-4.5M316.2 1151.9v12.6M167.4 1002.3h-12.5M291.3 1151.9v4.8M167.4 1027.2h-4.5M266.4 1151.9v4.8M167.4 1052.1h-4.5M241.5 1151.9v4.8M167.4 1077.0h-4.5M216.6 1151.9v4.8M167.4 1101.9h-4.5M191.7 1151.9v12.6M167.4 1126.8h-12.5M167.4 1151.7h-4.5" stroke="#000" stroke-width="1.9" fill="none"/>
<text x="174.0" y="840.3" font-size="33" fill="#000" text-anchor="start" font-weight="normal" font-style="normal" >265 K</text>
<text x="147.4" y="886.3" font-size="29" fill="#000" text-anchor="end" font-weight="normal" font-style="normal" >-110</text>
<text x="145.0" y="1007.0" font-size="29" fill="#000" text-anchor="end" font-weight="normal" font-style="normal" >-105</text>
<text x="145.0" y="1133.9" font-size="29" fill="#000" text-anchor="end" font-weight="normal" font-style="normal" >-100</text>
<text x="188.5" y="1188.3" font-size="29" fill="#000" text-anchor="middle" font-weight="normal" font-style="normal" >-100</text>
<text x="312.9" y="1188.3" font-size="29" fill="#000" text-anchor="middle" font-weight="normal" font-style="normal" >-105</text>
<text x="437.6" y="1188.3" font-size="29" fill="#000" text-anchor="middle" font-weight="normal" font-style="normal" >-110</text>
<text x="268.3" y="1229.2" font-size="36.6" fill="#000" text-anchor="start" font-weight="normal" font-style="normal" ><tspan font-size="25.6" dy="-8.4">19</tspan><tspan dy="8.4">F (ppm)</tspan></text>
<text transform="translate(84.4 1065.6) rotate(-90)" font-size="37.2"><tspan font-size="25.6" dy="-8.6">19</tspan><tspan dy="8.6">F (ppm)</tspan></text>
<clipPath id="cl2"><rect x="544.4" y="806.3" width="348.7" height="348.3"/></clipPath>
<path clip-path="url(#cl2)" d="M734.7 810.8L736.4 809.3L737.8 810.8L737.6 812.3L736.4 813.5L734.9 812.9ZM695.1 824.3L695.9 823.9L697.4 823.9L698.1 824.3L699.2 825.8L698.7 827.3L697.4 828.0L695.9 827.9L694.9 827.3L694.3 825.8ZM837.8 857.3L842.9 856.4L845.9 856.8L847.4 857.8L849.3 860.3L849.9 861.8L850.0 864.8L849.6 866.3L847.5 869.3L834.0 884.3L827.9 893.7L817.4 905.0L815.9 906.1L812.9 907.6L808.4 908.2L800.9 907.9L797.9 907.0L794.9 905.2L792.4 902.3L790.9 899.3L790.4 896.3L790.5 893.3L791.2 887.3L792.2 882.8L794.0 878.3L796.6 873.8L799.4 871.1L803.9 868.5L809.9 866.7L820.3 864.8L823.4 863.8L828.0 861.8L833.9 858.5ZM705.0 858.8L706.4 857.6L707.9 858.9L713.1 869.3L718.7 875.3L722.1 879.8L723.8 881.3L736.4 886.4L737.9 886.5L739.4 886.2L742.4 884.8L743.9 884.8L745.4 885.4L747.7 887.3L752.7 893.3L754.0 896.3L754.2 902.3L753.2 906.8L751.0 911.3L750.6 912.8L750.8 915.8L751.4 917.0L753.3 918.8L755.9 919.9L761.9 920.2L763.4 920.5L764.9 921.3L772.5 927.8L773.5 929.3L774.0 930.8L773.9 933.8L771.5 942.8L768.0 948.8L767.3 950.3L767.2 951.8L768.7 957.8L768.3 962.3L768.9 965.3L772.8 969.8L775.4 975.1L776.0 975.8L776.9 976.5L779.9 977.4L781.4 977.6L782.9 977.2L784.4 975.8L786.9 971.3L788.2 969.8L790.9 968.3L801.9 963.8L809.9 957.9L812.9 956.5L814.4 956.3L817.4 957.6L819.6 959.3L821.9 961.8L822.6 963.8L821.8 966.8L820.4 968.8L815.8 972.8L815.7 974.3L817.9 980.3L820.4 984.6L821.9 986.2L823.4 987.2L824.9 987.5L829.4 987.3L832.4 986.7L833.9 985.7L835.4 983.5L838.4 977.3L839.9 976.6L841.4 978.2L842.6 981.8L843.0 986.3L842.1 990.8L841.4 992.4L839.9 994.3L838.4 995.3L836.9 995.7L830.9 996.3L824.9 995.1L823.4 995.5L821.9 996.9L820.7 999.8L819.4 1008.8L818.5 1011.8L817.4 1013.5L816.1 1014.8L814.4 1015.7L812.9 1015.9L809.9 1015.6L805.4 1014.4L800.9 1012.6L793.4 1012.4L790.4 1011.3L787.4 1009.0L785.9 1008.2L784.4 1008.1L782.9 1008.5L773.9 1013.7L759.5 1023.8L752.9 1029.4L748.4 1034.4L743.1 1037.3L741.7 1038.8L740.9 1040.3L739.0 1047.8L736.3 1052.3L735.8 1053.8L735.8 1055.3L736.4 1057.0L737.9 1058.5L740.1 1059.8L740.9 1060.9L740.7 1062.8L739.4 1063.8L734.9 1065.0L733.4 1065.8L731.9 1067.3L730.8 1071.8L730.1 1073.3L728.9 1074.8L725.9 1077.1L722.9 1077.8L715.4 1078.0L706.4 1075.8L698.9 1076.5L694.4 1076.3L688.4 1074.4L686.9 1075.0L684.0 1077.8L682.4 1078.3L679.4 1078.3L674.9 1077.4L673.4 1077.7L670.4 1079.9L667.7 1080.8L662.9 1080.9L656.9 1082.6L649.4 1082.3L644.9 1083.0L637.4 1079.0L634.4 1078.4L632.9 1078.9L631.4 1080.0L624.8 1088.3L614.9 1096.9L611.9 1098.6L610.4 1098.8L608.9 1098.5L605.9 1096.6L604.2 1094.3L603.8 1091.3L604.4 1088.3L606.1 1085.3L614.8 1074.8L618.9 1065.8L619.1 1064.3L615.3 1053.8L612.8 1050.8L607.4 1046.2L606.3 1044.8L604.4 1041.0L601.8 1037.3L601.6 1035.8L602.2 1029.8L601.9 1020.8L599.6 1013.3L599.6 1011.8L600.9 1007.3L600.7 1005.8L598.7 1002.8L595.4 999.7L594.5 998.3L594.3 996.8L595.4 994.8L602.9 989.5L604.4 989.2L608.9 989.4L610.4 988.8L611.9 987.4L614.7 981.8L617.4 978.8L618.0 975.8L618.3 966.8L619.6 960.8L619.4 959.1L615.9 954.8L613.7 945.8L613.4 941.3L614.5 936.8L616.4 933.3L617.9 932.3L619.4 932.4L620.9 933.1L622.4 934.7L623.9 938.9L625.4 941.5L626.9 942.5L628.4 942.7L629.9 941.9L630.3 941.3L630.9 936.8L631.5 935.3L633.1 933.8L635.9 932.3L638.9 931.3L643.4 931.4L644.8 930.8L644.8 924.8L647.3 918.8L649.0 915.8L653.5 911.3L654.5 909.8L655.0 906.8L654.8 902.3L655.9 893.3L656.8 891.8L661.4 886.1L662.9 884.7L665.9 883.4L679.4 881.4L683.9 877.6L688.7 875.3L694.4 871.8L700.8 869.3L702.2 867.8L702.9 866.3ZM675.4 860.3L677.9 859.5L679.4 859.6L680.3 860.3L680.7 861.8L680.4 863.3L678.7 867.8L677.1 870.8L673.4 875.0L671.9 876.2L670.4 876.3L668.9 874.9L668.4 873.8L667.9 872.3L668.0 869.3L669.4 866.3L671.6 863.3L673.4 861.5ZM635.6 876.8L638.9 876.0L641.9 876.5L644.3 878.3L646.7 881.3L648.3 885.8L648.7 888.8L647.8 891.8L644.9 895.8L643.4 896.4L638.9 895.6L632.9 895.8L620.9 893.0L612.7 890.3L610.2 888.8L609.7 887.3L610.4 886.9L612.9 885.8L623.9 882.5L629.9 878.8ZM787.4 939.8L788.9 939.7L790.4 940.7L791.2 942.8L791.0 945.8L790.4 947.2L788.9 948.1L786.8 947.3L785.4 945.8L784.8 944.3L784.7 942.8L785.3 941.3ZM599.9 978.8L601.4 978.4L602.9 978.5L604.4 978.9L606.4 980.3L606.9 981.8L606.4 983.3L604.4 985.6L602.9 986.0L601.1 984.8L599.6 981.8L599.5 980.3ZM790.4 984.6L789.6 984.8L789.9 986.3L791.9 987.1L796.4 988.1L797.9 989.0L802.4 993.6L803.9 993.5L804.8 990.8L804.7 987.8L803.9 984.5L802.4 983.5L796.4 984.6ZM578.0 1014.8L578.9 1014.1L580.4 1013.7L583.4 1014.3L584.9 1015.3L586.9 1017.8L588.1 1020.8L587.9 1022.3L587.2 1023.8L585.6 1025.3L583.4 1026.5L581.9 1026.8L580.4 1026.7L578.4 1025.3L577.4 1023.0L576.9 1019.3L577.1 1016.3ZM814.6 1023.8L815.9 1022.9L817.4 1023.1L818.5 1023.8L819.5 1025.3L819.5 1026.8L819.0 1028.3L817.4 1030.2L815.9 1030.5L814.4 1029.0L813.9 1026.8L814.0 1025.3ZM708.1 1118.3L709.4 1117.0L710.9 1117.3L711.5 1118.3L711.1 1119.8L709.4 1120.3L708.5 1119.8ZM695.8 825.8L697.6 825.8L697.4 826.1ZM835.1 858.8L838.4 857.8L841.4 857.5L844.4 857.6L845.9 858.1L847.4 859.2L848.9 861.6L849.3 863.3L849.1 864.8L848.6 866.3L846.7 869.3L833.3 884.3L827.5 893.3L817.4 904.2L814.4 906.2L812.9 906.8L808.4 907.6L802.4 907.3L797.9 906.2L794.9 904.2L793.3 902.3L791.7 899.3L791.1 896.3L791.1 891.8L792.7 882.8L795.4 876.8L797.4 873.8L800.9 870.9L805.4 868.6L811.4 866.8L822.0 864.8L826.0 863.3ZM674.7 861.8L676.4 861.1L677.9 861.1L678.9 861.8L679.1 863.3L678.1 866.3L676.4 869.6L673.4 872.7L671.9 873.3L670.4 872.8L670.0 872.3L669.5 870.8L669.5 869.3L669.9 867.8L671.6 864.8ZM705.2 864.8L706.4 863.4L707.9 863.8L709.4 865.9L712.4 872.0L716.8 876.8L720.2 881.3L721.8 882.8L724.4 883.9L730.4 885.2L736.4 887.9L739.4 888.2L742.4 887.7L743.9 887.8L745.4 888.5L746.9 890.0L749.4 893.3L751.5 897.8L752.4 902.3L751.9 905.3L748.9 911.3L748.6 914.3L749.3 917.3L751.4 919.5L754.4 921.0L761.9 922.1L763.4 922.7L768.2 926.3L770.6 929.3L771.0 930.8L770.4 935.3L770.5 939.8L770.0 942.8L767.9 946.0L764.7 948.8L763.6 950.3L763.8 951.8L765.4 954.8L766.5 957.8L766.7 963.8L767.1 965.3L772.0 971.3L774.0 977.3L777.1 980.3L779.2 983.3L788.9 989.4L796.4 990.7L797.9 991.5L802.4 996.2L803.9 996.6L805.4 995.0L805.7 993.8L806.7 984.8L808.8 977.3L809.9 975.8L811.4 975.4L812.9 976.0L814.4 977.7L821.9 988.4L823.4 990.0L824.9 990.8L832.4 989.0L833.9 988.2L835.4 986.0L838.4 979.2L839.9 978.4L841.4 980.2L842.1 983.3L842.2 986.3L841.4 990.1L839.9 992.5L838.4 993.6L832.4 994.3L828.6 993.8L825.7 992.3L824.9 991.0L824.1 992.3L823.4 992.5L821.9 994.3L820.4 997.1L819.6 999.8L818.4 1007.3L817.5 1010.3L815.9 1012.9L814.4 1014.0L812.9 1014.4L809.9 1014.1L802.4 1011.1L800.9 1010.9L796.4 1011.5L793.4 1011.3L791.1 1010.3L787.4 1007.3L785.9 1006.6L782.9 1006.6L781.2 1007.3L773.9 1012.3L769.4 1016.0L757.5 1023.8L752.9 1027.9L748.4 1032.7L746.9 1033.9L742.4 1036.3L740.9 1037.9L737.9 1046.6L733.4 1052.3L733.0 1055.3L734.3 1059.8L734.3 1061.3L733.4 1062.8L730.4 1066.2L728.7 1071.8L727.8 1073.3L725.9 1075.0L724.4 1075.8L721.4 1076.4L715.4 1076.7L706.4 1074.5L700.4 1074.8L695.9 1074.6L692.9 1073.5L688.4 1071.1L685.4 1070.5L683.9 1070.5L682.9 1071.8L682.9 1074.8L682.4 1075.4L680.9 1076.2L679.4 1075.9L677.3 1074.8L673.3 1070.3L671.9 1069.7L670.4 1069.7L668.9 1070.4L667.8 1071.8L667.2 1073.3L667.1 1076.3L665.9 1077.2L658.4 1079.7L655.4 1080.0L649.4 1079.6L644.9 1080.0L641.9 1079.4L635.9 1076.9L634.4 1076.8L632.9 1077.3L629.9 1079.6L624.4 1086.8L621.6 1089.8L613.4 1096.5L611.0 1097.3L608.9 1097.1L606.9 1095.8L605.7 1094.3L605.1 1091.3L605.6 1088.3L607.4 1085.3L616.0 1074.8L618.2 1070.3L620.2 1067.3L620.8 1065.8L621.0 1064.3L617.9 1053.8L617.0 1052.3L608.9 1045.0L607.3 1041.8L605.9 1037.3L605.7 1035.8L606.2 1034.3L607.8 1031.3L607.7 1029.8L604.8 1023.8L602.9 1013.3L603.1 1011.8L605.4 1007.3L605.3 1005.8L604.3 1004.3L598.0 998.3L597.7 996.8L598.8 995.3L602.9 993.2L605.9 992.8L610.4 992.9L611.9 992.1L614.9 988.4L619.4 984.8L619.9 983.3L620.4 980.3L620.3 974.3L621.1 966.8L622.6 960.8L622.8 957.8L622.0 956.3L617.9 953.6L617.0 951.8L614.7 944.3L614.6 941.3L615.3 938.3L616.4 936.0L617.1 935.3L617.9 934.6L619.4 934.5L620.9 935.6L623.9 941.9L625.4 943.9L626.9 945.1L628.4 945.7L632.0 945.8L635.9 944.1L640.4 943.4L641.4 942.8L642.0 941.3L641.8 938.3L642.0 936.8L646.4 934.6L648.1 932.3L648.3 930.8L647.6 924.8L649.2 920.3L650.9 917.7L655.4 914.0L656.6 912.8L657.4 911.3L657.8 909.8L657.7 908.3L656.9 905.3L656.7 902.3L658.0 894.8L658.5 893.3L661.4 889.1L663.1 887.3L665.9 886.0L670.4 885.5L674.9 884.2L679.4 883.4L680.9 882.5L683.4 879.8L685.4 878.2L689.9 876.0L694.4 873.1L701.9 869.9L703.8 867.8ZM634.4 878.3L637.4 877.5L640.4 877.6L641.9 878.3L643.4 879.6L644.8 881.3L646.5 885.8L646.7 888.8L645.6 891.8L643.4 893.7L632.9 894.3L620.9 892.1L615.2 890.3L612.5 888.8L612.5 887.3L615.6 885.8L625.4 882.8L629.9 880.0ZM659.9 915.1L659.3 915.8L659.8 917.3L661.4 918.8L664.4 920.6L665.9 920.8L667.6 920.3L668.3 918.8L667.4 917.1L662.9 915.0L661.4 914.7ZM636.9 935.3L637.6 935.3L637.9 936.8L635.9 937.7L634.7 936.8L635.9 935.6ZM786.3 942.8L787.4 941.6L788.9 941.5L789.9 942.8L790.2 944.3L789.6 945.8L788.9 946.5L787.4 946.2L787.0 945.8L786.2 944.3ZM812.8 957.8L814.4 957.7L815.9 958.2L817.5 959.3L820.1 962.3L820.6 963.8L820.5 965.3L818.9 967.7L817.4 968.7L815.9 969.1L806.9 968.9L805.9 969.8L805.1 975.8L802.5 978.8L799.4 981.2L796.4 982.0L793.4 982.0L788.9 980.8L787.4 979.5L786.9 978.8L786.8 977.3L787.1 975.8L788.5 972.8L790.4 970.5L791.9 969.5L794.9 968.2L803.9 966.2L807.9 960.8L809.9 959.2ZM578.9 1016.3L580.4 1015.3L581.9 1015.3L583.4 1015.8L585.4 1017.8L586.6 1020.8L586.3 1022.3L584.9 1024.2L583.4 1025.1L581.9 1025.4L580.4 1025.2L578.9 1023.8L578.4 1022.3L578.1 1019.3L578.3 1017.8ZM837.6 858.8L839.9 858.4L842.9 858.4L845.9 859.4L847.9 861.8L848.2 863.3L847.6 866.3L845.8 869.3L843.4 872.3L832.4 884.3L828.9 890.3L826.6 893.3L818.9 901.9L815.9 904.5L812.9 906.0L808.4 906.8L800.9 906.3L797.9 905.2L794.9 903.0L793.3 900.8L792.1 897.8L791.6 893.3L792.0 888.8L792.5 885.8L793.9 881.3L796.1 876.8L798.3 873.8L802.4 870.7L806.9 868.7L812.9 867.0L823.4 864.8L833.9 859.9ZM675.4 863.3L676.6 863.3L676.9 864.8L676.4 866.6L674.7 869.3L673.4 870.4L671.9 870.3L671.4 869.3L671.9 866.8L673.4 864.6ZM706.0 869.3L706.4 868.9L707.9 869.6L710.8 873.8L715.4 878.8L718.4 882.9L719.9 884.5L721.4 885.4L722.9 885.9L728.9 886.2L731.9 887.2L736.4 889.4L737.9 889.8L742.4 890.1L743.9 890.6L745.5 891.8L748.0 894.8L749.4 897.8L750.2 902.3L749.5 905.3L747.6 908.3L746.5 911.3L746.4 915.8L747.4 918.8L749.9 921.0L754.4 923.2L755.9 923.6L760.4 923.8L763.4 924.9L765.4 926.3L766.7 927.8L767.5 929.3L767.8 935.3L768.8 939.8L768.2 942.8L766.4 944.9L762.1 947.3L760.4 948.7L759.9 950.3L760.4 952.1L763.6 957.8L765.2 965.3L766.4 967.2L770.1 971.3L770.8 972.8L772.0 978.8L775.5 984.8L777.3 986.3L782.9 988.7L787.4 991.3L788.9 991.8L794.9 992.2L796.4 992.6L797.9 993.6L799.4 995.3L802.4 999.8L803.9 1000.5L805.4 999.4L806.6 996.8L807.8 987.8L808.4 985.6L809.6 983.3L811.4 981.1L812.9 980.8L814.4 981.5L817.6 984.8L819.6 987.8L820.8 990.8L820.8 992.3L818.3 999.8L816.6 1008.8L815.9 1010.3L814.4 1012.0L812.9 1012.7L811.4 1012.8L808.4 1011.9L803.9 1009.1L802.4 1008.7L796.4 1010.2L793.4 1010.0L791.9 1009.3L787.4 1005.5L785.9 1004.8L782.9 1004.5L781.4 1004.8L779.4 1005.8L769.1 1014.8L755.9 1023.7L746.9 1032.3L740.7 1035.8L739.4 1037.9L737.7 1043.3L736.4 1045.8L732.2 1049.3L731.1 1050.8L730.2 1053.8L731.5 1059.8L731.4 1061.3L728.7 1065.8L726.6 1071.8L725.1 1073.3L722.9 1074.4L719.9 1075.0L715.4 1075.3L712.4 1074.8L706.4 1073.0L701.9 1072.9L698.9 1072.4L696.7 1071.8L692.9 1069.0L691.4 1068.4L680.9 1066.1L674.9 1063.9L673.4 1063.9L670.4 1065.3L667.4 1067.3L665.6 1068.8L661.4 1073.9L659.9 1075.2L657.4 1076.3L654.7 1076.3L650.9 1074.9L649.4 1075.1L646.4 1076.6L643.4 1077.2L640.4 1076.7L637.4 1075.2L635.9 1074.8L632.9 1075.5L629.9 1077.6L628.4 1079.1L622.7 1086.8L619.8 1089.8L613.4 1094.6L611.9 1095.4L610.4 1095.6L608.9 1095.2L607.8 1094.3L606.9 1092.8L606.6 1091.3L607.1 1088.3L607.9 1086.8L612.3 1080.8L617.7 1074.8L619.4 1071.6L621.6 1068.8L622.4 1067.3L622.7 1064.3L620.9 1053.8L620.4 1052.3L619.1 1050.8L615.1 1047.8L611.8 1044.8L610.0 1041.8L609.5 1038.8L609.6 1037.3L611.6 1032.8L611.6 1031.3L610.5 1028.3L606.7 1022.3L606.5 1019.3L607.4 1016.7L610.4 1014.2L611.0 1013.3L611.3 1011.8L609.6 1004.3L609.4 1001.3L610.1 999.8L613.9 996.8L616.4 992.1L617.9 990.7L620.9 989.1L621.9 987.8L622.9 984.8L623.6 975.8L624.6 974.3L628.2 971.3L628.4 969.8L625.4 965.7L624.9 963.8L625.7 957.8L625.5 954.8L623.9 953.0L620.9 951.9L619.4 951.0L617.9 949.1L616.1 944.3L616.0 941.3L616.4 939.5L617.9 937.3L619.4 937.2L620.9 938.9L623.9 945.2L625.4 947.6L626.9 948.5L629.9 948.8L634.4 948.4L641.9 947.3L645.0 945.8L646.2 944.3L646.8 942.8L646.9 939.8L649.4 935.5L650.6 932.3L651.0 924.8L652.4 921.6L653.9 920.4L655.4 920.0L656.9 920.1L659.9 921.0L664.4 923.2L665.9 923.5L667.4 923.3L669.9 921.8L672.0 918.8L672.3 917.3L671.2 915.8L666.8 912.8L666.1 911.3L665.5 908.3L664.4 905.9L661.2 903.8L660.3 902.3L661.0 899.3L662.9 896.0L664.7 891.8L665.9 890.4L667.4 889.7L680.9 885.1L682.4 883.8L685.6 879.8L695.9 873.7L703.6 870.8ZM633.5 879.8L637.4 879.0L638.9 879.1L640.7 879.8L642.4 881.3L644.0 884.3L644.6 887.3L644.5 888.8L643.9 890.3L642.0 891.8L634.4 892.8L623.9 891.8L618.1 890.3L615.3 888.8L615.4 887.3L616.4 886.8L618.5 885.8L625.4 883.8L631.4 880.5ZM810.8 960.8L812.9 959.8L814.4 959.9L815.9 960.8L816.9 962.3L817.3 963.8L816.5 965.3L814.4 965.9L812.9 965.9L809.9 965.1L809.0 963.8L809.4 962.3ZM795.9 969.8L799.4 969.6L800.9 970.3L801.8 971.3L802.3 972.8L802.2 974.3L801.7 975.8L800.7 977.3L797.9 979.4L794.9 980.0L791.9 979.4L790.8 978.8L789.7 977.3L789.6 975.8L790.1 974.3L791.0 972.8L792.5 971.3ZM838.2 981.8L839.9 980.5L840.7 981.8L841.4 984.8L841.2 986.3L840.3 989.3L839.9 990.0L838.4 991.0L836.9 990.4L836.5 989.3L836.8 986.3ZM580.3 1017.8L581.9 1017.2L583.4 1017.8L584.5 1019.3L584.8 1020.8L584.3 1022.3L583.4 1023.2L581.9 1023.7L580.4 1022.9L580.0 1022.3L579.6 1020.8L579.7 1019.3ZM834.8 860.3L836.9 859.6L839.9 859.2L842.9 859.4L844.4 859.9L846.6 861.8L847.1 863.3L847.1 864.8L845.8 867.8L843.8 870.8L832.8 882.8L828.1 890.3L825.8 893.3L817.4 902.4L814.4 904.5L811.4 905.7L806.9 906.2L802.4 905.8L799.4 904.9L796.4 903.2L794.2 900.8L792.8 897.8L792.3 894.8L792.4 890.3L793.1 885.8L794.6 881.3L796.9 876.8L799.3 873.8L802.4 871.4L805.4 869.9L809.9 868.4L824.8 864.8ZM699.1 873.8L703.4 872.8L706.4 873.1L707.9 874.1L713.5 879.8L718.4 886.4L719.9 887.7L721.4 888.2L727.4 887.8L730.4 888.2L736.4 891.0L742.4 892.3L743.9 893.1L745.6 894.8L747.2 897.8L747.8 900.8L747.7 902.3L747.3 903.8L744.9 908.3L744.0 911.3L743.7 917.3L744.2 920.3L745.9 921.8L749.9 923.9L754.4 927.0L755.9 927.1L760.4 926.4L761.9 926.8L763.6 927.8L764.7 929.3L765.2 930.8L765.9 935.3L766.7 938.3L766.7 941.3L765.8 942.8L764.9 943.6L758.5 947.3L757.6 948.8L757.6 950.3L760.1 956.3L763.2 965.3L768.4 972.8L769.5 978.8L770.9 982.5L772.4 985.1L775.4 988.0L778.4 989.9L782.9 991.8L787.4 994.4L788.9 994.6L793.4 994.2L794.9 994.3L796.4 994.9L798.2 996.8L799.7 999.8L800.6 1002.8L800.8 1004.3L800.5 1005.8L799.2 1007.3L797.9 1008.1L794.9 1008.8L793.4 1008.4L791.9 1007.4L787.4 1003.0L785.9 1002.3L782.9 1002.1L779.9 1002.6L778.4 1003.4L776.9 1004.8L767.9 1014.1L757.4 1021.0L746.9 1030.7L740.1 1034.3L738.7 1035.8L737.9 1037.3L736.4 1041.8L735.5 1043.3L734.0 1044.8L729.5 1047.8L725.4 1053.8L725.4 1055.3L727.9 1058.3L728.6 1059.8L728.6 1061.3L725.0 1070.3L722.9 1072.2L718.4 1073.3L713.9 1073.4L706.4 1071.1L701.9 1070.3L699.3 1068.8L695.9 1064.9L692.9 1062.6L691.4 1062.6L688.4 1064.1L687.1 1064.3L683.9 1064.1L681.1 1062.8L677.9 1058.1L674.9 1057.0L673.4 1056.9L671.9 1057.5L667.4 1063.2L665.9 1064.3L662.9 1065.7L659.9 1066.4L658.4 1066.4L653.9 1064.9L649.4 1066.4L647.9 1066.4L644.9 1065.5L643.4 1065.6L641.9 1066.3L640.3 1067.3L635.9 1071.3L629.9 1075.3L627.0 1077.8L623.9 1081.7L620.7 1086.8L619.4 1088.4L613.4 1092.3L611.9 1093.0L610.4 1093.0L608.8 1091.3L608.7 1089.8L609.8 1086.8L614.0 1080.8L620.2 1074.8L623.9 1069.7L624.7 1067.3L623.7 1059.8L623.5 1052.3L622.4 1050.2L616.3 1044.8L614.3 1041.8L613.5 1038.8L614.7 1034.3L614.7 1032.8L613.6 1029.8L609.6 1022.3L609.4 1020.8L610.0 1019.3L613.4 1016.3L614.5 1014.8L615.7 1011.8L615.8 1010.3L614.3 1005.8L614.2 1004.3L614.7 1002.8L616.4 1000.4L619.4 994.7L622.9 992.3L624.5 990.8L625.1 989.3L626.2 981.8L626.9 979.4L628.4 977.6L631.4 975.3L632.9 972.9L633.4 971.3L633.5 969.8L633.0 968.3L629.1 965.3L627.9 963.8L627.5 962.3L628.0 959.3L629.9 953.6L631.4 952.2L632.9 951.8L637.4 952.3L638.9 952.3L640.4 951.7L644.9 949.2L649.2 945.8L651.3 942.8L651.7 941.3L652.1 935.3L655.2 926.3L656.1 924.8L656.9 924.3L658.4 924.1L659.9 924.4L664.4 926.4L665.9 926.6L667.4 926.2L670.4 924.5L679.5 917.3L680.6 915.8L680.5 914.3L679.4 913.6L671.9 911.7L670.4 910.7L669.7 909.8L666.9 900.8L667.0 897.8L668.0 894.8L670.4 892.6L682.4 887.0L683.9 885.5L685.4 882.8L686.9 881.0L695.9 875.3ZM633.5 881.3L637.4 881.0L638.9 881.5L640.4 882.8L641.3 884.3L641.9 887.3L641.4 888.8L639.2 890.3L634.4 891.2L623.9 890.6L622.1 890.3L618.6 888.8L618.8 887.3L625.4 885.0L631.4 882.0ZM618.8 941.3L619.4 941.1L620.9 943.6L621.2 945.8L620.9 946.5L619.4 946.5L618.1 944.3L617.9 942.5ZM795.5 972.8L796.4 972.6L797.9 972.9L798.6 974.3L797.9 976.0L796.4 976.9L794.9 977.1L793.2 975.8L793.5 974.3ZM811.1 984.8L812.9 983.8L814.4 984.1L815.9 985.2L817.4 987.1L818.5 989.3L819.0 992.3L816.7 999.8L815.3 1007.3L814.4 1009.2L813.2 1010.3L811.4 1010.8L809.5 1010.3L807.4 1008.8L806.2 1007.3L805.8 1005.8L805.9 1004.3L808.3 998.3L808.9 990.8L809.4 987.8L810.0 986.3ZM837.7 860.3L841.4 860.2L842.9 860.5L845.0 861.8L845.8 863.3L845.9 864.8L844.9 867.8L840.5 873.8L831.9 882.8L826.1 891.8L818.1 900.8L815.9 902.7L812.9 904.4L808.4 905.3L803.9 905.2L800.9 904.6L797.9 903.1L796.4 902.0L794.9 900.2L793.7 897.8L793.0 894.8L793.0 890.3L793.7 885.8L795.2 881.3L796.7 878.3L799.4 874.6L802.4 872.2L806.9 870.0L812.9 868.2L821.9 866.2L826.1 864.8L833.9 861.2ZM699.5 875.3L703.4 874.8L706.4 875.9L712.5 881.3L716.9 887.8L718.4 889.6L719.9 890.5L721.4 890.8L727.4 889.6L730.4 889.9L736.4 892.6L740.9 894.0L742.5 894.8L744.0 896.3L745.2 899.3L745.1 902.3L743.9 905.1L741.0 909.8L740.0 917.3L737.7 921.8L736.4 923.1L733.4 925.0L732.4 926.3L732.1 927.8L732.4 929.3L733.4 930.8L734.9 931.6L736.4 931.4L740.9 926.5L743.9 925.9L746.9 926.5L748.4 927.4L751.4 930.4L752.9 931.1L754.4 931.3L758.9 930.0L760.4 929.9L762.0 930.8L763.4 933.6L764.7 938.3L764.7 939.8L764.1 941.3L762.3 942.8L756.7 945.8L755.6 947.3L755.4 948.8L755.6 950.3L758.1 956.3L761.2 965.3L765.3 972.8L766.5 978.8L768.9 984.8L770.9 987.4L774.6 990.8L776.9 994.5L779.2 996.8L779.1 998.3L767.9 1011.9L757.4 1019.4L746.9 1029.0L743.9 1030.8L739.4 1032.7L737.9 1033.9L734.9 1039.0L733.4 1040.8L728.9 1043.5L724.4 1046.8L722.9 1047.3L721.4 1047.4L717.0 1046.3L715.4 1046.4L710.9 1047.8L708.5 1049.3L707.9 1050.8L708.5 1052.3L710.9 1054.8L712.4 1055.9L713.9 1056.3L716.9 1056.5L719.9 1057.4L723.9 1059.8L725.0 1061.3L725.2 1062.8L724.4 1066.0L722.9 1068.6L721.4 1069.7L718.4 1070.6L713.9 1070.8L711.8 1070.3L707.9 1068.6L703.4 1067.4L700.8 1065.8L698.2 1062.8L697.0 1059.8L696.6 1056.8L696.9 1052.3L696.5 1050.8L695.2 1049.3L691.4 1046.2L689.9 1045.7L688.4 1045.8L687.3 1046.3L683.3 1050.8L680.9 1051.8L679.4 1051.8L677.9 1051.4L670.4 1047.6L667.4 1045.2L665.9 1044.7L664.4 1045.8L664.2 1047.8L665.9 1049.0L668.9 1050.0L669.4 1050.8L669.4 1052.3L668.1 1055.3L665.9 1058.1L664.4 1058.7L662.9 1058.3L657.8 1053.8L655.4 1053.0L653.9 1053.2L652.4 1054.0L650.9 1055.3L647.9 1058.9L645.3 1061.3L632.9 1070.0L629.9 1071.6L628.4 1071.8L625.6 1061.3L625.6 1058.3L626.3 1052.3L626.0 1050.8L625.2 1049.3L620.9 1044.8L619.2 1041.8L618.8 1038.8L620.4 1034.3L619.9 1032.8L616.5 1029.8L615.5 1028.3L614.3 1025.3L614.0 1022.3L614.6 1020.8L617.9 1015.8L623.0 1010.3L623.9 1008.8L625.7 1004.3L628.4 1000.9L629.9 997.4L630.6 993.8L629.6 987.8L630.0 984.8L634.0 980.3L635.8 974.3L637.4 970.8L638.9 968.6L642.4 965.3L643.1 962.3L643.1 957.8L643.7 954.8L644.8 953.3L650.9 947.5L653.9 943.0L654.7 939.8L654.9 935.3L656.3 932.3L658.4 930.6L659.9 930.4L664.4 931.7L665.9 931.3L680.9 919.7L684.3 915.8L684.9 914.3L685.0 912.8L683.9 911.1L682.4 910.3L674.9 908.4L673.4 907.6L671.9 906.0L669.7 900.8L669.7 897.8L670.4 896.3L672.2 894.8L676.4 893.2L683.9 889.3L685.4 887.7L688.1 882.8L689.7 881.3L697.4 876.2ZM630.7 884.3L632.9 883.5L635.9 883.4L637.6 884.3L638.3 885.8L638.1 887.3L636.0 888.8L634.4 889.1L626.0 888.8L625.4 888.5L624.7 887.3L626.9 886.5ZM633.3 957.8L634.4 957.4L635.4 957.8L637.0 959.3L637.5 960.8L637.4 962.3L635.9 963.8L634.1 963.8L632.9 963.3L631.7 962.3L631.4 960.7L631.9 959.3ZM811.7 987.8L812.9 986.8L814.4 986.9L815.5 987.8L816.5 989.3L816.9 992.3L815.9 995.7L813.9 999.8L813.2 1005.8L812.9 1006.6L811.4 1007.6L809.9 1006.9L809.4 1005.8L809.4 1004.3L811.1 999.8L810.7 990.8ZM792.2 998.3L793.4 997.7L794.9 997.7L796.4 999.0L797.8 1002.8L797.7 1004.3L796.4 1006.0L794.9 1006.3L793.6 1005.8L791.9 1004.0L791.0 1001.3L791.2 999.8ZM617.5 1080.8L619.4 1080.5L619.8 1080.8L620.0 1082.3L619.1 1085.3L618.1 1086.8L616.4 1088.1L614.9 1088.7L613.4 1088.8L612.8 1088.3L612.7 1086.8L613.2 1085.3L614.9 1082.8ZM834.6 861.8L836.9 861.2L839.9 861.0L842.9 861.8L844.3 863.3L844.6 864.8L843.9 867.8L842.1 870.8L839.7 873.8L831.0 882.8L825.2 891.8L817.4 900.6L815.9 901.9L812.9 903.6L809.9 904.5L806.9 904.7L803.9 904.5L800.9 903.7L798.3 902.3L796.5 900.8L795.4 899.3L794.0 896.3L793.6 893.3L793.8 888.8L794.4 885.8L795.9 881.3L797.5 878.3L799.7 875.3L802.4 873.0L805.4 871.3L812.9 868.8L823.6 866.3ZM701.6 876.8L704.9 877.5L710.1 881.3L712.7 884.3L716.9 891.5L718.4 892.8L719.9 893.2L721.4 893.2L727.4 891.6L730.4 891.9L739.4 895.8L741.8 897.8L742.5 899.3L742.4 902.3L741.7 903.8L737.9 908.2L737.1 909.8L736.8 914.3L736.5 915.8L735.8 917.3L734.9 918.3L733.4 919.3L728.9 919.7L727.0 920.3L725.7 921.8L725.7 923.3L730.4 931.6L732.5 933.8L734.9 935.1L736.4 935.2L737.9 934.7L740.9 932.3L742.4 931.5L743.9 931.3L745.4 931.6L751.4 934.7L752.9 935.2L754.4 935.2L758.9 934.0L760.4 934.6L761.0 935.3L761.7 936.8L761.9 938.3L761.4 939.8L759.5 941.3L755.9 942.7L754.4 943.8L753.3 945.8L753.1 948.8L754.0 951.8L756.2 956.3L758.9 964.7L762.6 972.8L763.5 978.8L765.6 986.3L766.5 987.8L770.9 991.2L772.4 993.0L774.0 996.8L774.1 999.8L772.5 1002.8L769.5 1005.8L765.9 1010.3L755.9 1018.8L748.4 1026.1L743.9 1029.1L737.9 1031.5L736.3 1032.8L733.4 1036.4L731.9 1037.8L724.4 1042.3L722.9 1042.8L718.4 1042.5L715.4 1042.7L709.4 1044.7L706.4 1045.0L700.4 1044.1L697.4 1043.0L694.4 1041.4L691.4 1040.9L686.9 1041.9L680.9 1044.9L677.9 1045.3L674.9 1044.4L668.9 1040.3L665.9 1039.8L661.6 1040.3L660.4 1041.8L659.8 1044.8L658.4 1047.6L656.9 1048.4L652.4 1049.9L650.9 1050.9L644.4 1058.3L637.4 1064.8L634.4 1066.5L631.4 1067.0L629.9 1066.2L628.4 1064.3L627.5 1061.3L627.6 1058.3L629.8 1052.3L629.8 1050.8L629.0 1049.3L625.4 1045.6L623.8 1043.3L623.2 1041.8L623.2 1040.3L624.7 1035.8L624.7 1032.8L623.4 1029.8L622.4 1028.8L619.1 1026.8L618.5 1025.3L619.2 1022.3L620.9 1018.8L626.0 1013.3L631.8 1004.3L633.8 995.3L634.2 987.8L637.3 981.8L638.7 975.8L640.4 973.1L643.4 969.8L644.9 967.7L645.8 965.3L646.7 959.3L647.7 956.3L655.6 944.3L658.4 937.9L659.9 936.4L664.4 937.0L665.9 936.7L667.4 935.4L672.4 929.3L674.9 927.3L681.4 923.3L683.9 921.0L688.4 916.0L689.9 914.8L691.4 914.2L695.9 914.3L697.4 913.3L697.7 912.8L697.4 911.2L689.9 904.6L688.4 903.9L685.4 903.5L680.9 905.4L677.8 905.3L674.9 904.0L673.4 902.4L672.7 900.8L672.7 899.3L673.4 897.8L674.9 897.0L677.9 896.5L682.4 897.2L683.9 896.5L686.9 891.2L688.8 885.8L690.9 882.8L697.4 878.2L698.9 877.4ZM702.8 1056.8L703.4 1056.4L704.9 1056.5L706.8 1058.3L707.3 1059.8L707.3 1061.3L706.4 1062.6L704.9 1063.0L704.1 1062.8L703.4 1062.5L702.3 1061.3L701.8 1059.8L701.9 1058.3ZM715.9 1062.8L716.9 1062.0L718.4 1061.8L720.2 1062.8L720.5 1064.3L719.9 1065.2L718.7 1065.8L716.9 1065.6L715.7 1064.3ZM832.4 863.3L836.9 862.1L839.9 862.1L841.4 862.6L842.5 863.3L843.2 864.8L842.8 867.8L840.0 872.3L830.0 882.8L825.4 890.3L817.7 899.3L815.9 900.9L812.9 902.7L808.4 903.8L805.4 903.8L802.4 903.3L799.4 902.0L797.9 900.8L796.4 899.2L794.9 896.3L794.3 893.3L794.5 888.8L795.5 884.3L796.7 881.3L798.3 878.3L800.8 875.3L803.9 872.9L806.9 871.5L811.4 869.9L824.9 866.4ZM698.6 879.8L700.4 879.1L703.4 879.3L706.4 880.8L709.0 882.8L710.9 885.0L712.2 887.3L713.3 890.3L714.2 894.8L715.4 895.6L719.9 896.0L727.4 894.0L730.4 894.2L735.4 896.3L737.6 897.8L738.7 899.3L739.0 900.8L738.6 902.3L734.9 907.1L733.7 909.8L732.9 912.8L732.0 914.3L730.4 915.0L725.9 915.5L718.4 918.6L716.9 920.3L716.8 921.8L718.4 924.0L722.9 926.5L724.4 927.7L730.3 935.3L733.4 937.6L736.4 938.6L737.9 938.4L742.4 935.9L743.9 935.5L746.9 936.2L749.9 938.3L750.9 939.8L751.1 941.3L750.8 947.3L751.0 950.3L752.1 953.3L754.4 957.4L757.7 966.8L760.2 972.8L762.1 984.8L762.9 987.8L764.9 990.9L768.9 993.8L770.2 995.3L770.9 996.8L771.2 998.3L770.9 999.8L769.4 1001.9L764.3 1005.8L757.7 1014.8L748.4 1024.2L743.9 1027.2L736.4 1030.3L730.4 1036.0L724.4 1038.9L722.9 1039.3L716.9 1039.5L707.9 1041.1L700.4 1040.0L694.7 1037.3L692.9 1037.0L689.9 1037.5L683.9 1039.5L680.9 1039.9L679.4 1039.6L674.8 1037.3L671.9 1036.4L665.9 1036.4L662.9 1035.9L656.9 1032.1L655.4 1031.7L653.9 1031.7L652.4 1032.2L646.2 1037.3L644.9 1038.6L644.0 1040.3L643.4 1043.3L643.9 1044.8L646.3 1047.8L646.1 1049.3L640.9 1058.3L638.3 1061.3L635.9 1063.2L632.9 1064.2L631.4 1063.7L630.5 1062.8L629.8 1061.3L629.7 1059.8L630.1 1058.3L631.4 1056.2L635.1 1052.3L636.1 1050.8L636.7 1049.3L636.6 1047.8L634.9 1046.3L630.8 1044.8L628.9 1043.3L628.3 1041.8L628.3 1038.8L627.9 1035.8L625.3 1025.3L625.3 1023.8L625.8 1022.3L626.9 1020.8L631.4 1015.9L632.9 1014.9L641.9 1013.9L642.8 1013.3L643.4 1012.2L643.7 1008.8L642.9 1005.8L641.8 1004.3L637.4 1001.6L636.7 999.8L637.5 990.8L638.3 987.8L640.4 982.9L643.5 977.3L647.7 968.3L648.3 966.8L649.7 959.3L656.9 946.7L659.9 942.7L661.4 941.8L666.8 941.3L668.9 940.2L670.6 938.3L672.6 933.8L674.9 931.1L677.9 929.2L685.9 926.3L687.6 924.8L690.1 921.8L691.4 921.0L692.9 920.8L697.4 921.4L698.9 921.3L700.7 920.3L703.1 917.3L703.7 915.8L703.9 914.3L702.8 911.3L698.9 906.0L692.2 899.3L691.0 897.8L690.6 896.3L690.2 890.3L690.6 887.3L691.2 885.8L692.2 884.3L693.9 882.8ZM835.2 863.3L838.4 863.1L839.9 863.4L841.4 864.6L841.9 866.3L841.0 869.3L837.9 873.8L829.4 882.3L824.3 890.3L816.6 899.3L812.9 901.8L809.9 902.8L806.9 903.1L802.4 902.4L799.4 900.9L797.9 899.6L796.6 897.8L795.3 894.8L795.0 891.8L795.2 888.8L795.8 885.8L797.4 881.3L800.9 876.2L803.9 873.8L808.4 871.7L812.9 870.2L823.4 867.6L832.4 864.1ZM698.4 882.8L700.4 882.1L701.9 882.0L704.6 882.8L706.4 884.0L708.2 885.8L709.1 887.3L709.5 888.8L709.3 890.3L707.9 891.4L706.4 891.5L703.4 891.0L701.9 891.2L697.4 893.2L695.9 893.0L694.4 891.6L693.8 890.3L693.4 888.8L693.6 887.3L694.3 885.8L695.9 884.3ZM725.4 897.8L727.4 897.3L730.4 897.4L731.9 897.8L733.7 899.3L734.1 900.8L733.7 902.3L730.4 907.2L728.9 908.7L719.9 913.6L712.4 916.0L710.9 915.6L709.5 912.8L708.7 909.8L708.8 906.8L709.7 905.3L712.6 902.3L715.4 900.6ZM707.4 920.3L709.4 919.2L710.9 919.8L712.8 923.3L715.4 926.3L721.2 929.3L722.9 930.5L727.9 936.8L730.4 939.1L733.4 941.0L736.4 941.9L737.9 942.0L743.9 939.8L745.4 940.1L746.9 941.3L747.6 942.8L748.2 945.8L748.5 953.3L749.3 954.8L752.8 959.3L754.1 962.3L758.7 975.8L760.4 988.5L761.9 992.1L764.8 996.8L765.1 998.3L764.1 999.8L760.4 1002.9L759.5 1004.3L757.5 1010.3L756.0 1013.3L753.8 1016.3L749.9 1020.5L742.9 1025.3L736.2 1028.3L734.2 1029.8L730.4 1033.4L725.9 1035.7L722.9 1036.5L713.9 1037.4L707.9 1037.6L701.9 1036.9L694.4 1034.3L691.4 1034.3L683.9 1035.7L682.4 1035.4L674.9 1032.3L671.9 1032.2L667.4 1033.1L664.4 1032.7L662.2 1031.3L658.4 1027.1L655.3 1025.3L653.6 1023.8L652.9 1019.3L652.3 1017.8L649.4 1014.3L648.3 1011.8L646.5 1004.3L643.8 998.3L642.5 992.3L642.5 989.3L643.5 986.3L644.9 984.5L649.4 982.4L650.9 980.3L651.4 977.3L650.9 972.8L651.8 968.3L652.4 962.3L653.3 959.3L655.3 954.8L658.7 948.8L659.9 947.0L661.4 945.6L662.9 944.9L667.4 943.8L669.9 942.8L672.3 941.3L674.0 939.8L677.6 935.3L679.4 933.9L687.2 930.8L694.4 927.1L698.9 926.1L701.9 924.9L704.2 923.3ZM633.3 1019.3L635.9 1018.1L638.9 1018.0L641.4 1019.3L642.6 1020.8L643.1 1022.3L643.3 1023.8L642.9 1026.8L640.3 1034.3L638.5 1037.3L637.4 1038.2L635.9 1038.7L634.4 1038.5L632.9 1037.7L631.4 1036.2L629.7 1032.8L628.7 1028.3L628.7 1025.3L629.3 1023.8L631.4 1021.0ZM833.0 864.8L836.9 864.2L839.1 864.8L840.3 866.3L840.3 867.8L839.8 869.3L836.8 873.8L829.1 881.3L823.2 890.3L816.9 897.8L814.4 900.0L812.9 900.9L808.4 902.2L805.4 902.2L802.4 901.5L798.9 899.3L797.6 897.8L796.2 894.8L795.8 891.8L796.0 888.8L797.6 882.8L799.2 879.8L801.5 876.8L803.9 874.7L808.4 872.5L814.4 870.6L824.9 867.8ZM716.1 905.3L718.4 904.6L720.4 905.3L720.5 906.8L719.7 908.3L718.4 909.4L716.9 910.0L715.3 909.8L714.5 908.3L714.7 906.8ZM705.9 927.8L709.4 928.0L716.9 931.3L719.9 933.5L722.8 936.8L724.5 938.3L730.4 942.7L733.4 944.3L737.9 945.3L742.4 944.9L744.3 945.8L744.9 947.3L744.6 953.3L744.9 954.8L745.8 956.3L749.9 960.0L751.6 962.3L756.7 975.8L757.7 980.3L758.0 987.8L759.3 995.3L758.5 998.3L755.3 1004.3L753.4 1011.8L751.4 1015.6L748.4 1018.4L743.9 1021.0L740.5 1023.8L734.9 1027.0L728.9 1032.0L724.4 1033.9L715.4 1035.2L709.4 1035.3L703.4 1034.5L694.4 1032.3L683.9 1031.7L674.9 1028.9L671.9 1028.9L667.4 1029.6L665.9 1029.3L664.4 1028.3L663.4 1026.8L661.6 1020.8L659.2 1016.3L657.8 1014.8L652.5 1011.8L651.4 1010.3L649.8 1005.8L647.2 992.3L647.2 990.8L647.6 989.3L652.4 984.2L657.3 974.3L657.8 971.3L656.8 965.3L656.6 962.3L657.6 957.8L661.2 950.3L662.3 948.8L664.2 947.3L672.0 944.3L674.9 942.5L680.9 937.6L683.9 936.0L701.9 929.0ZM635.0 1022.3L635.9 1021.9L637.4 1021.9L638.2 1022.3L639.2 1023.8L639.3 1025.3L638.7 1029.8L637.4 1032.6L635.9 1033.9L634.4 1034.0L632.9 1033.0L631.9 1031.3L631.3 1028.3L631.4 1026.8L631.9 1025.3L633.0 1023.8ZM831.4 866.3L835.4 865.5L836.9 865.7L838.0 866.3L838.7 867.8L837.8 870.8L834.2 875.3L827.8 881.3L822.0 890.3L815.9 897.6L813.8 899.3L811.4 900.6L806.9 901.4L803.9 901.1L802.4 900.5L799.4 898.4L797.2 894.8L796.7 891.8L796.8 888.8L797.4 885.8L798.4 882.8L800.1 879.8L802.4 877.0L805.4 874.8L809.9 872.8L823.4 869.1ZM703.0 933.8L707.9 933.1L710.9 933.4L713.9 934.4L719.0 938.3L730.3 945.8L739.4 949.7L740.7 951.8L742.4 956.4L743.9 958.4L748.1 962.3L749.9 965.0L754.6 975.8L755.5 978.8L756.2 992.3L756.0 995.3L752.0 1004.3L749.2 1013.3L746.9 1015.5L742.4 1018.1L738.5 1022.3L728.9 1029.6L725.9 1031.3L722.9 1032.3L713.9 1033.5L707.9 1033.3L685.4 1028.9L674.9 1025.9L668.9 1025.1L667.4 1023.9L665.1 1019.3L660.6 1013.3L658.6 1011.8L655.4 1010.2L653.8 1008.8L652.9 1007.3L651.9 1004.3L651.1 992.3L651.5 990.8L660.2 974.3L660.6 971.3L659.9 965.3L659.9 962.3L660.7 959.3L664.4 951.1L667.1 948.8L673.8 945.8L683.9 939.1L688.4 937.4ZM830.2 867.8L833.9 867.0L835.4 867.3L836.2 867.8L836.7 869.3L836.3 870.8L834.2 873.8L827.9 879.6L826.5 881.3L821.8 888.8L815.8 896.3L812.9 898.7L808.4 900.4L805.4 900.4L803.9 900.1L802.2 899.3L800.2 897.8L799.0 896.3L797.8 893.3L797.7 888.8L798.3 885.8L799.4 882.8L802.4 878.3L805.4 875.8L809.9 873.7L823.4 870.1ZM707.6 936.8L710.9 936.9L713.9 938.0L722.9 943.6L728.1 947.3L736.4 951.8L737.9 953.4L740.9 958.1L745.9 963.8L747.9 966.8L752.4 975.8L753.8 980.3L753.8 992.3L753.4 995.3L749.9 1002.8L747.4 1010.3L746.5 1011.8L745.1 1013.3L740.9 1016.3L735.2 1022.3L727.4 1028.4L722.9 1030.4L715.4 1031.7L707.9 1031.6L694.4 1029.0L680.9 1025.1L671.9 1021.9L668.9 1019.5L661.4 1010.9L656.3 1007.3L655.2 1005.8L654.6 1004.3L654.0 999.8L653.8 993.8L654.5 990.8L657.7 983.3L661.4 976.9L662.3 974.3L662.5 971.3L662.1 965.3L662.6 962.3L667.0 953.3L668.1 951.8L683.9 941.9L686.9 940.4L691.4 939.2ZM829.9 869.3L832.4 869.0L833.6 869.3L834.1 870.8L833.5 872.3L832.4 873.8L826.4 879.4L820.4 888.8L814.4 896.2L811.4 898.3L809.9 898.9L806.9 899.4L803.9 898.9L800.9 896.9L799.5 894.8L798.9 893.3L798.6 890.3L798.9 887.3L800.4 882.8L802.4 879.8L803.7 878.3L806.9 876.1L811.4 874.2L823.4 871.3ZM706.2 939.8L709.4 939.5L710.9 939.7L713.9 940.9L720.1 944.3L726.1 948.8L731.9 951.7L734.9 953.8L743.2 963.8L745.3 966.8L750.6 977.3L751.5 980.3L751.3 993.8L750.3 996.8L747.4 1002.8L746.0 1007.3L744.6 1010.3L743.4 1011.8L738.0 1016.3L733.8 1020.8L726.5 1026.8L724.4 1028.0L721.4 1029.0L715.4 1030.0L707.9 1030.0L695.9 1027.9L689.9 1026.0L673.4 1019.4L668.9 1016.0L662.9 1009.3L659.1 1005.8L657.4 1002.8L656.4 996.8L656.4 993.8L657.2 990.8L659.4 984.8L662.9 978.2L663.8 975.8L664.2 972.8L664.2 966.8L664.7 963.8L665.9 961.4L672.1 953.3L679.4 947.5L685.4 943.7L688.4 942.2L692.9 941.3L701.9 940.5ZM826.4 872.3L829.4 872.3L829.2 873.8L824.9 878.8L820.4 886.5L814.0 894.8L811.4 896.9L808.4 898.0L805.4 898.0L803.9 897.5L802.1 896.3L800.9 894.8L800.2 893.3L799.7 888.8L800.9 884.3L802.4 881.5L803.9 879.6L806.9 877.3L811.4 875.3L815.9 874.1ZM700.6 942.8L707.9 942.1L710.9 942.3L712.4 942.7L718.4 945.6L724.4 950.4L730.4 953.2L733.4 955.1L736.4 958.3L743.0 966.8L746.0 972.8L748.8 980.3L749.3 990.8L749.0 993.8L745.7 1001.3L743.1 1008.8L740.9 1011.4L736.7 1014.8L727.3 1023.8L724.4 1025.9L719.9 1027.6L713.9 1028.4L709.4 1028.5L698.9 1027.2L691.4 1024.9L682.5 1020.8L676.4 1018.4L671.9 1015.8L668.9 1013.1L662.8 1005.8L661.7 1004.3L660.5 1001.3L659.5 995.3L659.6 992.3L661.2 986.3L665.2 977.3L665.7 974.3L666.2 966.8L667.4 963.7L668.9 962.0L674.0 957.8L677.9 951.8L682.4 948.1L688.4 944.6L691.4 943.6L695.9 943.0ZM811.0 876.8L815.9 875.6L820.4 875.4L821.9 875.9L822.7 876.8L822.6 878.3L821.6 881.3L820.0 884.3L812.9 893.8L811.4 895.1L808.9 896.3L806.9 896.6L805.4 896.4L802.8 894.8L801.8 893.3L801.0 890.3L801.6 885.8L802.9 882.8L805.4 879.8L808.4 877.8ZM691.3 945.8L695.9 944.9L707.9 944.5L710.9 944.8L715.4 946.3L718.4 948.1L722.9 952.0L730.4 955.2L733.4 957.5L739.9 965.3L741.7 968.3L743.7 972.8L746.3 981.8L747.1 990.8L746.2 995.3L743.9 1000.4L741.6 1007.3L739.4 1010.2L733.8 1014.8L725.9 1022.3L724.0 1023.8L721.4 1025.1L716.9 1026.3L709.4 1026.9L700.4 1026.1L694.4 1024.5L683.9 1019.3L676.4 1016.1L673.4 1014.4L670.5 1011.8L668.0 1008.8L665.8 1005.8L664.3 1002.8L663.0 995.3L662.9 990.8L663.9 986.3L666.7 978.8L667.3 975.8L667.7 969.8L668.4 966.8L670.4 964.1L674.9 960.9L676.4 959.4L680.0 953.3L681.4 951.8L686.9 948.0ZM811.3 878.3L815.9 877.6L818.5 878.3L819.3 879.8L818.6 882.8L815.8 887.3L811.4 892.6L808.4 894.3L806.9 894.5L805.4 894.1L803.9 892.9L802.8 890.3L802.6 888.8L803.1 885.8L803.9 883.8L805.8 881.3L808.4 879.4ZM694.0 947.3L697.4 946.9L709.4 947.1L712.4 947.5L715.4 948.7L721.4 953.4L728.9 956.4L731.9 958.3L734.3 960.8L737.8 965.3L739.6 968.3L741.5 972.8L744.3 983.3L744.9 990.8L744.4 993.8L740.2 1005.8L737.9 1009.0L732.6 1013.3L725.9 1019.4L722.9 1021.9L719.9 1023.5L713.9 1024.8L706.4 1025.2L700.4 1024.7L694.4 1023.0L691.4 1021.6L685.0 1017.8L677.9 1014.7L674.9 1013.0L670.7 1008.8L668.6 1005.8L667.2 1002.8L666.0 993.8L665.9 989.3L668.7 978.8L669.5 971.3L670.2 968.3L671.9 966.0L677.9 961.1L682.1 954.8L683.9 952.8L689.9 948.9ZM809.1 881.3L811.4 880.5L812.9 880.4L814.4 880.8L815.0 881.3L815.3 882.8L814.1 885.8L811.4 889.2L809.9 890.4L808.4 891.1L806.9 891.0L805.9 890.3L805.1 888.8L805.1 885.8L806.9 882.8ZM692.2 950.3L695.9 949.2L698.9 949.1L709.4 949.6L713.9 950.6L720.4 954.8L727.4 957.5L730.5 959.3L733.4 962.2L735.8 965.3L738.9 971.3L742.0 981.8L742.9 989.3L742.3 993.8L739.4 1002.9L738.0 1005.8L736.4 1007.7L722.9 1019.1L718.4 1021.7L712.4 1023.1L706.4 1023.5L700.4 1023.1L695.9 1022.0L691.4 1019.9L685.4 1016.1L679.2 1013.3L676.4 1011.7L674.8 1010.3L672.3 1007.3L669.9 1002.8L669.3 999.8L668.4 989.3L670.6 980.3L671.5 972.8L672.4 969.8L673.4 968.2L679.4 962.3L685.2 954.8L688.4 952.4ZM695.0 951.8L698.9 951.4L712.4 952.9L715.4 954.1L719.6 956.3L727.5 959.3L731.3 962.3L734.7 966.8L736.9 971.3L738.9 977.3L740.4 983.3L740.9 989.3L740.0 995.3L737.6 1002.8L734.9 1006.5L725.9 1014.1L719.9 1018.3L715.4 1020.3L709.4 1021.5L703.4 1021.8L698.9 1021.2L694.4 1019.6L691.4 1018.1L685.4 1014.2L677.9 1010.3L676.3 1008.8L674.0 1005.8L672.1 1001.3L670.6 992.3L670.7 987.8L674.0 974.3L675.1 971.3L685.4 957.5L689.9 954.0L692.9 952.5ZM693.2 954.8L695.9 954.0L698.9 953.9L706.4 955.2L712.4 955.8L715.4 956.5L725.9 960.3L728.9 962.3L732.6 966.8L734.9 971.3L737.0 977.3L738.7 983.3L739.0 989.3L738.5 993.8L737.5 998.3L735.5 1002.8L733.0 1005.8L724.4 1012.9L718.4 1016.5L713.9 1018.4L707.9 1019.8L703.4 1019.9L698.9 1019.3L694.4 1017.8L679.3 1008.8L676.6 1005.8L674.4 1001.3L672.7 993.8L672.3 989.3L673.3 984.8L676.4 976.4L680.1 968.3L685.0 960.8L688.4 957.4Z" fill="none" stroke="#000" stroke-width="1.3" stroke-linejoin="round"/>
<rect x="544.4" y="806.3" width="348.7" height="348.3" fill="none" stroke="#000" stroke-width="2"/>
<path d="M891.9 1154.6v4.8M867.1 1154.6v4.8M544.4 832.3h-4.5M842.3 1154.6v4.8M544.4 857.1h-4.5M817.5 1154.6v12.6M544.4 881.9h-12.5M792.7 1154.6v4.8M544.4 906.7h-4.5M767.9 1154.6v4.8M544.4 931.5h-4.5M743.1 1154.6v4.8M544.4 956.3h-4.5M718.3 1154.6v4.8M544.4 981.1h-4.5M693.5 1154.6v12.6M544.4 1005.9h-12.5M668.7 1154.6v4.8M544.4 1030.7h-4.5M643.9 1154.6v4.8M544.4 1055.5h-4.5M619.1 1154.6v4.8M544.4 1080.3h-4.5M594.3 1154.6v4.8M544.4 1105.1h-4.5M569.5 1154.6v12.6M544.4 1129.9h-12.5M544.7 1154.6v4.8M544.4 1154.7h-4.5" stroke="#000" stroke-width="1.9" fill="none"/>
<text x="554.0" y="843.0" font-size="33" fill="#000" text-anchor="start" font-weight="normal" font-style="normal" >285 K</text>
<text x="565.5" y="1191.6" font-size="29" fill="#000" text-anchor="middle" font-weight="normal" font-style="normal" >-100</text>
<text x="689.1" y="1191.6" font-size="29" fill="#000" text-anchor="middle" font-weight="normal" font-style="normal" >-105</text>
<text x="813.4" y="1191.6" font-size="29" fill="#000" text-anchor="middle" font-weight="normal" font-style="normal" >-110</text>
<text x="616.8" y="1229.2" font-size="36.9" fill="#000" text-anchor="start" font-weight="normal" font-style="normal" ><tspan font-size="25.6" dy="-8.4">19</tspan><tspan dy="8.4">F (ppm)</tspan></text>
<ellipse cx="683.4" cy="882.8" rx="75" ry="32" transform="rotate(-2 683.4 882.8)" fill="none" stroke="#ff0000" stroke-width="3.1" stroke-dasharray="9.8 6.7"/>
<ellipse cx="812.7" cy="1012.9" rx="37.5" ry="71" fill="none" stroke="#ff0000" stroke-width="3.1" stroke-dasharray="9.8 6.7"/>
<path d="M630.7 880.3L643.3 892.3M630.7 892.3L643.3 880.3" stroke="#0000ff" stroke-width="4.6" fill="none"/>
<path d="M804.5 957.9L817.1 969.9M804.5 969.9L817.1 957.9" stroke="#0000ff" stroke-width="4.6" fill="none"/>
<path d="M804.5 1003.0L817.1 1015.0M804.5 1015.0L817.1 1003.0" stroke="#0000ff" stroke-width="4.6" fill="none"/>
<path d="M804.5 1063.7L817.1 1075.7M804.5 1075.7L817.1 1063.7" stroke="#0000ff" stroke-width="4.6" fill="none"/>
<text x="984.0" y="795.0" font-size="40" fill="#000" text-anchor="start" font-weight="bold" font-style="normal" >e</text>
<path d="M1078.6 1116.1L1083.4 1109.6L1088.2 1103.7L1093.0 1098.4L1097.8 1093.6L1102.6 1089.4L1107.4 1085.5L1112.3 1082.1L1118.7 1078.0L1125.1 1074.5L1131.5 1071.5L1137.9 1068.8L1144.3 1066.6L1150.7 1064.6L1158.7 1062.5L1166.7 1060.7L1174.8 1059.2L1182.8 1058.0L1190.8 1056.9L1200.4 1055.9L1210.0 1055.1L1221.2 1054.3L1232.4 1053.7L1258.1 1052.8L1288.5 1052.3L1327.0 1051.9L1378.3 1051.7L1463.2 1051.7" fill="none" stroke="#00923f" stroke-width="2.9" stroke-linejoin="round" stroke-linecap="round" />
<path d="M1078.6 1116.1L1081.8 1107.8L1085.0 1100.2L1088.2 1093.4L1093.0 1084.3L1096.2 1079.0L1101.0 1071.9L1105.8 1065.9L1110.6 1060.6L1115.5 1056.2L1120.3 1052.3L1125.1 1049.0L1128.3 1047.0L1131.5 1045.2L1137.9 1042.2L1144.3 1039.7L1150.7 1037.6L1158.7 1035.6L1165.1 1034.3L1171.5 1033.2L1179.6 1032.1L1187.6 1031.3L1197.2 1030.5L1206.8 1030.0L1230.8 1029.1L1258.1 1028.7L1294.9 1028.5L1463.2 1028.4" fill="none" stroke="#0070c0" stroke-width="2.9" stroke-linejoin="round" stroke-linecap="round" />
<path d="M1078.6 1116.1L1083.4 1104.2L1089.8 1089.6L1096.2 1076.4L1102.6 1064.5L1109.0 1053.7L1115.5 1044.0L1121.9 1035.1L1128.3 1027.1L1134.7 1019.9L1137.9 1016.6L1142.7 1011.8L1145.9 1008.9L1150.7 1004.7L1158.7 998.4L1166.7 992.9L1174.8 988.0L1179.6 985.3L1184.4 982.8L1194.0 978.4L1203.6 974.6L1213.2 971.4L1224.4 968.1L1235.6 965.4L1246.9 963.1L1259.7 960.9L1272.5 959.2L1286.9 957.5L1303.0 956.1L1319.0 955.0L1336.6 954.1L1355.8 953.3L1378.3 952.7L1402.3 952.2L1463.2 951.6" fill="none" stroke="#ff0000" stroke-width="3.0" stroke-linejoin="round" stroke-linecap="butt" stroke-dasharray="10.5 7.5"/>
<path d="M1078.6 1116.1L1083.4 1093.9L1086.6 1080.1L1089.8 1067.0L1094.6 1048.8L1097.8 1037.4L1101.0 1026.6L1105.8 1011.6L1109.0 1002.2L1112.3 993.4L1115.5 985.0L1118.7 977.1L1121.9 969.6L1125.1 962.5L1131.5 949.5L1134.7 943.5L1139.5 935.1L1145.9 924.9L1149.1 920.2L1153.9 913.7L1157.1 909.6L1161.9 903.9L1165.1 900.4L1169.9 895.4L1173.1 892.4L1178.0 888.1L1182.8 884.1L1187.6 880.4L1192.4 877.1L1197.2 874.0L1202.0 871.1L1206.8 868.5L1211.6 866.1L1216.4 863.9L1221.2 861.9L1227.6 859.4L1232.4 857.7L1238.8 855.7L1245.3 853.9L1251.7 852.3L1264.5 849.5L1278.9 847.1L1293.3 845.2L1309.4 843.5L1327.0 842.2L1347.8 841.1L1370.3 840.2L1395.9 839.6L1426.3 839.1L1463.2 838.8" fill="none" stroke="#ed1c24" stroke-width="2.9" stroke-linejoin="round" stroke-linecap="round" />
<circle cx="1094.9" cy="1046.8" r="10" fill="#ff0000"/>
<circle cx="1111.0" cy="1046.8" r="10" fill="#ff0000"/>
<circle cx="1143.5" cy="924.2" r="10" fill="#ff0000"/>
<circle cx="1207.6" cy="816.4" r="10" fill="#ff0000"/>
<circle cx="1319.6" cy="841.9" r="10" fill="#ff0000"/>
<circle cx="1400.0" cy="870.9" r="10" fill="#ff0000"/>
<circle cx="1093.3" cy="1079.0" r="10" fill="#ff0000"/>
<circle cx="1081.3" cy="1106.9" r="7.6" fill="#fff" stroke="#ff0000" stroke-width="3.8"/>
<circle cx="1111.0" cy="1028.1" r="7.6" fill="#fff" stroke="#ff0000" stroke-width="3.8"/>
<circle cx="1142.7" cy="1021.0" r="7.6" fill="#fff" stroke="#ff0000" stroke-width="3.8"/>
<circle cx="1206.9" cy="984.0" r="7.6" fill="#fff" stroke="#ff0000" stroke-width="3.8"/>
<circle cx="1318.9" cy="974.4" r="7.6" fill="#fff" stroke="#ff0000" stroke-width="3.8"/>
<circle cx="1399.2" cy="927.2" r="7.6" fill="#fff" stroke="#ff0000" stroke-width="3.8"/>
<circle cx="1080.7" cy="1092.7" r="10" fill="#00923f"/>
<circle cx="1093.6" cy="1081.7" r="10" fill="#00923f"/>
<circle cx="1110.4" cy="1084.3" r="10" fill="#00923f"/>
<circle cx="1142.7" cy="1075.3" r="10" fill="#00923f"/>
<circle cx="1206.6" cy="1061.4" r="10" fill="#00923f"/>
<circle cx="1319.6" cy="1047.8" r="10" fill="#00923f"/>
<circle cx="1399.2" cy="1045.8" r="10" fill="#00923f"/>
<circle cx="1082.0" cy="1092.1" r="10" fill="#0070c0"/>
<circle cx="1095.5" cy="1065.6" r="10" fill="#0070c0"/>
<circle cx="1111.7" cy="1073.3" r="10" fill="#0070c0"/>
<circle cx="1143.3" cy="1041.7" r="10" fill="#0070c0"/>
<circle cx="1207.7" cy="1032.2" r="10" fill="#0070c0"/>
<circle cx="1319.6" cy="1024.6" r="10" fill="#0070c0"/>
<circle cx="1400.0" cy="1025.7" r="10" fill="#0070c0"/>
<rect x="1078.6" y="805.6" width="384.6" height="338.7" fill="none" stroke="#000" stroke-width="3.1"/>
<path d="M1078.6 1116.1H1066.1M1078.6 1059.3H1066.1M1078.6 1002.5H1066.1M1078.6 945.8H1066.1M1078.6 889.0H1066.1M1078.6 832.2H1066.1M1078.6 1144.3V1156.1M1142.7 1144.3V1156.1M1206.8 1144.3V1156.1M1270.9 1144.3V1156.1M1335.0 1144.3V1156.1M1399.1 1144.3V1156.1M1463.2 1144.3V1156.1" stroke="#000" stroke-width="2.7" fill="none"/>
<text x="1061.6" y="1128.1" font-size="33" fill="#000" text-anchor="end" font-weight="normal" font-style="normal" >0.0</text>
<text x="1061.6" y="1071.3" font-size="33" fill="#000" text-anchor="end" font-weight="normal" font-style="normal" >0.2</text>
<text x="1061.6" y="1014.5" font-size="33" fill="#000" text-anchor="end" font-weight="normal" font-style="normal" >0.4</text>
<text x="1061.6" y="957.8" font-size="33" fill="#000" text-anchor="end" font-weight="normal" font-style="normal" >0.6</text>
<text x="1061.6" y="901.0" font-size="33" fill="#000" text-anchor="end" font-weight="normal" font-style="normal" >0.8</text>
<text x="1061.6" y="844.2" font-size="33" fill="#000" text-anchor="end" font-weight="normal" font-style="normal" >1.0</text>
<text x="1078.6" y="1180.3" font-size="29" fill="#000" text-anchor="middle" font-weight="normal" font-style="normal" >0</text>
<text x="1142.7" y="1180.3" font-size="29" fill="#000" text-anchor="middle" font-weight="normal" font-style="normal" >20</text>
<text x="1206.8" y="1180.3" font-size="29" fill="#000" text-anchor="middle" font-weight="normal" font-style="normal" >40</text>
<text x="1270.9" y="1180.3" font-size="29" fill="#000" text-anchor="middle" font-weight="normal" font-style="normal" >60</text>
<text x="1335.0" y="1180.3" font-size="29" fill="#000" text-anchor="middle" font-weight="normal" font-style="normal" >80</text>
<text x="1399.1" y="1180.3" font-size="29" fill="#000" text-anchor="middle" font-weight="normal" font-style="normal" >100</text>
<text x="1463.2" y="1180.3" font-size="29" fill="#000" text-anchor="middle" font-weight="normal" font-style="normal" >120</text>
<text x="1262.0" y="1216.0" font-size="33" fill="#000" text-anchor="middle" font-weight="normal" font-style="normal" >Mixing Time (ms)</text>
<text transform="translate(995.8 975.5) rotate(-90)" font-size="32.8" text-anchor="middle">cross peak intensity</text>
<text x="1101.5" y="868.2" font-size="32.2" fill="#ed1c24" text-anchor="start" font-weight="normal" font-style="normal" >18<tspan font-size="21.5" dy="-8.4">±5</tspan><tspan dy="8.4" dx="1.5"> ms</tspan></text>
<text x="1232.5" y="942.6" font-size="32.2" fill="#ff0000" text-anchor="start" font-weight="normal" font-style="normal" >20<tspan font-size="21.5" dy="-8.4">±5</tspan><tspan dy="8.4" dx="1.5"> ms</tspan></text>
<text x="1337.0" y="1009.1" font-size="32.2" fill="#0070c0" text-anchor="start" font-weight="normal" font-style="normal" >10<tspan font-size="21.5" dy="-8.4">±3</tspan><tspan dy="8.4" dx="1.5"> ms</tspan></text>
<text x="1336.0" y="1090.2" font-size="32.2" fill="#00923f" text-anchor="start" font-weight="normal" font-style="normal" >14<tspan font-size="21.5" dy="-8.4">±6</tspan><tspan dy="8.4" dx="1.5"> ms</tspan></text>
<text x="1473.0" y="852.0" font-size="32.85" fill="#ed1c24" text-anchor="start" font-weight="normal" font-style="normal" >-103 ppm -&gt; -110 ppm</text>
<text x="1473.0" y="959.1" font-size="32.85" fill="#ff0000" text-anchor="start" font-weight="normal" font-style="normal" >-110 ppm -&gt; -103 ppm</text>
<text x="1473.0" y="1030.5" font-size="32.85" fill="#0070c0" text-anchor="start" font-weight="normal" font-style="normal" >-105 ppm -&gt; -110 ppm</text>
<text x="1473.0" y="1069.8" font-size="32.85" fill="#00923f" text-anchor="start" font-weight="normal" font-style="normal" >-106 ppm -&gt; -110 ppm</text>
</svg>
</body></html>
